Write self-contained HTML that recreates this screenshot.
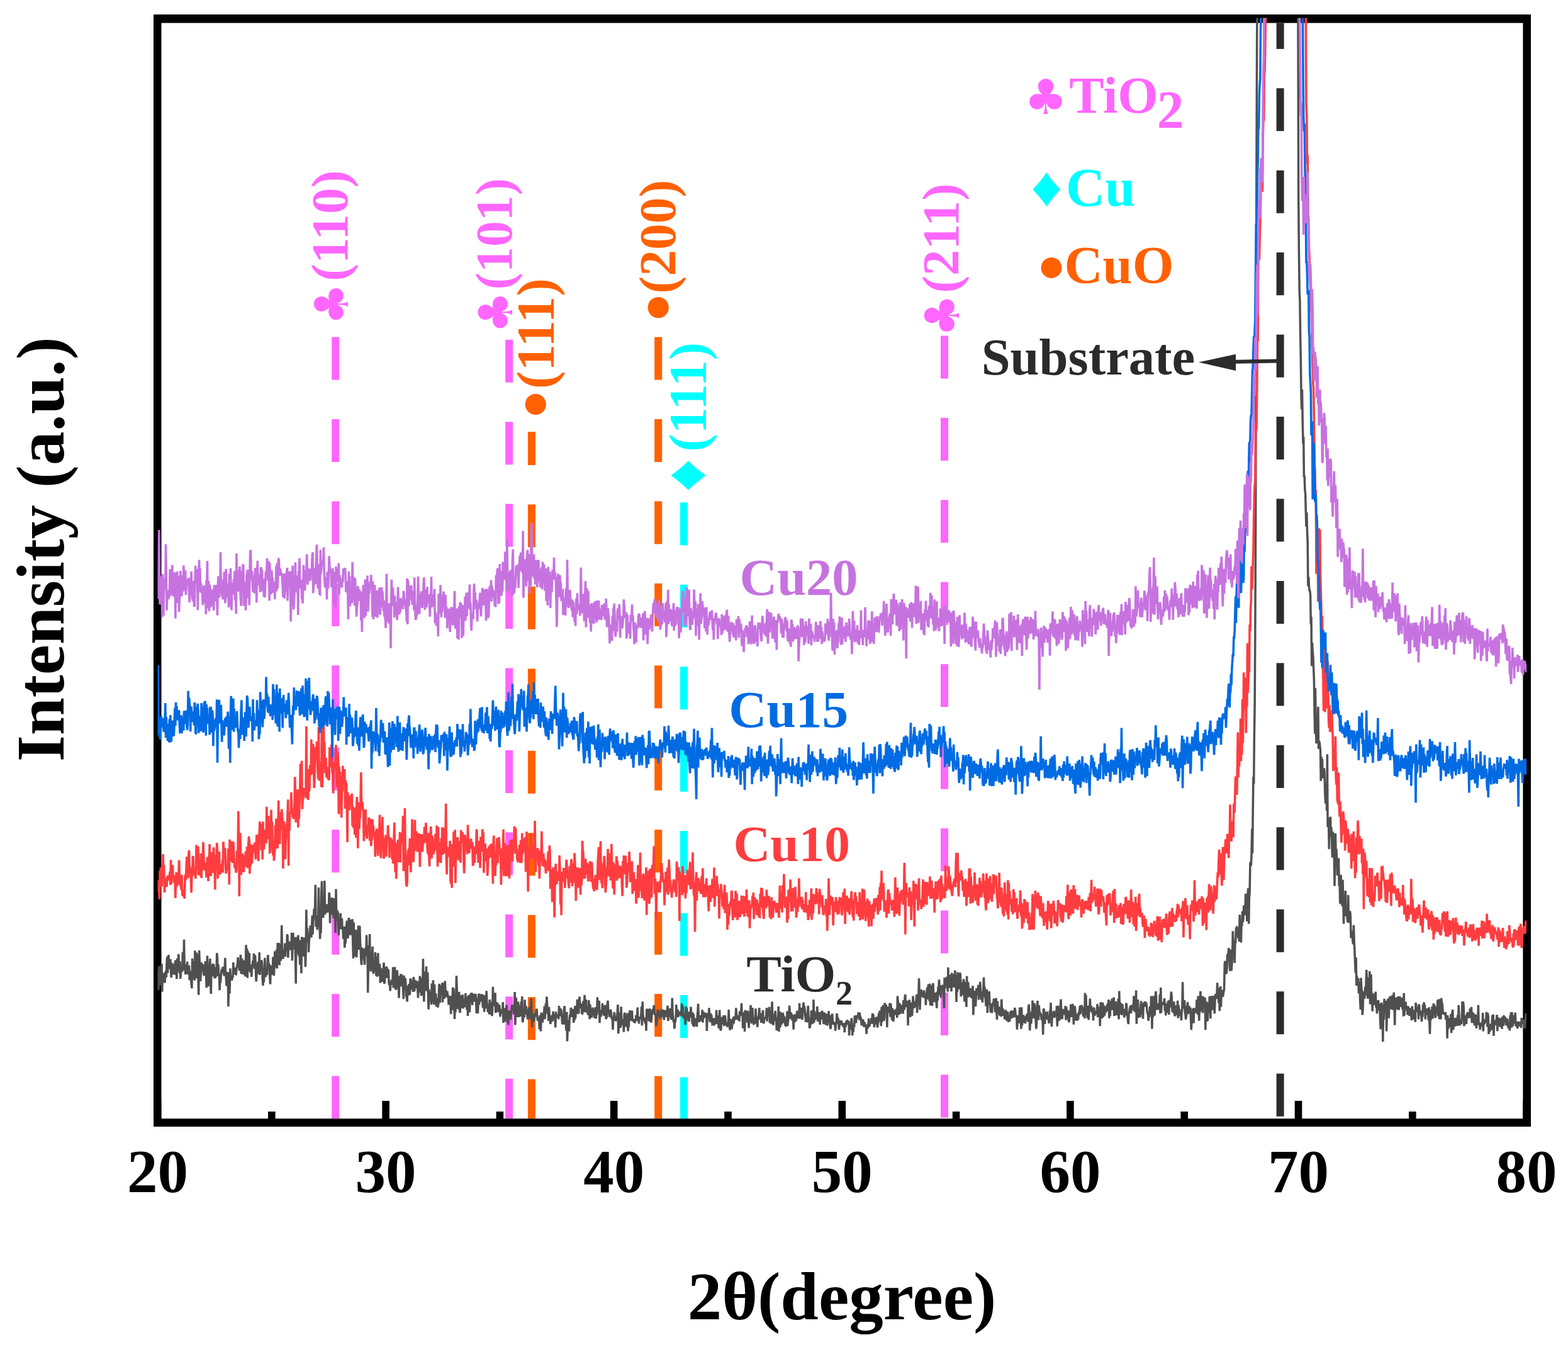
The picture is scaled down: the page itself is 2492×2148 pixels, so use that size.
<!DOCTYPE html>
<html><head><meta charset="utf-8"><title>XRD</title>
<style>html,body{margin:0;padding:0;background:#fff;overflow:hidden;}svg{display:block;}
text{font-family:"Liberation Serif","DejaVu Serif",serif;font-weight:bold;}</style></head>
<body><svg width="2492" height="2148" viewBox="0 0 2492 2148">
<rect width="2492" height="2148" fill="#fff"/>
<defs><clipPath id="pc"><rect x="250.5" y="28.5" width="2175.7" height="1755"/></clipPath></defs>

<g id="refs">
<rect x="527.2" y="535.5" width="12" height="68.0" fill="#FF66FF"/>
<rect x="527.2" y="666.0" width="12" height="68.0" fill="#FF66FF"/>
<rect x="527.2" y="796.4" width="12" height="68.0" fill="#FF66FF"/>
<rect x="527.2" y="926.9" width="12" height="68.0" fill="#FF66FF"/>
<rect x="527.2" y="1057.3" width="12" height="68.0" fill="#FF66FF"/>
<rect x="527.2" y="1187.8" width="12" height="68.0" fill="#FF66FF"/>
<rect x="527.2" y="1318.2" width="12" height="68.0" fill="#FF66FF"/>
<rect x="527.2" y="1448.7" width="12" height="68.0" fill="#FF66FF"/>
<rect x="527.2" y="1579.1" width="12" height="68.0" fill="#FF66FF"/>
<rect x="527.2" y="1709.6" width="12" height="67.4" fill="#FF66FF"/>
<rect x="803.2" y="539.7" width="12" height="68.0" fill="#FF66FF"/>
<rect x="803.2" y="670.2" width="12" height="68.0" fill="#FF66FF"/>
<rect x="803.2" y="800.6" width="12" height="68.0" fill="#FF66FF"/>
<rect x="803.2" y="931.1" width="12" height="68.0" fill="#FF66FF"/>
<rect x="803.2" y="1061.5" width="12" height="68.0" fill="#FF66FF"/>
<rect x="803.2" y="1192.0" width="12" height="68.0" fill="#FF66FF"/>
<rect x="803.2" y="1322.4" width="12" height="68.0" fill="#FF66FF"/>
<rect x="803.2" y="1452.9" width="12" height="68.0" fill="#FF66FF"/>
<rect x="803.2" y="1583.3" width="12" height="68.0" fill="#FF66FF"/>
<rect x="803.2" y="1713.8" width="12" height="63.2" fill="#FF66FF"/>
<rect x="838.9" y="686.0" width="12" height="53.0" fill="#FF6100"/>
<rect x="838.9" y="801.5" width="12" height="68.0" fill="#FF6100"/>
<rect x="838.9" y="931.9" width="12" height="68.0" fill="#FF6100"/>
<rect x="838.9" y="1062.4" width="12" height="68.0" fill="#FF6100"/>
<rect x="838.9" y="1192.8" width="12" height="68.0" fill="#FF6100"/>
<rect x="838.9" y="1323.3" width="12" height="68.0" fill="#FF6100"/>
<rect x="838.9" y="1453.7" width="12" height="68.0" fill="#FF6100"/>
<rect x="838.9" y="1584.2" width="12" height="68.0" fill="#FF6100"/>
<rect x="838.9" y="1714.6" width="12" height="62.4" fill="#FF6100"/>
<rect x="1040.2" y="535.5" width="12" height="68.0" fill="#FF6100"/>
<rect x="1040.2" y="666.0" width="12" height="68.0" fill="#FF6100"/>
<rect x="1040.2" y="796.4" width="12" height="68.0" fill="#FF6100"/>
<rect x="1040.2" y="926.9" width="12" height="68.0" fill="#FF6100"/>
<rect x="1040.2" y="1057.3" width="12" height="68.0" fill="#FF6100"/>
<rect x="1040.2" y="1187.8" width="12" height="68.0" fill="#FF6100"/>
<rect x="1040.2" y="1318.2" width="12" height="68.0" fill="#FF6100"/>
<rect x="1040.2" y="1448.7" width="12" height="68.0" fill="#FF6100"/>
<rect x="1040.2" y="1579.1" width="12" height="68.0" fill="#FF6100"/>
<rect x="1040.2" y="1709.6" width="12" height="67.4" fill="#FF6100"/>
<rect x="1081.0" y="798.3" width="12" height="68.0" fill="#00FFFF"/>
<rect x="1081.0" y="928.8" width="12" height="68.0" fill="#00FFFF"/>
<rect x="1081.0" y="1059.2" width="12" height="68.0" fill="#00FFFF"/>
<rect x="1081.0" y="1189.7" width="12" height="68.0" fill="#00FFFF"/>
<rect x="1081.0" y="1320.1" width="12" height="68.0" fill="#00FFFF"/>
<rect x="1081.0" y="1450.6" width="12" height="68.0" fill="#00FFFF"/>
<rect x="1081.0" y="1581.0" width="12" height="68.0" fill="#00FFFF"/>
<rect x="1081.0" y="1711.5" width="12" height="65.5" fill="#00FFFF"/>
<rect x="1495.0" y="533.4" width="12" height="68.0" fill="#FF66FF"/>
<rect x="1495.0" y="663.8" width="12" height="68.0" fill="#FF66FF"/>
<rect x="1495.0" y="794.3" width="12" height="68.0" fill="#FF66FF"/>
<rect x="1495.0" y="924.8" width="12" height="68.0" fill="#FF66FF"/>
<rect x="1495.0" y="1055.2" width="12" height="68.0" fill="#FF66FF"/>
<rect x="1495.0" y="1185.7" width="12" height="68.0" fill="#FF66FF"/>
<rect x="1495.0" y="1316.1" width="12" height="68.0" fill="#FF66FF"/>
<rect x="1495.0" y="1446.6" width="12" height="68.0" fill="#FF66FF"/>
<rect x="1495.0" y="1577.0" width="12" height="68.0" fill="#FF66FF"/>
<rect x="1495.0" y="1707.5" width="12" height="68.0" fill="#FF66FF"/>
<rect x="2028.6" y="36.5" width="12" height="41.3" fill="#2B2B2B"/>
<rect x="2028.6" y="140.2" width="12" height="68.0" fill="#2B2B2B"/>
<rect x="2028.6" y="270.7" width="12" height="68.0" fill="#2B2B2B"/>
<rect x="2028.6" y="401.1" width="12" height="68.0" fill="#2B2B2B"/>
<rect x="2028.6" y="531.6" width="12" height="68.0" fill="#2B2B2B"/>
<rect x="2028.6" y="662.0" width="12" height="68.0" fill="#2B2B2B"/>
<rect x="2028.6" y="792.5" width="12" height="68.0" fill="#2B2B2B"/>
<rect x="2028.6" y="923.0" width="12" height="68.0" fill="#2B2B2B"/>
<rect x="2028.6" y="1053.4" width="12" height="68.0" fill="#2B2B2B"/>
<rect x="2028.6" y="1183.9" width="12" height="68.0" fill="#2B2B2B"/>
<rect x="2028.6" y="1314.3" width="12" height="68.0" fill="#2B2B2B"/>
<rect x="2028.6" y="1444.8" width="12" height="68.0" fill="#2B2B2B"/>
<rect x="2028.6" y="1575.2" width="12" height="68.0" fill="#2B2B2B"/>
<rect x="2028.6" y="1705.7" width="12" height="68.0" fill="#2B2B2B"/>
</g>
<g fill="#000">
<rect x="244" y="23" width="2189" height="13.5"/>
<rect x="244" y="1777.2" width="2189" height="12.8"/>
<rect x="244" y="23" width="12.5" height="1767"/>
<rect x="2420.4" y="23" width="12.6" height="1767"/>
<rect x="244.7" y="1749" width="11.6" height="30"/>
<rect x="426.0" y="1766" width="11.6" height="13"/>
<rect x="607.3" y="1749" width="11.6" height="30"/>
<rect x="788.6" y="1766" width="11.6" height="13"/>
<rect x="969.9" y="1749" width="11.6" height="30"/>
<rect x="1151.2" y="1766" width="11.6" height="13"/>
<rect x="1332.5" y="1749" width="11.6" height="30"/>
<rect x="1513.8" y="1766" width="11.6" height="13"/>
<rect x="1695.1" y="1749" width="11.6" height="30"/>
<rect x="1876.4" y="1766" width="11.6" height="13"/>
<rect x="2057.7" y="1749" width="11.6" height="30"/>
<rect x="2239.0" y="1766" width="11.6" height="13"/>
<rect x="2420.3" y="1749" width="11.6" height="30"/>
</g>
<g clip-path="url(#pc)">
<polyline points="250.5,1543.5 251.2,1562.1 251.9,1572.9 252.7,1534.8 253.4,1544.0 254.1,1542.9 254.8,1565.2 255.6,1553.6 256.3,1565.7 257.0,1531.0 257.7,1575.6 258.5,1551.6 259.2,1560.6 259.9,1549.0 260.6,1545.9 261.4,1557.3 262.1,1561.5 262.8,1546.0 263.5,1542.7 264.3,1552.8 265.0,1529.7 265.7,1519.9 266.4,1545.8 267.2,1532.3 267.9,1517.0 268.6,1533.6 269.3,1539.2 270.1,1529.1 270.8,1523.8 271.5,1542.9 272.2,1553.2 273.0,1537.1 273.7,1529.8 274.4,1544.5 275.1,1547.6 275.9,1532.0 276.6,1542.2 277.3,1548.6 278.0,1532.3 278.8,1525.6 279.5,1543.2 280.2,1543.1 280.9,1555.4 281.7,1522.8 282.4,1531.1 283.1,1528.4 283.8,1515.7 284.6,1540.8 285.3,1545.7 286.0,1527.4 286.7,1555.2 287.5,1545.8 288.2,1541.5 288.9,1537.0 289.6,1543.9 290.4,1512.6 291.1,1540.0 291.8,1541.0 292.5,1492.8 293.3,1540.0 294.0,1532.9 294.7,1548.2 295.4,1532.4 296.2,1539.0 296.9,1544.4 297.6,1527.8 298.3,1548.0 299.1,1538.4 299.8,1547.0 300.5,1533.9 301.2,1557.2 302.0,1551.9 302.7,1542.4 303.4,1554.3 304.1,1563.2 304.9,1570.1 305.6,1522.9 306.3,1555.3 307.0,1548.3 307.8,1539.9 308.5,1527.0 309.2,1557.7 309.9,1510.2 310.7,1546.0 311.4,1554.5 312.1,1513.3 312.8,1530.2 313.6,1516.0 314.3,1537.1 315.0,1554.5 315.7,1580.8 316.5,1509.9 317.2,1527.1 317.9,1545.6 318.6,1558.8 319.4,1544.2 320.1,1529.1 320.8,1543.7 321.5,1539.8 322.3,1535.9 323.0,1531.8 323.7,1548.4 324.4,1548.6 325.2,1543.9 325.9,1542.2 326.6,1527.1 327.3,1536.6 328.1,1569.2 328.8,1536.9 329.5,1518.4 330.2,1567.5 331.0,1544.1 331.7,1566.3 332.4,1540.2 333.1,1534.8 333.9,1523.1 334.6,1561.5 335.3,1578.9 336.0,1533.5 336.8,1535.3 337.5,1551.1 338.2,1530.9 338.9,1537.3 339.7,1532.2 340.4,1542.3 341.1,1554.4 341.8,1540.6 342.6,1553.6 343.3,1536.7 344.0,1547.2 344.7,1514.1 345.5,1522.3 346.2,1551.1 346.9,1532.0 347.6,1547.8 348.4,1548.6 349.1,1573.3 349.8,1556.3 350.5,1561.1 351.3,1547.9 352.0,1541.6 352.7,1542.0 353.4,1545.3 354.2,1536.0 354.9,1542.2 355.6,1546.6 356.3,1550.1 357.1,1542.0 357.8,1521.7 358.5,1547.0 359.2,1553.3 360.0,1566.5 360.7,1561.1 361.4,1545.8 362.1,1544.8 362.9,1599.0 363.6,1563.0 364.3,1576.0 365.0,1578.6 365.8,1538.5 366.5,1553.6 367.2,1554.3 367.9,1555.9 368.7,1556.1 369.4,1551.9 370.1,1551.6 370.8,1529.0 371.6,1545.8 372.3,1537.2 373.0,1547.4 373.7,1537.5 374.5,1548.9 375.2,1548.1 375.9,1538.1 376.6,1535.9 377.4,1532.0 378.1,1521.0 378.8,1529.9 379.5,1526.3 380.3,1542.1 381.0,1533.9 381.7,1541.6 382.4,1516.8 383.2,1547.5 383.9,1527.2 384.6,1522.9 385.3,1539.1 386.1,1536.1 386.8,1548.4 387.5,1536.2 388.2,1527.2 389.0,1526.6 389.7,1551.5 390.4,1531.0 391.1,1501.4 391.9,1527.5 392.6,1507.0 393.3,1553.7 394.0,1510.8 394.8,1539.6 395.5,1541.3 396.2,1514.0 396.9,1539.6 397.7,1545.0 398.4,1537.1 399.1,1534.0 399.8,1552.0 400.6,1531.9 401.3,1533.4 402.0,1526.1 402.7,1535.8 403.5,1514.7 404.2,1539.3 404.9,1518.8 405.6,1517.9 406.4,1539.7 407.1,1559.4 407.8,1550.6 408.5,1531.1 409.3,1547.4 410.0,1527.9 410.7,1537.7 411.4,1542.6 412.2,1513.0 412.9,1549.0 413.6,1534.1 414.3,1538.8 415.1,1527.5 415.8,1525.5 416.5,1531.8 417.2,1554.7 418.0,1565.9 418.7,1544.1 419.4,1560.5 420.1,1543.6 420.9,1521.7 421.6,1550.3 422.3,1552.0 423.0,1539.1 423.8,1547.3 424.5,1548.9 425.2,1527.2 425.9,1517.0 426.7,1533.1 427.4,1531.5 428.1,1532.8 428.8,1552.7 429.6,1563.7 430.3,1533.8 431.0,1547.7 431.7,1548.5 432.5,1542.1 433.2,1543.5 433.9,1520.2 434.6,1533.6 435.4,1550.1 436.1,1532.0 436.8,1511.3 437.5,1534.3 438.3,1536.8 439.0,1523.0 439.7,1508.7 440.4,1538.6 441.2,1498.1 441.9,1523.2 442.6,1515.3 443.3,1498.0 444.1,1533.3 444.8,1521.3 445.5,1500.0 446.2,1526.4 447.0,1511.5 447.7,1470.1 448.4,1506.8 449.1,1519.7 449.9,1523.3 450.6,1514.1 451.3,1509.6 452.0,1513.2 452.8,1498.6 453.5,1519.8 454.2,1503.6 454.9,1508.5 455.7,1508.9 456.4,1484.3 457.1,1488.6 457.8,1521.7 458.6,1503.8 459.3,1495.6 460.0,1506.8 460.7,1496.4 461.5,1509.2 462.2,1495.5 462.9,1510.0 463.6,1481.9 464.4,1526.3 465.1,1498.3 465.8,1481.9 466.5,1502.6 467.3,1500.4 468.0,1508.4 468.7,1488.7 469.4,1512.6 470.2,1562.8 470.9,1488.8 471.6,1515.3 472.3,1507.0 473.1,1516.0 473.8,1485.7 474.5,1495.6 475.2,1519.4 476.0,1509.7 476.7,1533.0 477.4,1493.9 478.1,1505.1 478.9,1546.4 479.6,1489.8 480.3,1489.3 481.0,1504.6 481.8,1505.8 482.5,1519.7 483.2,1506.6 483.9,1489.3 484.7,1500.8 485.4,1536.1 486.1,1511.9 486.8,1445.4 487.6,1487.2 488.3,1474.4 489.0,1497.2 489.7,1481.7 490.5,1513.0 491.2,1493.4 491.9,1490.0 492.6,1478.2 493.4,1470.4 494.1,1475.1 494.8,1489.5 495.5,1475.3 496.3,1454.6 497.0,1484.6 497.7,1464.5 498.4,1457.9 499.2,1443.5 499.9,1445.4 500.6,1443.0 501.3,1405.8 502.1,1472.6 502.8,1466.6 503.5,1454.6 504.2,1477.3 505.0,1466.2 505.7,1463.2 506.4,1410.0 507.1,1445.8 507.9,1455.6 508.6,1491.6 509.3,1473.3 510.0,1482.4 510.8,1418.3 511.5,1399.8 512.2,1449.5 512.9,1440.2 513.7,1458.1 514.4,1440.1 515.1,1448.0 515.8,1399.2 516.6,1453.0 517.3,1436.2 518.0,1449.2 518.7,1449.9 519.5,1438.1 520.2,1444.4 520.9,1436.7 521.6,1449.4 522.4,1444.0 523.1,1418.0 523.8,1424.5 524.5,1466.7 525.3,1433.3 526.0,1453.3 526.7,1443.2 527.4,1427.6 528.2,1426.8 528.9,1445.3 529.6,1450.4 530.3,1458.8 531.1,1427.0 531.8,1440.6 532.5,1451.0 533.2,1482.1 534.0,1412.5 534.7,1462.2 535.4,1445.2 536.1,1463.0 536.9,1447.7 537.6,1468.4 538.3,1486.0 539.0,1465.6 539.8,1467.7 540.5,1468.2 541.2,1451.1 541.9,1476.4 542.7,1466.4 543.4,1458.9 544.1,1474.1 544.8,1473.3 545.6,1491.6 546.3,1478.9 547.0,1472.1 547.7,1505.6 548.5,1496.4 549.2,1498.7 549.9,1484.7 550.6,1470.5 551.4,1464.5 552.1,1464.8 552.8,1490.9 553.5,1480.8 554.3,1458.0 555.0,1483.6 555.7,1461.2 556.4,1485.6 557.2,1462.4 557.9,1461.5 558.6,1485.1 559.3,1483.9 560.1,1460.2 560.8,1499.7 561.5,1522.8 562.2,1465.5 563.0,1519.5 563.7,1482.0 564.4,1482.4 565.1,1495.3 565.9,1477.2 566.6,1521.1 567.3,1507.8 568.0,1486.7 568.8,1491.8 569.5,1470.5 570.2,1487.9 570.9,1508.9 571.7,1470.8 572.4,1494.3 573.1,1507.4 573.8,1525.1 574.6,1533.1 575.3,1508.4 576.0,1505.7 576.7,1523.5 577.5,1509.6 578.2,1507.7 578.9,1525.7 579.6,1532.8 580.4,1511.4 581.1,1505.7 581.8,1519.0 582.5,1485.5 583.3,1515.1 584.0,1502.0 584.7,1577.3 585.4,1530.1 586.2,1522.1 586.9,1515.3 587.6,1484.1 588.3,1529.9 589.1,1543.5 589.8,1511.7 590.5,1532.5 591.2,1534.1 592.0,1503.7 592.7,1539.6 593.4,1547.1 594.1,1533.2 594.9,1530.8 595.6,1543.8 596.3,1512.8 597.0,1535.9 597.8,1549.8 598.5,1519.6 599.2,1551.7 599.9,1534.6 600.7,1514.1 601.4,1542.6 602.1,1532.3 602.8,1550.6 603.6,1531.2 604.3,1561.6 605.0,1537.9 605.7,1552.4 606.5,1538.9 607.2,1541.2 607.9,1560.0 608.6,1546.5 609.4,1539.0 610.1,1529.3 610.8,1562.9 611.5,1558.9 612.3,1546.0 613.0,1554.0 613.7,1537.4 614.4,1537.2 615.2,1538.8 615.9,1553.3 616.6,1552.4 617.3,1540.0 618.1,1561.6 618.8,1565.5 619.5,1561.1 620.2,1574.4 621.0,1558.1 621.7,1559.4 622.4,1564.7 623.1,1555.8 623.9,1564.0 624.6,1536.5 625.3,1569.7 626.0,1542.0 626.8,1549.1 627.5,1536.3 628.2,1562.4 628.9,1572.2 629.7,1571.3 630.4,1569.9 631.1,1541.4 631.8,1552.1 632.6,1556.5 633.3,1550.6 634.0,1585.7 634.7,1563.9 635.5,1561.1 636.2,1567.2 636.9,1549.1 637.6,1549.2 638.4,1549.3 639.1,1566.5 639.8,1565.5 640.5,1569.9 641.3,1587.1 642.0,1549.9 642.7,1561.3 643.4,1571.3 644.2,1553.9 644.9,1564.2 645.6,1582.8 646.3,1583.3 647.1,1591.4 647.8,1569.3 648.5,1566.0 649.2,1581.3 650.0,1563.2 650.7,1570.6 651.4,1580.8 652.1,1555.9 652.9,1555.2 653.6,1562.3 654.3,1570.4 655.0,1570.7 655.8,1569.0 656.5,1575.9 657.2,1552.3 657.9,1555.2 658.7,1575.2 659.4,1562.7 660.1,1558.0 660.8,1559.4 661.6,1562.4 662.3,1570.0 663.0,1558.5 663.7,1571.0 664.5,1585.4 665.2,1560.6 665.9,1577.0 666.6,1565.7 667.4,1550.7 668.1,1562.4 668.8,1555.4 669.5,1582.3 670.3,1553.6 671.0,1580.7 671.7,1570.6 672.4,1523.2 673.2,1576.8 673.9,1591.5 674.6,1552.9 675.3,1573.9 676.1,1543.6 676.8,1568.2 677.5,1535.3 678.2,1574.8 679.0,1551.8 679.7,1545.0 680.4,1581.1 681.1,1603.8 681.9,1572.1 682.6,1588.4 683.3,1580.3 684.0,1575.3 684.8,1585.4 685.5,1596.1 686.2,1562.5 686.9,1581.6 687.7,1578.1 688.4,1557.4 689.1,1591.4 689.8,1595.6 690.6,1564.0 691.3,1596.2 692.0,1579.4 692.7,1578.9 693.5,1599.3 694.2,1585.8 694.9,1587.2 695.6,1600.5 696.4,1597.5 697.1,1592.4 697.8,1565.8 698.5,1563.2 699.3,1593.1 700.0,1569.0 700.7,1580.7 701.4,1566.2 702.2,1575.1 702.9,1561.4 703.6,1592.4 704.3,1561.5 705.1,1570.8 705.8,1570.3 706.5,1586.6 707.2,1558.6 708.0,1574.8 708.7,1573.5 709.4,1582.2 710.1,1582.8 710.9,1574.6 711.6,1585.0 712.3,1581.2 713.0,1596.3 713.8,1588.2 714.5,1582.6 715.2,1588.7 715.9,1591.8 716.7,1611.2 717.4,1582.1 718.1,1591.3 718.8,1604.6 719.6,1568.7 720.3,1573.0 721.0,1570.5 721.7,1591.1 722.5,1618.9 723.2,1598.5 723.9,1607.8 724.6,1592.8 725.4,1550.4 726.1,1569.0 726.8,1603.0 727.5,1594.7 728.3,1577.5 729.0,1603.2 729.7,1575.9 730.4,1605.0 731.2,1608.9 731.9,1585.6 732.6,1581.5 733.3,1601.6 734.1,1580.7 734.8,1601.6 735.5,1580.3 736.2,1602.3 737.0,1595.7 737.7,1591.1 738.4,1587.2 739.1,1600.2 739.9,1578.0 740.6,1595.2 741.3,1593.5 742.0,1604.3 742.8,1583.0 743.5,1613.9 744.2,1591.2 744.9,1581.0 745.7,1606.5 746.4,1608.2 747.1,1587.4 747.8,1578.8 748.6,1587.1 749.3,1577.4 750.0,1578.9 750.7,1596.8 751.5,1582.7 752.2,1579.4 752.9,1582.0 753.6,1578.8 754.4,1589.6 755.1,1591.2 755.8,1579.0 756.5,1584.8 757.3,1610.0 758.0,1590.5 758.7,1585.7 759.4,1610.2 760.2,1589.8 760.9,1578.5 761.6,1596.4 762.3,1579.6 763.1,1583.3 763.8,1591.6 764.5,1587.2 765.2,1581.2 766.0,1579.9 766.7,1583.6 767.4,1601.1 768.1,1581.6 768.9,1582.4 769.6,1607.7 770.3,1581.6 771.0,1601.9 771.8,1600.4 772.5,1586.3 773.2,1574.3 773.9,1593.3 774.7,1596.7 775.4,1607.9 776.1,1594.8 776.8,1607.7 777.6,1610.9 778.3,1588.1 779.0,1611.9 779.7,1600.8 780.5,1591.9 781.2,1593.6 781.9,1614.1 782.6,1605.6 783.4,1567.8 784.1,1598.0 784.8,1596.6 785.5,1597.2 786.3,1591.6 787.0,1577.3 787.7,1609.1 788.4,1592.0 789.2,1596.9 789.9,1594.3 790.6,1593.2 791.3,1607.9 792.1,1606.0 792.8,1597.7 793.5,1596.5 794.2,1601.7 795.0,1615.4 795.7,1607.6 796.4,1608.7 797.1,1603.8 797.9,1605.1 798.6,1610.4 799.3,1592.1 800.0,1625.0 800.8,1603.3 801.5,1601.9 802.2,1623.2 802.9,1612.6 803.7,1610.7 804.4,1604.9 805.1,1596.6 805.8,1613.9 806.6,1624.8 807.3,1607.0 808.0,1628.5 808.7,1605.6 809.5,1608.6 810.2,1619.1 810.9,1613.8 811.6,1619.8 812.4,1606.7 813.1,1604.1 813.8,1596.3 814.5,1601.8 815.3,1602.0 816.0,1597.6 816.7,1612.0 817.4,1601.9 818.2,1576.0 818.9,1628.4 819.6,1597.4 820.3,1584.9 821.1,1615.2 821.8,1614.5 822.5,1593.8 823.2,1591.5 824.0,1596.4 824.7,1616.0 825.4,1602.7 826.1,1597.6 826.9,1604.1 827.6,1614.9 828.3,1591.3 829.0,1600.6 829.8,1583.0 830.5,1624.3 831.2,1621.3 831.9,1613.7 832.7,1604.2 833.4,1616.2 834.1,1588.2 834.8,1611.3 835.6,1598.6 836.3,1600.4 837.0,1607.0 837.7,1610.3 838.5,1617.8 839.2,1617.6 839.9,1612.3 840.6,1600.3 841.4,1614.2 842.1,1607.1 842.8,1619.5 843.5,1601.7 844.3,1586.3 845.0,1607.7 845.7,1631.8 846.4,1617.0 847.2,1611.3 847.9,1621.2 848.6,1621.3 849.3,1618.0 850.1,1609.2 850.8,1614.2 851.5,1614.9 852.2,1607.0 853.0,1602.7 853.7,1614.1 854.4,1621.9 855.1,1619.4 855.9,1618.0 856.6,1617.6 857.3,1635.1 858.0,1613.1 858.8,1618.9 859.5,1638.4 860.2,1608.9 860.9,1610.6 861.7,1624.0 862.4,1623.3 863.1,1613.2 863.8,1611.9 864.6,1609.8 865.3,1598.6 866.0,1619.2 866.7,1607.0 867.5,1593.8 868.2,1607.7 868.9,1583.4 869.6,1594.9 870.4,1611.2 871.1,1603.8 871.8,1621.9 872.5,1599.9 873.3,1615.5 874.0,1618.5 874.7,1626.9 875.4,1622.5 876.2,1616.5 876.9,1614.7 877.6,1612.8 878.3,1622.7 879.1,1606.9 879.8,1617.5 880.5,1612.8 881.2,1616.3 882.0,1612.0 882.7,1632.4 883.4,1607.4 884.1,1614.5 884.9,1613.9 885.6,1616.2 886.3,1614.5 887.0,1614.2 887.8,1619.1 888.5,1598.1 889.2,1611.7 889.9,1601.5 890.7,1614.7 891.4,1603.1 892.1,1605.8 892.8,1614.3 893.6,1627.4 894.3,1620.8 895.0,1618.4 895.7,1627.7 896.5,1602.2 897.2,1598.4 897.9,1613.4 898.6,1615.7 899.4,1629.4 900.1,1637.6 900.8,1607.8 901.5,1654.4 902.3,1631.2 903.0,1624.7 903.7,1620.7 904.4,1638.6 905.2,1617.7 905.9,1611.7 906.6,1615.6 907.3,1600.8 908.1,1615.9 908.8,1610.2 909.5,1614.1 910.2,1614.9 911.0,1602.8 911.7,1624.9 912.4,1604.1 913.1,1621.4 913.9,1598.1 914.6,1617.9 915.3,1603.5 916.0,1611.1 916.8,1603.4 917.5,1587.9 918.2,1596.6 918.9,1606.4 919.7,1610.6 920.4,1590.1 921.1,1583.5 921.8,1595.3 922.6,1601.5 923.3,1596.9 924.0,1594.4 924.7,1609.7 925.5,1610.1 926.2,1607.3 926.9,1590.2 927.6,1599.2 928.4,1593.8 929.1,1580.9 929.8,1608.3 930.5,1593.5 931.3,1588.1 932.0,1608.0 932.7,1603.2 933.4,1605.8 934.2,1610.7 934.9,1612.2 935.6,1589.0 936.3,1595.8 937.1,1619.2 937.8,1595.9 938.5,1603.8 939.2,1607.1 940.0,1616.6 940.7,1614.9 941.4,1610.9 942.1,1600.7 942.9,1611.2 943.6,1608.1 944.3,1602.6 945.0,1617.6 945.8,1610.7 946.5,1600.0 947.2,1618.5 947.9,1604.8 948.7,1612.4 949.4,1584.3 950.1,1607.3 950.8,1599.0 951.6,1598.6 952.3,1589.9 953.0,1625.1 953.7,1604.8 954.5,1608.1 955.2,1615.5 955.9,1604.7 956.6,1610.1 957.4,1594.0 958.1,1608.0 958.8,1603.8 959.5,1613.1 960.3,1612.0 961.0,1600.0 961.7,1597.0 962.4,1604.4 963.2,1619.1 963.9,1615.9 964.6,1615.4 965.3,1595.0 966.1,1589.8 966.8,1607.7 967.5,1610.4 968.2,1608.0 969.0,1615.9 969.7,1611.6 970.4,1603.8 971.1,1607.6 971.9,1617.4 972.6,1617.7 973.3,1616.9 974.0,1636.0 974.8,1614.8 975.5,1617.6 976.2,1608.2 976.9,1613.2 977.7,1620.3 978.4,1620.7 979.1,1615.4 979.8,1621.0 980.6,1619.8 981.3,1605.9 982.0,1596.2 982.7,1642.2 983.5,1630.3 984.2,1622.7 984.9,1608.4 985.6,1611.7 986.4,1632.9 987.1,1599.4 987.8,1619.4 988.5,1628.9 989.3,1622.5 990.0,1627.0 990.7,1619.4 991.4,1639.7 992.2,1611.7 992.9,1608.9 993.6,1622.2 994.3,1631.6 995.1,1619.5 995.8,1628.4 996.5,1615.3 997.2,1609.6 998.0,1638.3 998.7,1631.1 999.4,1630.2 1000.1,1613.4 1000.9,1606.7 1001.6,1605.9 1002.3,1613.2 1003.0,1620.0 1003.8,1620.3 1004.5,1605.7 1005.2,1620.6 1005.9,1620.4 1006.7,1621.7 1007.4,1620.9 1008.1,1619.3 1008.8,1625.5 1009.6,1621.8 1010.3,1621.2 1011.0,1613.0 1011.7,1621.6 1012.5,1617.1 1013.2,1600.6 1013.9,1622.4 1014.6,1616.4 1015.4,1626.4 1016.1,1617.1 1016.8,1617.1 1017.5,1618.8 1018.3,1616.0 1019.0,1611.3 1019.7,1599.1 1020.4,1629.4 1021.2,1591.2 1021.9,1611.6 1022.6,1620.7 1023.3,1619.0 1024.1,1620.9 1024.8,1622.3 1025.5,1625.8 1026.2,1616.5 1027.0,1637.8 1027.7,1602.9 1028.4,1612.5 1029.1,1604.4 1029.9,1604.7 1030.6,1612.0 1031.3,1622.6 1032.0,1604.1 1032.8,1604.0 1033.5,1615.9 1034.2,1613.3 1034.9,1624.6 1035.7,1615.5 1036.4,1608.0 1037.1,1603.2 1037.8,1608.5 1038.6,1605.0 1039.3,1597.0 1040.0,1610.8 1040.7,1611.2 1041.5,1610.9 1042.2,1611.5 1042.9,1630.2 1043.6,1621.0 1044.4,1622.5 1045.1,1608.2 1045.8,1603.8 1046.5,1609.5 1047.3,1614.8 1048.0,1607.5 1048.7,1608.5 1049.4,1618.6 1050.2,1613.5 1050.9,1603.4 1051.6,1609.2 1052.3,1608.0 1053.1,1615.6 1053.8,1604.2 1054.5,1612.9 1055.2,1620.4 1056.0,1614.3 1056.7,1605.3 1057.4,1606.4 1058.1,1611.2 1058.9,1613.0 1059.6,1615.4 1060.3,1607.1 1061.0,1597.7 1061.8,1622.0 1062.5,1614.8 1063.2,1614.4 1063.9,1613.7 1064.7,1602.1 1065.4,1608.2 1066.1,1613.2 1066.8,1620.1 1067.6,1612.2 1068.3,1585.6 1069.0,1610.3 1069.7,1615.7 1070.5,1624.0 1071.2,1619.3 1071.9,1634.4 1072.6,1624.6 1073.4,1622.5 1074.1,1617.2 1074.8,1596.0 1075.5,1614.1 1076.3,1612.2 1077.0,1603.6 1077.7,1614.3 1078.4,1614.1 1079.2,1607.3 1079.9,1610.3 1080.6,1608.8 1081.3,1612.5 1082.1,1606.6 1082.8,1614.7 1083.5,1594.2 1084.2,1608.6 1085.0,1597.5 1085.7,1608.5 1086.4,1617.8 1087.1,1614.4 1087.9,1613.8 1088.6,1615.6 1089.3,1628.3 1090.0,1599.0 1090.8,1622.1 1091.5,1601.5 1092.2,1610.2 1092.9,1615.9 1093.7,1608.1 1094.4,1618.0 1095.1,1623.2 1095.8,1607.4 1096.6,1616.3 1097.3,1613.7 1098.0,1599.7 1098.7,1613.9 1099.5,1608.5 1100.2,1626.7 1100.9,1608.3 1101.6,1630.1 1102.4,1611.1 1103.1,1631.4 1103.8,1619.1 1104.5,1618.1 1105.3,1621.3 1106.0,1622.8 1106.7,1627.8 1107.4,1631.2 1108.2,1614.2 1108.9,1606.7 1109.6,1594.7 1110.3,1613.7 1111.1,1623.5 1111.8,1621.1 1112.5,1619.9 1113.2,1614.7 1114.0,1614.6 1114.7,1615.7 1115.4,1622.3 1116.1,1604.4 1116.9,1624.6 1117.6,1607.1 1118.3,1618.0 1119.0,1610.7 1119.8,1616.4 1120.5,1610.7 1121.2,1609.5 1121.9,1616.7 1122.7,1609.6 1123.4,1638.0 1124.1,1615.1 1124.8,1613.5 1125.6,1614.9 1126.3,1611.5 1127.0,1601.3 1127.7,1619.3 1128.5,1624.0 1129.2,1609.6 1129.9,1621.5 1130.6,1611.9 1131.4,1621.6 1132.1,1627.4 1132.8,1627.0 1133.5,1626.7 1134.3,1617.4 1135.0,1629.3 1135.7,1618.2 1136.4,1624.2 1137.2,1627.0 1137.9,1619.3 1138.6,1604.8 1139.3,1627.2 1140.1,1613.7 1140.8,1615.4 1141.5,1613.8 1142.2,1633.8 1143.0,1621.2 1143.7,1604.5 1144.4,1627.5 1145.1,1637.4 1145.9,1634.7 1146.6,1615.6 1147.3,1620.7 1148.0,1624.3 1148.8,1627.6 1149.5,1621.3 1150.2,1613.0 1150.9,1628.3 1151.7,1627.9 1152.4,1613.2 1153.1,1621.6 1153.8,1627.3 1154.6,1625.6 1155.3,1629.8 1156.0,1631.3 1156.7,1628.3 1157.5,1622.1 1158.2,1604.0 1158.9,1626.6 1159.6,1632.5 1160.4,1636.7 1161.1,1620.3 1161.8,1620.6 1162.5,1632.6 1163.3,1633.0 1164.0,1624.7 1164.7,1627.7 1165.4,1615.8 1166.2,1626.2 1166.9,1614.5 1167.6,1619.4 1168.3,1619.0 1169.1,1615.4 1169.8,1601.4 1170.5,1610.9 1171.2,1619.6 1172.0,1616.0 1172.7,1613.1 1173.4,1619.2 1174.1,1620.5 1174.9,1620.9 1175.6,1606.7 1176.3,1613.0 1177.0,1610.3 1177.8,1606.5 1178.5,1593.8 1179.2,1614.5 1179.9,1608.9 1180.7,1633.7 1181.4,1615.1 1182.1,1613.2 1182.8,1608.3 1183.6,1638.9 1184.3,1604.7 1185.0,1611.0 1185.7,1606.4 1186.5,1612.5 1187.2,1614.0 1187.9,1625.0 1188.6,1605.9 1189.4,1618.8 1190.1,1633.2 1190.8,1616.2 1191.5,1618.8 1192.3,1612.2 1193.0,1596.9 1193.7,1616.4 1194.4,1626.2 1195.2,1612.2 1195.9,1601.0 1196.6,1619.1 1197.3,1618.2 1198.1,1626.5 1198.8,1626.1 1199.5,1616.3 1200.2,1621.3 1201.0,1602.4 1201.7,1625.8 1202.4,1617.7 1203.1,1625.3 1203.9,1631.7 1204.6,1615.1 1205.3,1616.8 1206.0,1611.1 1206.8,1601.3 1207.5,1617.3 1208.2,1619.6 1208.9,1609.6 1209.7,1624.7 1210.4,1619.9 1211.1,1623.0 1211.8,1613.1 1212.6,1605.0 1213.3,1626.0 1214.0,1624.7 1214.7,1618.8 1215.5,1616.3 1216.2,1617.6 1216.9,1618.5 1217.6,1614.8 1218.4,1601.2 1219.1,1622.6 1219.8,1602.3 1220.5,1610.6 1221.3,1610.1 1222.0,1614.7 1222.7,1599.7 1223.4,1623.6 1224.2,1623.6 1224.9,1621.8 1225.6,1626.6 1226.3,1610.2 1227.1,1591.3 1227.8,1619.9 1228.5,1628.1 1229.2,1627.3 1230.0,1610.7 1230.7,1618.0 1231.4,1621.9 1232.1,1606.0 1232.9,1616.6 1233.6,1618.1 1234.3,1637.1 1235.0,1619.3 1235.8,1637.0 1236.5,1623.5 1237.2,1599.0 1237.9,1639.0 1238.7,1606.5 1239.4,1624.0 1240.1,1632.3 1240.8,1610.9 1241.6,1608.5 1242.3,1627.6 1243.0,1620.2 1243.7,1609.8 1244.5,1610.6 1245.2,1615.4 1245.9,1625.5 1246.6,1614.6 1247.4,1621.8 1248.1,1629.9 1248.8,1627.2 1249.5,1629.4 1250.3,1628.8 1251.0,1606.5 1251.7,1630.1 1252.4,1622.9 1253.2,1619.1 1253.9,1611.0 1254.6,1597.5 1255.3,1610.2 1256.1,1618.6 1256.8,1608.5 1257.5,1610.7 1258.2,1611.7 1259.0,1621.7 1259.7,1613.7 1260.4,1614.3 1261.1,1635.6 1261.9,1615.5 1262.6,1624.2 1263.3,1611.3 1264.0,1622.9 1264.8,1620.7 1265.5,1620.0 1266.2,1612.9 1266.9,1605.9 1267.7,1609.5 1268.4,1606.3 1269.1,1617.8 1269.8,1617.1 1270.6,1593.9 1271.3,1617.6 1272.0,1609.8 1272.7,1618.2 1273.5,1610.3 1274.2,1601.1 1274.9,1620.2 1275.6,1614.0 1276.4,1598.8 1277.1,1592.6 1277.8,1603.6 1278.5,1598.7 1279.3,1606.4 1280.0,1615.6 1280.7,1623.8 1281.4,1609.4 1282.2,1624.0 1282.9,1621.9 1283.6,1608.3 1284.3,1597.9 1285.1,1618.8 1285.8,1617.2 1286.5,1632.1 1287.2,1633.4 1288.0,1620.3 1288.7,1627.9 1289.4,1605.2 1290.1,1614.8 1290.9,1608.9 1291.6,1626.6 1292.3,1617.2 1293.0,1588.1 1293.8,1624.9 1294.5,1606.7 1295.2,1620.6 1295.9,1610.2 1296.7,1617.3 1297.4,1618.5 1298.1,1614.3 1298.8,1599.1 1299.6,1623.2 1300.3,1615.0 1301.0,1611.8 1301.7,1621.9 1302.5,1608.0 1303.2,1627.9 1303.9,1615.0 1304.6,1619.0 1305.4,1617.4 1306.1,1607.9 1306.8,1606.1 1307.5,1617.5 1308.3,1618.7 1309.0,1627.0 1309.7,1620.3 1310.4,1608.7 1311.2,1622.6 1311.9,1625.9 1312.6,1628.0 1313.3,1623.0 1314.1,1610.7 1314.8,1629.4 1315.5,1613.9 1316.2,1623.8 1317.0,1606.4 1317.7,1625.0 1318.4,1613.2 1319.1,1628.7 1319.9,1634.9 1320.6,1630.7 1321.3,1612.5 1322.0,1614.6 1322.8,1610.6 1323.5,1627.7 1324.2,1625.2 1324.9,1623.7 1325.7,1625.0 1326.4,1627.6 1327.1,1628.6 1327.8,1637.5 1328.6,1623.8 1329.3,1626.3 1330.0,1610.2 1330.7,1615.2 1331.5,1620.9 1332.2,1617.5 1332.9,1629.2 1333.6,1635.8 1334.4,1623.7 1335.1,1622.9 1335.8,1622.3 1336.5,1627.2 1337.3,1621.3 1338.0,1628.8 1338.7,1627.5 1339.4,1627.8 1340.2,1631.5 1340.9,1625.8 1341.6,1626.9 1342.3,1640.2 1343.1,1625.2 1343.8,1632.0 1344.5,1625.9 1345.2,1622.1 1346.0,1622.8 1346.7,1620.5 1347.4,1628.0 1348.1,1623.2 1348.9,1622.4 1349.6,1645.3 1350.3,1626.3 1351.0,1635.7 1351.8,1628.5 1352.5,1630.4 1353.2,1617.5 1353.9,1623.8 1354.7,1645.2 1355.4,1631.6 1356.1,1639.7 1356.8,1627.7 1357.6,1632.0 1358.3,1614.0 1359.0,1614.7 1359.7,1623.4 1360.5,1625.2 1361.2,1614.4 1361.9,1616.0 1362.6,1612.9 1363.4,1617.0 1364.1,1609.8 1364.8,1608.9 1365.5,1620.7 1366.3,1608.6 1367.0,1616.0 1367.7,1616.2 1368.4,1618.1 1369.2,1629.2 1369.9,1624.3 1370.6,1627.3 1371.3,1619.8 1372.1,1621.6 1372.8,1631.3 1373.5,1630.2 1374.2,1624.0 1375.0,1631.1 1375.7,1630.4 1376.4,1631.6 1377.1,1642.6 1377.9,1627.3 1378.6,1633.4 1379.3,1632.8 1380.0,1626.7 1380.8,1618.1 1381.5,1631.2 1382.2,1628.2 1382.9,1624.8 1383.7,1624.1 1384.4,1624.2 1385.1,1617.1 1385.8,1626.5 1386.6,1609.9 1387.3,1623.7 1388.0,1611.7 1388.7,1620.3 1389.5,1632.1 1390.2,1618.4 1390.9,1617.6 1391.6,1627.6 1392.4,1618.2 1393.1,1616.9 1393.8,1617.0 1394.5,1632.5 1395.3,1625.6 1396.0,1623.7 1396.7,1609.3 1397.4,1622.9 1398.2,1605.9 1398.9,1619.2 1399.6,1605.3 1400.3,1630.1 1401.1,1599.8 1401.8,1623.6 1402.5,1619.5 1403.2,1597.0 1404.0,1608.8 1404.7,1621.8 1405.4,1618.0 1406.1,1593.3 1406.9,1602.3 1407.6,1596.3 1408.3,1597.4 1409.0,1600.5 1409.8,1632.3 1410.5,1606.0 1411.2,1601.7 1411.9,1599.5 1412.7,1607.4 1413.4,1607.4 1414.1,1593.6 1414.8,1615.6 1415.6,1594.1 1416.3,1602.2 1417.0,1609.3 1417.7,1620.8 1418.5,1602.0 1419.2,1607.1 1419.9,1623.2 1420.6,1608.1 1421.4,1611.9 1422.1,1610.9 1422.8,1604.2 1423.5,1608.3 1424.3,1611.5 1425.0,1602.1 1425.7,1616.9 1426.4,1582.5 1427.2,1591.3 1427.9,1612.6 1428.6,1603.1 1429.3,1593.5 1430.1,1603.8 1430.8,1611.1 1431.5,1595.9 1432.2,1608.4 1433.0,1599.6 1433.7,1599.2 1434.4,1599.4 1435.1,1610.6 1435.9,1589.1 1436.6,1595.7 1437.3,1604.5 1438.0,1584.9 1438.8,1580.0 1439.5,1600.0 1440.2,1594.7 1440.9,1594.5 1441.7,1599.0 1442.4,1589.9 1443.1,1629.2 1443.8,1592.2 1444.6,1598.0 1445.3,1588.3 1446.0,1597.6 1446.7,1615.8 1447.5,1599.9 1448.2,1604.3 1448.9,1592.5 1449.6,1614.1 1450.4,1596.9 1451.1,1582.4 1451.8,1602.1 1452.5,1590.8 1453.3,1600.9 1454.0,1596.8 1454.7,1598.6 1455.4,1597.6 1456.2,1586.9 1456.9,1579.8 1457.6,1609.2 1458.3,1589.9 1459.1,1592.7 1459.8,1584.6 1460.5,1554.3 1461.2,1577.0 1462.0,1604.2 1462.7,1581.5 1463.4,1581.3 1464.1,1572.1 1464.9,1580.7 1465.6,1581.7 1466.3,1583.0 1467.0,1584.3 1467.8,1578.1 1468.5,1573.5 1469.2,1582.6 1469.9,1585.6 1470.7,1579.2 1471.4,1597.0 1472.1,1579.2 1472.8,1577.6 1473.6,1568.8 1474.3,1587.6 1475.0,1567.8 1475.7,1563.7 1476.5,1572.5 1477.2,1590.6 1477.9,1562.9 1478.6,1597.5 1479.4,1582.5 1480.1,1565.2 1480.8,1577.8 1481.5,1598.0 1482.3,1567.9 1483.0,1562.0 1483.7,1581.8 1484.4,1591.6 1485.2,1590.1 1485.9,1577.0 1486.6,1583.3 1487.3,1584.3 1488.1,1592.4 1488.8,1601.7 1489.5,1575.6 1490.2,1589.9 1491.0,1567.9 1491.7,1580.9 1492.4,1556.3 1493.1,1566.2 1493.9,1579.7 1494.6,1565.5 1495.3,1585.1 1496.0,1568.1 1496.8,1573.6 1497.5,1569.7 1498.2,1564.7 1498.9,1568.4 1499.7,1578.5 1500.4,1601.9 1501.1,1553.3 1501.8,1570.5 1502.6,1564.4 1503.3,1554.5 1504.0,1566.9 1504.7,1551.8 1505.5,1560.4 1506.2,1575.5 1506.9,1537.0 1507.6,1563.4 1508.4,1565.4 1509.1,1548.5 1509.8,1569.6 1510.5,1564.1 1511.3,1552.8 1512.0,1575.1 1512.7,1545.5 1513.4,1568.5 1514.2,1557.8 1514.9,1547.5 1515.6,1555.7 1516.3,1555.5 1517.1,1569.0 1517.8,1541.7 1518.5,1557.2 1519.2,1550.6 1520.0,1591.9 1520.7,1549.7 1521.4,1576.1 1522.1,1544.6 1522.9,1569.8 1523.6,1565.1 1524.3,1571.5 1525.0,1559.4 1525.8,1545.3 1526.5,1550.2 1527.2,1583.3 1527.9,1571.9 1528.7,1560.7 1529.4,1581.0 1530.1,1562.3 1530.8,1561.5 1531.6,1555.5 1532.3,1582.0 1533.0,1591.3 1533.7,1559.7 1534.5,1575.4 1535.2,1585.1 1535.9,1599.8 1536.6,1550.8 1537.4,1579.6 1538.1,1584.8 1538.8,1560.2 1539.5,1580.3 1540.3,1577.5 1541.0,1583.5 1541.7,1569.6 1542.4,1581.5 1543.2,1571.2 1543.9,1585.9 1544.6,1582.1 1545.3,1577.1 1546.1,1566.2 1546.8,1612.4 1547.5,1594.3 1548.2,1591.6 1549.0,1574.1 1549.7,1577.2 1550.4,1599.2 1551.1,1588.5 1551.9,1570.1 1552.6,1579.1 1553.3,1578.9 1554.0,1573.9 1554.8,1564.8 1555.5,1588.4 1556.2,1581.5 1556.9,1573.8 1557.7,1559.9 1558.4,1571.6 1559.1,1578.6 1559.8,1588.7 1560.6,1576.0 1561.3,1592.6 1562.0,1582.8 1562.7,1573.9 1563.5,1552.8 1564.2,1570.9 1564.9,1568.2 1565.6,1582.7 1566.4,1587.8 1567.1,1598.7 1567.8,1583.7 1568.5,1571.7 1569.3,1609.2 1570.0,1588.7 1570.7,1584.1 1571.4,1585.4 1572.2,1575.1 1572.9,1596.5 1573.6,1594.7 1574.3,1608.4 1575.1,1605.0 1575.8,1604.2 1576.5,1609.4 1577.2,1594.7 1578.0,1593.6 1578.7,1598.0 1579.4,1586.7 1580.1,1598.3 1580.9,1597.5 1581.6,1608.3 1582.3,1602.7 1583.0,1585.5 1583.8,1605.3 1584.5,1619.9 1585.2,1590.7 1585.9,1602.4 1586.7,1610.7 1587.4,1599.4 1588.1,1603.5 1588.8,1613.5 1589.6,1600.5 1590.3,1614.4 1591.0,1613.7 1591.7,1587.5 1592.5,1606.0 1593.2,1614.2 1593.9,1602.2 1594.6,1608.3 1595.4,1611.8 1596.1,1606.0 1596.8,1619.3 1597.5,1615.6 1598.3,1604.3 1599.0,1618.2 1599.7,1621.1 1600.4,1620.3 1601.2,1607.0 1601.9,1616.4 1602.6,1624.0 1603.3,1613.2 1604.1,1620.8 1604.8,1621.0 1605.5,1607.9 1606.2,1614.0 1607.0,1605.6 1607.7,1618.0 1608.4,1608.7 1609.1,1605.7 1609.9,1611.1 1610.6,1611.2 1611.3,1615.2 1612.0,1615.7 1612.8,1601.0 1613.5,1605.1 1614.2,1613.9 1614.9,1615.5 1615.7,1612.9 1616.4,1635.7 1617.1,1623.1 1617.8,1613.0 1618.6,1620.0 1619.3,1625.6 1620.0,1620.1 1620.7,1600.5 1621.5,1616.8 1622.2,1616.7 1622.9,1634.7 1623.6,1600.4 1624.4,1629.4 1625.1,1614.4 1625.8,1623.4 1626.5,1612.6 1627.3,1616.6 1628.0,1625.2 1628.7,1616.8 1629.4,1626.2 1630.2,1617.1 1630.9,1614.3 1631.6,1615.1 1632.3,1610.9 1633.1,1612.1 1633.8,1623.3 1634.5,1600.1 1635.2,1595.7 1636.0,1610.8 1636.7,1637.2 1637.4,1622.0 1638.1,1625.1 1638.9,1624.9 1639.6,1607.4 1640.3,1614.6 1641.0,1589.5 1641.8,1607.2 1642.5,1617.8 1643.2,1598.5 1643.9,1593.9 1644.7,1600.5 1645.4,1613.8 1646.1,1622.0 1646.8,1634.6 1647.6,1624.1 1648.3,1597.5 1649.0,1590.0 1649.7,1612.2 1650.5,1620.6 1651.2,1597.0 1651.9,1607.2 1652.6,1608.0 1653.4,1612.1 1654.1,1609.8 1654.8,1615.7 1655.5,1620.7 1656.3,1613.3 1657.0,1619.3 1657.7,1643.7 1658.4,1603.9 1659.2,1602.9 1659.9,1615.8 1660.6,1626.8 1661.3,1611.2 1662.1,1619.4 1662.8,1607.5 1663.5,1619.5 1664.2,1607.2 1665.0,1620.0 1665.7,1618.3 1666.4,1618.1 1667.1,1625.8 1667.9,1621.5 1668.6,1605.2 1669.3,1616.8 1670.0,1593.1 1670.8,1616.0 1671.5,1631.1 1672.2,1611.4 1672.9,1611.3 1673.7,1607.9 1674.4,1615.6 1675.1,1605.8 1675.8,1617.1 1676.6,1610.2 1677.3,1607.9 1678.0,1615.0 1678.7,1613.3 1679.5,1598.2 1680.2,1630.7 1680.9,1613.5 1681.6,1597.7 1682.4,1622.4 1683.1,1613.5 1683.8,1618.1 1684.5,1620.5 1685.3,1601.5 1686.0,1587.5 1686.7,1611.3 1687.4,1613.3 1688.2,1619.1 1688.9,1603.1 1689.6,1606.9 1690.3,1612.4 1691.1,1605.6 1691.8,1605.6 1692.5,1611.7 1693.2,1598.1 1694.0,1620.8 1694.7,1599.7 1695.4,1609.4 1696.1,1607.7 1696.9,1605.6 1697.6,1617.1 1698.3,1621.1 1699.0,1624.2 1699.8,1615.3 1700.5,1605.1 1701.2,1615.9 1701.9,1595.5 1702.7,1609.1 1703.4,1614.1 1704.1,1615.5 1704.8,1595.0 1705.6,1599.1 1706.3,1627.6 1707.0,1608.7 1707.7,1598.4 1708.5,1601.4 1709.2,1611.6 1709.9,1621.4 1710.6,1610.8 1711.4,1621.8 1712.1,1613.6 1712.8,1616.1 1713.5,1620.5 1714.3,1607.8 1715.0,1612.6 1715.7,1605.0 1716.4,1597.8 1717.2,1611.2 1717.9,1596.9 1718.6,1604.5 1719.3,1596.9 1720.1,1603.7 1720.8,1600.3 1721.5,1614.8 1722.2,1605.2 1723.0,1604.4 1723.7,1617.9 1724.4,1577.5 1725.1,1594.2 1725.9,1581.0 1726.6,1606.6 1727.3,1611.2 1728.0,1617.3 1728.8,1608.9 1729.5,1597.7 1730.2,1620.3 1730.9,1606.8 1731.7,1599.9 1732.4,1586.5 1733.1,1606.8 1733.8,1598.7 1734.6,1599.6 1735.3,1606.8 1736.0,1608.8 1736.7,1601.4 1737.5,1621.5 1738.2,1601.9 1738.9,1601.0 1739.6,1613.5 1740.4,1611.5 1741.1,1610.7 1741.8,1606.3 1742.5,1610.4 1743.3,1604.9 1744.0,1595.0 1744.7,1616.1 1745.4,1599.5 1746.2,1605.5 1746.9,1613.2 1747.6,1606.2 1748.3,1630.2 1749.1,1592.5 1749.8,1593.9 1750.5,1606.4 1751.2,1618.1 1752.0,1603.5 1752.7,1592.8 1753.4,1616.3 1754.1,1597.5 1754.9,1604.0 1755.6,1613.7 1756.3,1599.1 1757.0,1600.5 1757.8,1608.6 1758.5,1601.8 1759.2,1606.3 1759.9,1595.0 1760.7,1602.7 1761.4,1593.3 1762.1,1588.2 1762.8,1617.7 1763.6,1604.6 1764.3,1614.1 1765.0,1590.2 1765.7,1598.8 1766.5,1597.5 1767.2,1586.5 1767.9,1604.9 1768.6,1588.3 1769.4,1597.4 1770.1,1584.6 1770.8,1614.2 1771.5,1605.4 1772.3,1602.4 1773.0,1591.1 1773.7,1595.7 1774.4,1613.2 1775.2,1600.2 1775.9,1606.0 1776.6,1605.3 1777.3,1586.8 1778.1,1619.4 1778.8,1574.5 1779.5,1608.9 1780.2,1606.7 1781.0,1592.7 1781.7,1610.4 1782.4,1610.9 1783.1,1604.9 1783.9,1595.1 1784.6,1608.8 1785.3,1611.4 1786.0,1602.8 1786.8,1616.6 1787.5,1608.3 1788.2,1607.2 1788.9,1613.2 1789.7,1594.9 1790.4,1594.4 1791.1,1609.5 1791.8,1611.6 1792.6,1622.4 1793.3,1627.1 1794.0,1611.2 1794.7,1609.1 1795.5,1602.7 1796.2,1600.1 1796.9,1597.9 1797.6,1609.8 1798.4,1596.8 1799.1,1598.2 1799.8,1604.7 1800.5,1597.6 1801.3,1600.5 1802.0,1582.4 1802.7,1606.8 1803.4,1600.7 1804.2,1607.0 1804.9,1607.2 1805.6,1573.6 1806.3,1626.6 1807.1,1605.4 1807.8,1607.8 1808.5,1588.0 1809.2,1616.9 1810.0,1610.7 1810.7,1602.9 1811.4,1607.7 1812.1,1616.1 1812.9,1598.0 1813.6,1590.4 1814.3,1611.1 1815.0,1599.6 1815.8,1594.6 1816.5,1618.8 1817.2,1596.9 1817.9,1593.2 1818.7,1597.5 1819.4,1590.9 1820.1,1597.8 1820.8,1598.6 1821.6,1592.2 1822.3,1598.3 1823.0,1606.3 1823.7,1609.1 1824.5,1612.6 1825.2,1621.9 1825.9,1609.6 1826.6,1615.8 1827.4,1600.6 1828.1,1600.6 1828.8,1612.9 1829.5,1582.6 1830.3,1606.5 1831.0,1634.6 1831.7,1583.9 1832.4,1616.4 1833.2,1582.3 1833.9,1605.2 1834.6,1613.3 1835.3,1611.2 1836.1,1587.2 1836.8,1575.0 1837.5,1582.7 1838.2,1604.7 1839.0,1594.3 1839.7,1598.7 1840.4,1601.3 1841.1,1602.4 1841.9,1602.8 1842.6,1599.0 1843.3,1579.9 1844.0,1610.1 1844.8,1569.0 1845.5,1609.2 1846.2,1592.0 1846.9,1596.5 1847.7,1593.2 1848.4,1594.1 1849.1,1596.7 1849.8,1593.7 1850.6,1586.0 1851.3,1606.1 1852.0,1593.5 1852.7,1613.5 1853.5,1599.0 1854.2,1594.6 1854.9,1605.3 1855.6,1608.8 1856.4,1590.2 1857.1,1595.7 1857.8,1612.0 1858.5,1588.7 1859.3,1590.4 1860.0,1600.3 1860.7,1587.2 1861.4,1575.5 1862.2,1583.7 1862.9,1603.9 1863.6,1607.3 1864.3,1607.5 1865.1,1606.1 1865.8,1591.2 1866.5,1609.8 1867.2,1614.6 1868.0,1597.4 1868.7,1613.0 1869.4,1600.7 1870.1,1605.7 1870.9,1607.1 1871.6,1589.7 1872.3,1617.7 1873.0,1597.0 1873.8,1605.4 1874.5,1603.1 1875.2,1613.0 1875.9,1613.1 1876.7,1609.0 1877.4,1621.1 1878.1,1609.6 1878.8,1602.1 1879.6,1560.2 1880.3,1601.5 1881.0,1600.7 1881.7,1594.8 1882.5,1589.0 1883.2,1607.2 1883.9,1611.3 1884.6,1619.6 1885.4,1613.6 1886.1,1597.5 1886.8,1607.1 1887.5,1592.0 1888.3,1610.9 1889.0,1606.9 1889.7,1597.9 1890.4,1603.4 1891.2,1603.2 1891.9,1600.6 1892.6,1619.4 1893.3,1636.2 1894.1,1614.5 1894.8,1616.3 1895.5,1607.4 1896.2,1602.2 1897.0,1625.8 1897.7,1601.3 1898.4,1608.3 1899.1,1603.2 1899.9,1609.5 1900.6,1602.5 1901.3,1607.4 1902.0,1588.3 1902.8,1598.5 1903.5,1612.1 1904.2,1582.2 1904.9,1592.4 1905.7,1621.6 1906.4,1602.2 1907.1,1607.9 1907.8,1574.9 1908.6,1597.7 1909.3,1583.6 1910.0,1582.8 1910.7,1604.1 1911.5,1609.2 1912.2,1583.3 1912.9,1587.6 1913.6,1593.0 1914.4,1597.4 1915.1,1584.9 1915.8,1636.3 1916.5,1602.8 1917.3,1593.1 1918.0,1591.7 1918.7,1621.1 1919.4,1620.8 1920.2,1593.1 1920.9,1601.0 1921.6,1609.2 1922.3,1582.9 1923.1,1588.3 1923.8,1618.3 1924.5,1587.3 1925.2,1590.9 1926.0,1582.2 1926.7,1589.1 1927.4,1604.8 1928.1,1588.4 1928.9,1582.1 1929.6,1587.3 1930.3,1610.5 1931.0,1590.2 1931.8,1579.2 1932.5,1584.6 1933.2,1586.4 1933.9,1582.4 1934.7,1561.4 1935.4,1585.4 1936.1,1580.7 1936.8,1593.5 1937.6,1569.9 1938.3,1606.1 1939.0,1580.8 1939.7,1567.0 1940.5,1599.9 1941.2,1575.6 1941.9,1582.7 1942.6,1572.6 1943.4,1583.7 1944.1,1579.6 1944.8,1575.3 1945.5,1572.2 1946.3,1531.8 1947.0,1526.8 1947.7,1548.0 1948.4,1530.3 1949.2,1546.9 1949.9,1540.3 1950.6,1516.1 1951.3,1518.1 1952.1,1513.7 1952.8,1506.1 1953.5,1520.7 1954.2,1534.3 1955.0,1542.8 1955.7,1508.5 1956.4,1512.9 1957.1,1542.4 1957.9,1531.4 1958.6,1520.1 1959.3,1479.2 1960.0,1496.1 1960.8,1509.6 1961.5,1493.9 1962.2,1530.0 1962.9,1497.7 1963.7,1498.5 1964.4,1475.1 1965.1,1474.6 1965.8,1471.6 1966.6,1478.2 1967.3,1482.8 1968.0,1490.7 1968.7,1486.0 1969.5,1495.8 1970.2,1453.3 1970.9,1477.2 1971.6,1475.8 1972.4,1497.4 1973.1,1464.8 1973.8,1471.5 1974.5,1447.8 1975.3,1464.9 1976.0,1460.2 1976.7,1438.8 1977.4,1439.9 1978.2,1444.9 1978.9,1454.1 1979.6,1419.7 1980.3,1452.6 1981.1,1426.1 1981.8,1463.7 1982.5,1453.3 1983.2,1416.8 1984.0,1411.1 1984.7,1467.7 1985.4,1425.3 1986.1,1419.1 1986.9,1371.6 1987.6,1369.5 1988.3,1375.4 1989.0,1358.5 1989.8,1316.9 1990.5,1355.7 1991.2,1289.4 1991.9,1234.3 1992.7,1245.5 1993.4,1167.3 1994.1,1125.4 1994.8,1011.0 1995.6,840.2 1996.3,507.1 1997.0,244.9 1997.7,51.5 1998.5,-17.7 1999.2,-153.8 1999.9,-182.2 2000.6,-247.3 2001.4,-293.7 2002.1,-281.5 2002.8,-346.2 2003.5,-273.8 2004.3,-270.0 2005.0,-325.0 2005.7,-312.5 2006.4,-313.2 2007.2,-291.6 2007.9,-286.7 2008.6,-342.5 2009.3,-278.3 2010.1,-296.2 2010.8,-312.4 2011.5,-271.5 2012.2,-299.6 2013.0,-269.8 2013.7,-283.8 2014.4,-303.1 2015.1,-272.9 2015.9,-281.9 2016.6,-310.8 2017.3,-335.4 2018.0,-314.3 2018.8,-290.8 2019.5,-309.5 2020.2,-268.1 2020.9,-300.2 2021.7,-302.0 2022.4,-297.9 2023.1,-325.2 2023.8,-309.6 2024.6,-331.0 2025.3,-391.1 2026.0,-343.5 2026.7,-288.7 2027.5,-310.4 2028.2,-299.9 2028.9,-324.9 2029.6,-304.0 2030.4,-274.6 2031.1,-290.1 2031.8,-305.1 2032.5,-264.6 2033.3,-300.3 2034.0,-308.3 2034.7,-278.3 2035.4,-339.3 2036.2,-291.3 2036.9,-326.0 2037.6,-330.5 2038.3,-316.3 2039.1,-298.8 2039.8,-298.7 2040.5,-294.2 2041.2,-296.8 2042.0,-273.6 2042.7,-270.3 2043.4,-283.3 2044.1,-294.3 2044.9,-318.4 2045.6,-332.9 2046.3,-296.4 2047.0,-307.1 2047.8,-289.4 2048.5,-345.4 2049.2,-211.3 2049.9,-333.2 2050.7,-305.9 2051.4,-286.4 2052.1,-337.5 2052.8,-321.7 2053.6,-354.0 2054.3,-342.4 2055.0,-380.9 2055.7,-307.4 2056.5,-300.1 2057.2,-309.1 2057.9,-272.5 2058.6,-247.2 2059.4,-295.7 2060.1,-289.3 2060.8,-211.7 2061.5,-137.0 2062.3,-21.5 2063.0,34.7 2063.7,316.8 2064.4,398.1 2065.2,463.8 2065.9,477.4 2066.6,533.9 2067.3,568.6 2068.1,632.5 2068.8,650.5 2069.5,618.7 2070.2,666.6 2071.0,705.3 2071.7,693.7 2072.4,757.9 2073.1,755.4 2073.9,778.7 2074.6,783.3 2075.3,811.9 2076.0,836.6 2076.8,814.4 2077.5,845.1 2078.2,860.4 2078.9,931.5 2079.7,916.3 2080.4,930.7 2081.1,939.2 2081.8,937.7 2082.6,945.6 2083.3,992.0 2084.0,979.9 2084.7,1058.3 2085.5,1021.0 2086.2,1034.1 2086.9,1042.9 2087.6,1060.9 2088.4,1080.9 2089.1,1130.5 2089.8,1165.8 2090.5,1093.3 2091.3,1156.1 2092.0,1181.3 2092.7,1148.2 2093.4,1145.9 2094.2,1160.9 2094.9,1122.9 2095.6,1189.8 2096.3,1177.8 2097.1,1179.2 2097.8,1185.5 2098.5,1192.6 2099.2,1240.6 2100.0,1202.1 2100.7,1224.9 2101.4,1205.5 2102.1,1236.7 2102.9,1223.5 2103.6,1231.7 2104.3,1220.5 2105.0,1227.7 2105.8,1260.9 2106.5,1274.6 2107.2,1276.3 2107.9,1250.5 2108.7,1288.0 2109.4,1198.2 2110.1,1314.1 2110.8,1299.2 2111.6,1310.3 2112.3,1348.9 2113.0,1299.5 2113.7,1330.0 2114.5,1297.5 2115.2,1328.7 2115.9,1314.2 2116.6,1334.3 2117.4,1362.4 2118.1,1321.5 2118.8,1324.7 2119.5,1333.3 2120.3,1355.3 2121.0,1407.8 2121.7,1346.1 2122.4,1324.1 2123.2,1361.2 2123.9,1348.7 2124.6,1367.7 2125.3,1391.0 2126.1,1374.4 2126.8,1383.3 2127.5,1363.2 2128.2,1407.8 2129.0,1393.4 2129.7,1433.0 2130.4,1436.0 2131.1,1389.9 2131.9,1412.8 2132.6,1423.6 2133.3,1440.0 2134.0,1397.7 2134.8,1430.3 2135.5,1467.7 2136.2,1431.7 2136.9,1438.6 2137.7,1435.3 2138.4,1415.1 2139.1,1455.7 2139.8,1446.0 2140.6,1447.6 2141.3,1461.0 2142.0,1465.3 2142.7,1422.1 2143.5,1465.9 2144.2,1450.8 2144.9,1466.4 2145.6,1447.4 2146.4,1456.3 2147.1,1490.4 2147.8,1479.7 2148.5,1480.5 2149.3,1485.8 2150.0,1496.8 2150.7,1500.2 2151.4,1469.7 2152.2,1496.6 2152.9,1510.5 2153.6,1530.1 2154.3,1545.5 2155.1,1521.4 2155.8,1566.0 2156.5,1550.3 2157.2,1565.3 2158.0,1555.5 2158.7,1554.4 2159.4,1578.2 2160.1,1559.5 2160.9,1562.4 2161.6,1589.8 2162.3,1603.8 2163.0,1553.6 2163.8,1570.9 2164.5,1574.3 2165.2,1612.5 2165.9,1605.1 2166.7,1575.2 2167.4,1579.7 2168.1,1584.5 2168.8,1586.8 2169.6,1568.1 2170.3,1581.5 2171.0,1563.3 2171.7,1540.8 2172.5,1557.5 2173.2,1578.1 2173.9,1586.7 2174.6,1553.0 2175.4,1559.5 2176.1,1580.8 2176.8,1543.1 2177.5,1593.8 2178.3,1593.9 2179.0,1548.0 2179.7,1589.1 2180.4,1577.3 2181.2,1606.7 2181.9,1582.7 2182.6,1578.8 2183.3,1585.2 2184.1,1596.7 2184.8,1590.8 2185.5,1590.8 2186.2,1575.6 2187.0,1600.9 2187.7,1591.3 2188.4,1610.4 2189.1,1591.5 2189.9,1592.5 2190.6,1589.1 2191.3,1605.6 2192.0,1598.1 2192.8,1594.4 2193.5,1619.1 2194.2,1635.2 2194.9,1598.4 2195.7,1592.9 2196.4,1615.8 2197.1,1595.9 2197.8,1655.1 2198.6,1602.2 2199.3,1619.9 2200.0,1586.8 2200.7,1598.3 2201.5,1608.8 2202.2,1601.1 2202.9,1590.1 2203.6,1638.5 2204.4,1601.4 2205.1,1591.1 2205.8,1587.1 2206.5,1590.6 2207.3,1617.7 2208.0,1584.8 2208.7,1592.2 2209.4,1582.6 2210.2,1602.6 2210.9,1587.2 2211.6,1603.9 2212.3,1592.9 2213.1,1580.8 2213.8,1599.8 2214.5,1604.4 2215.2,1576.9 2216.0,1597.4 2216.7,1628.6 2217.4,1592.2 2218.1,1603.4 2218.9,1584.5 2219.6,1602.6 2220.3,1591.4 2221.0,1604.1 2221.8,1594.9 2222.5,1582.8 2223.2,1604.7 2223.9,1591.2 2224.7,1583.2 2225.4,1594.5 2226.1,1585.1 2226.8,1599.6 2227.6,1595.8 2228.3,1593.3 2229.0,1603.9 2229.7,1584.8 2230.5,1614.8 2231.2,1577.8 2231.9,1613.5 2232.6,1599.8 2233.4,1595.8 2234.1,1591.7 2234.8,1605.0 2235.5,1598.9 2236.3,1599.7 2237.0,1612.4 2237.7,1598.8 2238.4,1601.1 2239.2,1607.6 2239.9,1613.7 2240.6,1601.6 2241.3,1604.9 2242.1,1606.0 2242.8,1612.6 2243.5,1621.2 2244.2,1598.6 2245.0,1606.3 2245.7,1606.5 2246.4,1611.6 2247.1,1619.5 2247.9,1604.5 2248.6,1606.5 2249.3,1623.8 2250.0,1593.0 2250.8,1597.9 2251.5,1601.3 2252.2,1605.6 2252.9,1607.4 2253.7,1599.3 2254.4,1619.5 2255.1,1595.4 2255.8,1600.0 2256.6,1612.7 2257.3,1611.2 2258.0,1605.8 2258.7,1611.3 2259.5,1623.2 2260.2,1609.8 2260.9,1615.8 2261.6,1595.7 2262.4,1608.9 2263.1,1592.4 2263.8,1598.9 2264.5,1596.8 2265.3,1619.4 2266.0,1604.8 2266.7,1612.7 2267.4,1602.2 2268.2,1609.2 2268.9,1608.8 2269.6,1604.4 2270.3,1621.2 2271.1,1600.3 2271.8,1622.9 2272.5,1642.8 2273.2,1612.3 2274.0,1620.7 2274.7,1604.4 2275.4,1616.4 2276.1,1599.1 2276.9,1618.5 2277.6,1607.1 2278.3,1594.3 2279.0,1599.0 2279.8,1596.3 2280.5,1607.7 2281.2,1617.4 2281.9,1606.1 2282.7,1599.2 2283.4,1602.4 2284.1,1611.0 2284.8,1588.6 2285.6,1614.8 2286.3,1612.7 2287.0,1587.4 2287.7,1619.1 2288.5,1594.6 2289.2,1607.1 2289.9,1619.4 2290.6,1585.7 2291.4,1593.9 2292.1,1594.5 2292.8,1602.2 2293.5,1611.3 2294.3,1608.7 2295.0,1609.3 2295.7,1609.7 2296.4,1612.7 2297.2,1608.0 2297.9,1619.8 2298.6,1619.1 2299.3,1612.7 2300.1,1649.6 2300.8,1613.2 2301.5,1635.1 2302.2,1617.6 2303.0,1626.3 2303.7,1626.8 2304.4,1628.5 2305.1,1631.9 2305.9,1611.1 2306.6,1641.3 2307.3,1619.6 2308.0,1608.9 2308.8,1604.4 2309.5,1636.2 2310.2,1630.8 2310.9,1617.3 2311.7,1624.8 2312.4,1630.5 2313.1,1621.1 2313.8,1617.4 2314.6,1621.5 2315.3,1629.7 2316.0,1623.2 2316.7,1612.6 2317.5,1629.0 2318.2,1597.0 2318.9,1613.9 2319.6,1629.6 2320.4,1620.3 2321.1,1621.8 2321.8,1619.0 2322.5,1627.3 2323.3,1618.4 2324.0,1591.0 2324.7,1620.4 2325.4,1591.5 2326.2,1599.5 2326.9,1630.1 2327.6,1625.6 2328.3,1613.1 2329.1,1617.0 2329.8,1618.8 2330.5,1627.0 2331.2,1611.9 2332.0,1610.3 2332.7,1611.2 2333.4,1615.9 2334.1,1617.2 2334.9,1608.2 2335.6,1617.3 2336.3,1602.3 2337.0,1611.0 2337.8,1606.8 2338.5,1599.8 2339.2,1625.1 2339.9,1613.0 2340.7,1608.1 2341.4,1617.8 2342.1,1610.3 2342.8,1624.7 2343.6,1627.6 2344.3,1629.3 2345.0,1611.7 2345.7,1618.5 2346.5,1633.8 2347.2,1615.6 2347.9,1626.7 2348.6,1628.2 2349.4,1596.8 2350.1,1626.5 2350.8,1624.3 2351.5,1627.2 2352.3,1635.8 2353.0,1627.5 2353.7,1625.8 2354.4,1631.0 2355.2,1623.6 2355.9,1630.2 2356.6,1609.1 2357.3,1638.5 2358.1,1619.2 2358.8,1627.2 2359.5,1625.0 2360.2,1623.1 2361.0,1622.8 2361.7,1622.0 2362.4,1607.9 2363.1,1616.7 2363.9,1631.3 2364.6,1609.4 2365.3,1616.1 2366.0,1642.9 2366.8,1636.5 2367.5,1639.7 2368.2,1626.9 2368.9,1628.7 2369.7,1636.8 2370.4,1633.5 2371.1,1624.3 2371.8,1612.8 2372.6,1618.2 2373.3,1611.8 2374.0,1645.6 2374.7,1621.0 2375.5,1623.1 2376.2,1627.0 2376.9,1624.8 2377.6,1628.7 2378.4,1619.4 2379.1,1612.2 2379.8,1638.1 2380.5,1618.6 2381.3,1618.2 2382.0,1618.2 2382.7,1620.5 2383.4,1625.8 2384.2,1631.5 2384.9,1617.5 2385.6,1628.0 2386.3,1620.2 2387.1,1634.7 2387.8,1615.4 2388.5,1625.5 2389.2,1629.8 2390.0,1613.0 2390.7,1624.6 2391.4,1623.4 2392.1,1615.5 2392.9,1619.9 2393.6,1629.4 2394.3,1623.7 2395.0,1618.9 2395.8,1620.0 2396.5,1626.8 2397.2,1633.9 2397.9,1630.8 2398.7,1630.6 2399.4,1637.4 2400.1,1613.4 2400.8,1614.5 2401.6,1608.3 2402.3,1632.7 2403.0,1608.1 2403.7,1625.1 2404.5,1630.5 2405.2,1612.8 2405.9,1617.5 2406.6,1619.6 2407.4,1626.6 2408.1,1608.9 2408.8,1623.4 2409.5,1630.9 2410.3,1623.7 2411.0,1624.7 2411.7,1634.0 2412.4,1626.7 2413.2,1625.3 2413.9,1623.1 2414.6,1630.7 2415.3,1623.1 2416.1,1630.1 2416.8,1625.4 2417.5,1632.9 2418.2,1617.2 2419.0,1622.7 2419.7,1623.3 2420.4,1622.3 2421.1,1626.8 2421.9,1620.7 2422.6,1630.0 2423.3,1634.0 2424.0,1626.3 2424.8,1612.3 2425.5,1610.0" fill="none" stroke="#505050" stroke-width="3.5" stroke-linejoin="miter" stroke-miterlimit="2"/>
<polyline points="250.5,1398.4 251.2,1417.4 251.9,1413.9 252.7,1414.3 253.4,1428.7 254.1,1383.4 254.8,1391.2 255.6,1377.9 256.3,1394.3 257.0,1408.8 257.7,1390.1 258.5,1396.4 259.2,1357.1 259.9,1389.7 260.6,1373.7 261.4,1417.8 262.1,1405.6 262.8,1408.8 263.5,1394.8 264.3,1407.1 265.0,1408.9 265.7,1393.6 266.4,1391.9 267.2,1399.0 267.9,1391.8 268.6,1391.7 269.3,1394.9 270.1,1384.9 270.8,1405.9 271.5,1366.1 272.2,1404.6 273.0,1382.4 273.7,1385.4 274.4,1374.3 275.1,1395.3 275.9,1394.7 276.6,1402.4 277.3,1390.7 278.0,1400.1 278.8,1426.8 279.5,1402.8 280.2,1385.8 280.9,1409.4 281.7,1391.5 282.4,1403.4 283.1,1404.8 283.8,1390.2 284.6,1366.6 285.3,1392.8 286.0,1407.3 286.7,1391.8 287.5,1405.0 288.2,1414.1 288.9,1389.8 289.6,1418.5 290.4,1424.1 291.1,1413.8 291.8,1413.2 292.5,1422.7 293.3,1427.7 294.0,1393.3 294.7,1389.7 295.4,1398.8 296.2,1373.0 296.9,1361.1 297.6,1370.4 298.3,1389.3 299.1,1395.1 299.8,1356.3 300.5,1350.9 301.2,1377.4 302.0,1378.4 302.7,1383.6 303.4,1395.6 304.1,1418.4 304.9,1389.7 305.6,1391.9 306.3,1362.6 307.0,1360.1 307.8,1382.3 308.5,1388.4 309.2,1388.4 309.9,1384.9 310.7,1395.8 311.4,1385.9 312.1,1342.5 312.8,1349.7 313.6,1382.2 314.3,1379.0 315.0,1344.8 315.7,1390.5 316.5,1366.0 317.2,1369.1 317.9,1382.3 318.6,1391.6 319.4,1355.8 320.1,1394.9 320.8,1377.8 321.5,1361.6 322.3,1368.8 323.0,1337.8 323.7,1358.1 324.4,1382.6 325.2,1370.6 325.9,1378.4 326.6,1380.9 327.3,1381.7 328.1,1394.2 328.8,1372.6 329.5,1361.9 330.2,1375.6 331.0,1400.0 331.7,1359.8 332.4,1380.9 333.1,1341.1 333.9,1390.7 334.6,1379.9 335.3,1391.8 336.0,1369.4 336.8,1353.8 337.5,1386.7 338.2,1384.7 338.9,1357.2 339.7,1346.4 340.4,1377.9 341.1,1367.1 341.8,1413.4 342.6,1358.9 343.3,1359.6 344.0,1365.7 344.7,1339.1 345.5,1352.2 346.2,1395.8 346.9,1367.6 347.6,1361.8 348.4,1353.0 349.1,1386.4 349.8,1389.4 350.5,1383.6 351.3,1373.0 352.0,1384.6 352.7,1385.2 353.4,1366.1 354.2,1386.4 354.9,1337.4 355.6,1348.6 356.3,1363.0 357.1,1365.2 357.8,1347.4 358.5,1374.2 359.2,1387.9 360.0,1378.0 360.7,1373.6 361.4,1383.0 362.1,1375.0 362.9,1348.0 363.6,1364.1 364.3,1405.4 365.0,1333.8 365.8,1368.0 366.5,1355.1 367.2,1350.7 367.9,1336.2 368.7,1367.5 369.4,1370.5 370.1,1369.2 370.8,1337.2 371.6,1356.5 372.3,1367.6 373.0,1379.1 373.7,1375.9 374.5,1380.5 375.2,1386.5 375.9,1381.9 376.6,1351.8 377.4,1365.1 378.1,1349.3 378.8,1288.8 379.5,1330.4 380.3,1424.1 381.0,1342.4 381.7,1323.3 382.4,1353.0 383.2,1389.9 383.9,1361.0 384.6,1368.3 385.3,1356.1 386.1,1359.8 386.8,1384.2 387.5,1385.5 388.2,1358.7 389.0,1374.9 389.7,1376.8 390.4,1352.5 391.1,1361.1 391.9,1361.3 392.6,1345.4 393.3,1379.3 394.0,1356.0 394.8,1340.1 395.5,1328.9 396.2,1336.6 396.9,1388.2 397.7,1340.6 398.4,1375.7 399.1,1355.7 399.8,1370.8 400.6,1370.3 401.3,1342.2 402.0,1348.3 402.7,1354.1 403.5,1350.7 404.2,1345.8 404.9,1338.3 405.6,1353.9 406.4,1365.4 407.1,1350.4 407.8,1326.4 408.5,1352.3 409.3,1339.9 410.0,1345.2 410.7,1367.9 411.4,1325.3 412.2,1324.8 412.9,1305.1 413.6,1314.5 414.3,1308.9 415.1,1351.0 415.8,1328.8 416.5,1315.2 417.2,1365.4 418.0,1305.4 418.7,1347.4 419.4,1349.3 420.1,1338.8 420.9,1320.8 421.6,1321.9 422.3,1317.5 423.0,1339.9 423.8,1281.8 424.5,1318.8 425.2,1333.3 425.9,1320.1 426.7,1296.0 427.4,1325.5 428.1,1314.3 428.8,1354.1 429.6,1353.7 430.3,1326.7 431.0,1286.5 431.7,1319.8 432.5,1305.7 433.2,1338.0 433.9,1359.1 434.6,1333.0 435.4,1367.7 436.1,1357.8 436.8,1351.5 437.5,1311.1 438.3,1332.3 439.0,1300.5 439.7,1348.3 440.4,1326.7 441.2,1347.7 441.9,1321.1 442.6,1271.7 443.3,1320.9 444.1,1325.3 444.8,1341.1 445.5,1290.0 446.2,1294.6 447.0,1318.5 447.7,1285.8 448.4,1294.9 449.1,1302.6 449.9,1380.1 450.6,1313.8 451.3,1305.1 452.0,1314.9 452.8,1321.4 453.5,1365.3 454.2,1334.3 454.9,1328.0 455.7,1309.7 456.4,1309.7 457.1,1290.7 457.8,1270.3 458.6,1375.5 459.3,1289.7 460.0,1319.9 460.7,1290.2 461.5,1293.0 462.2,1288.5 462.9,1258.8 463.6,1283.3 464.4,1290.3 465.1,1298.0 465.8,1289.8 466.5,1301.1 467.3,1285.6 468.0,1278.7 468.7,1234.3 469.4,1263.2 470.2,1306.5 470.9,1273.0 471.6,1286.9 472.3,1264.4 473.1,1254.2 473.8,1314.6 474.5,1276.7 475.2,1301.5 476.0,1278.9 476.7,1259.1 477.4,1213.6 478.1,1264.4 478.9,1225.2 479.6,1208.7 480.3,1285.6 481.0,1272.4 481.8,1269.1 482.5,1254.3 483.2,1252.1 483.9,1261.5 484.7,1255.3 485.4,1253.2 486.1,1267.9 486.8,1153.7 487.6,1267.9 488.3,1230.8 489.0,1264.3 489.7,1270.8 490.5,1221.8 491.2,1257.3 491.9,1253.9 492.6,1215.6 493.4,1217.6 494.1,1231.6 494.8,1174.9 495.5,1216.3 496.3,1229.8 497.0,1212.2 497.7,1181.7 498.4,1208.3 499.2,1251.9 499.9,1244.4 500.6,1206.2 501.3,1186.9 502.1,1204.9 502.8,1205.7 503.5,1178.1 504.2,1200.3 505.0,1226.3 505.7,1237.4 506.4,1155.0 507.1,1240.1 507.9,1217.5 508.6,1240.7 509.3,1209.8 510.0,1228.2 510.8,1250.4 511.5,1136.8 512.2,1250.9 512.9,1216.7 513.7,1166.4 514.4,1143.7 515.1,1214.6 515.8,1179.0 516.6,1228.1 517.3,1209.6 518.0,1203.7 518.7,1234.8 519.5,1218.0 520.2,1233.6 520.9,1237.3 521.6,1225.7 522.4,1238.1 523.1,1239.1 523.8,1187.3 524.5,1214.9 525.3,1219.0 526.0,1212.8 526.7,1183.1 527.4,1207.6 528.2,1229.5 528.9,1226.7 529.6,1260.5 530.3,1211.1 531.1,1217.0 531.8,1214.6 532.5,1221.0 533.2,1214.1 534.0,1183.4 534.7,1235.4 535.4,1249.3 536.1,1250.3 536.9,1195.6 537.6,1215.2 538.3,1293.6 539.0,1218.1 539.8,1238.0 540.5,1225.7 541.2,1258.9 541.9,1279.4 542.7,1298.9 543.4,1258.0 544.1,1256.3 544.8,1216.7 545.6,1234.4 546.3,1228.5 547.0,1239.8 547.7,1222.1 548.5,1284.8 549.2,1239.4 549.9,1274.0 550.6,1243.5 551.4,1281.7 552.1,1337.9 552.8,1258.7 553.5,1285.8 554.3,1276.9 555.0,1284.4 555.7,1286.9 556.4,1263.6 557.2,1273.7 557.9,1266.5 558.6,1264.6 559.3,1260.7 560.1,1312.3 560.8,1280.6 561.5,1313.8 562.2,1314.0 563.0,1282.7 563.7,1325.9 564.4,1285.4 565.1,1315.3 565.9,1330.9 566.6,1284.4 567.3,1266.1 568.0,1279.8 568.8,1347.7 569.5,1293.1 570.2,1274.8 570.9,1317.2 571.7,1296.7 572.4,1300.4 573.1,1267.8 573.8,1227.0 574.6,1280.3 575.3,1285.3 576.0,1274.2 576.7,1285.5 577.5,1288.9 578.2,1336.3 578.9,1323.6 579.6,1320.3 580.4,1299.8 581.1,1285.8 581.8,1317.6 582.5,1327.6 583.3,1332.4 584.0,1312.2 584.7,1310.9 585.4,1321.2 586.2,1298.8 586.9,1304.0 587.6,1335.7 588.3,1300.7 589.1,1326.1 589.8,1344.1 590.5,1333.0 591.2,1334.9 592.0,1301.5 592.7,1317.6 593.4,1312.3 594.1,1328.8 594.9,1326.5 595.6,1321.6 596.3,1361.2 597.0,1344.5 597.8,1322.2 598.5,1316.5 599.2,1327.9 599.9,1317.3 600.7,1359.8 601.4,1338.6 602.1,1321.6 602.8,1315.6 603.6,1294.6 604.3,1326.4 605.0,1359.2 605.7,1363.2 606.5,1334.6 607.2,1337.7 607.9,1298.0 608.6,1348.6 609.4,1331.0 610.1,1364.3 610.8,1336.9 611.5,1332.4 612.3,1345.4 613.0,1326.6 613.7,1360.9 614.4,1336.1 615.2,1333.6 615.9,1330.1 616.6,1311.4 617.3,1332.2 618.1,1328.7 618.8,1362.6 619.5,1334.3 620.2,1344.1 621.0,1331.0 621.7,1334.0 622.4,1335.3 623.1,1365.1 623.9,1341.2 624.6,1371.9 625.3,1335.1 626.0,1334.6 626.8,1306.8 627.5,1360.8 628.2,1385.5 628.9,1343.3 629.7,1396.1 630.4,1366.1 631.1,1338.3 631.8,1366.1 632.6,1334.1 633.3,1343.5 634.0,1369.7 634.7,1347.8 635.5,1321.9 636.2,1370.2 636.9,1323.4 637.6,1341.1 638.4,1337.5 639.1,1341.0 639.8,1328.9 640.5,1296.1 641.3,1384.0 642.0,1335.6 642.7,1340.4 643.4,1283.8 644.2,1365.0 644.9,1384.8 645.6,1405.0 646.3,1408.4 647.1,1402.7 647.8,1359.0 648.5,1349.8 649.2,1374.8 650.0,1347.6 650.7,1352.5 651.4,1331.9 652.1,1351.7 652.9,1385.9 653.6,1347.2 654.3,1354.4 655.0,1301.5 655.8,1369.3 656.5,1356.9 657.2,1369.6 657.9,1348.3 658.7,1328.5 659.4,1302.5 660.1,1351.6 660.8,1339.7 661.6,1320.5 662.3,1336.4 663.0,1326.8 663.7,1353.7 664.5,1331.2 665.2,1323.7 665.9,1346.8 666.6,1339.4 667.4,1377.1 668.1,1335.5 668.8,1325.1 669.5,1347.8 670.3,1343.9 671.0,1353.0 671.7,1350.8 672.4,1325.6 673.2,1340.5 673.9,1334.6 674.6,1313.6 675.3,1324.0 676.1,1338.5 676.8,1307.2 677.5,1319.2 678.2,1326.7 679.0,1343.0 679.7,1356.2 680.4,1323.5 681.1,1355.1 681.9,1360.9 682.6,1376.4 683.3,1337.9 684.0,1326.3 684.8,1313.1 685.5,1350.4 686.2,1363.7 686.9,1327.5 687.7,1348.1 688.4,1355.5 689.1,1357.2 689.8,1332.8 690.6,1352.6 691.3,1340.7 692.0,1324.8 692.7,1349.8 693.5,1348.2 694.2,1311.6 694.9,1348.9 695.6,1376.7 696.4,1313.7 697.1,1353.8 697.8,1369.9 698.5,1343.5 699.3,1349.6 700.0,1337.4 700.7,1370.9 701.4,1331.2 702.2,1346.7 702.9,1314.3 703.6,1358.0 704.3,1353.2 705.1,1315.3 705.8,1330.1 706.5,1356.0 707.2,1341.1 708.0,1330.4 708.7,1276.8 709.4,1364.6 710.1,1389.2 710.9,1345.4 711.6,1360.6 712.3,1359.4 713.0,1349.4 713.8,1352.2 714.5,1352.6 715.2,1335.8 715.9,1398.3 716.7,1404.0 717.4,1361.6 718.1,1410.7 718.8,1341.3 719.6,1351.9 720.3,1377.0 721.0,1321.2 721.7,1334.2 722.5,1366.8 723.2,1318.3 723.9,1403.0 724.6,1360.8 725.4,1350.0 726.1,1357.9 726.8,1330.6 727.5,1331.6 728.3,1364.6 729.0,1366.3 729.7,1350.9 730.4,1346.1 731.2,1336.1 731.9,1370.6 732.6,1318.7 733.3,1331.1 734.1,1338.5 734.8,1322.3 735.5,1327.5 736.2,1334.2 737.0,1372.2 737.7,1387.5 738.4,1361.8 739.1,1326.4 739.9,1336.7 740.6,1351.7 741.3,1347.5 742.0,1343.4 742.8,1357.2 743.5,1310.5 744.2,1333.7 744.9,1347.0 745.7,1355.4 746.4,1347.3 747.1,1342.7 747.8,1340.6 748.6,1332.4 749.3,1348.1 750.0,1345.0 750.7,1337.8 751.5,1373.8 752.2,1373.6 752.9,1344.4 753.6,1369.5 754.4,1370.6 755.1,1352.9 755.8,1350.0 756.5,1356.7 757.3,1317.5 758.0,1321.4 758.7,1356.7 759.4,1351.5 760.2,1370.7 760.9,1335.9 761.6,1364.1 762.3,1362.6 763.1,1379.1 763.8,1329.5 764.5,1339.1 765.2,1351.9 766.0,1352.4 766.7,1317.2 767.4,1336.0 768.1,1321.8 768.9,1386.8 769.6,1345.2 770.3,1348.3 771.0,1340.1 771.8,1353.7 772.5,1368.4 773.2,1348.4 773.9,1353.1 774.7,1391.4 775.4,1380.8 776.1,1356.6 776.8,1345.7 777.6,1353.9 778.3,1342.8 779.0,1362.6 779.7,1348.2 780.5,1340.5 781.2,1355.3 781.9,1343.4 782.6,1367.4 783.4,1404.0 784.1,1339.7 784.8,1327.6 785.5,1373.1 786.3,1354.3 787.0,1391.7 787.7,1364.4 788.4,1375.2 789.2,1345.6 789.9,1331.5 790.6,1356.5 791.3,1371.3 792.1,1343.7 792.8,1330.0 793.5,1339.2 794.2,1349.7 795.0,1352.8 795.7,1360.0 796.4,1405.6 797.1,1365.6 797.9,1350.7 798.6,1347.6 799.3,1381.2 800.0,1317.8 800.8,1391.8 801.5,1365.6 802.2,1339.3 802.9,1370.7 803.7,1367.0 804.4,1392.3 805.1,1343.7 805.8,1373.1 806.6,1367.0 807.3,1391.8 808.0,1341.7 808.7,1346.6 809.5,1395.7 810.2,1370.8 810.9,1335.1 811.6,1368.3 812.4,1347.6 813.1,1347.0 813.8,1333.5 814.5,1368.8 815.3,1336.8 816.0,1346.9 816.7,1342.7 817.4,1312.9 818.2,1327.4 818.9,1356.2 819.6,1315.6 820.3,1351.6 821.1,1348.4 821.8,1364.5 822.5,1366.8 823.2,1369.9 824.0,1356.0 824.7,1359.5 825.4,1342.3 826.1,1345.4 826.9,1371.2 827.6,1334.9 828.3,1371.0 829.0,1368.7 829.8,1323.7 830.5,1357.7 831.2,1332.2 831.9,1352.7 832.7,1333.0 833.4,1353.5 834.1,1351.1 834.8,1330.0 835.6,1385.3 836.3,1366.3 837.0,1321.4 837.7,1357.3 838.5,1345.6 839.2,1416.5 839.9,1356.2 840.6,1364.7 841.4,1353.6 842.1,1366.0 842.8,1343.4 843.5,1323.9 844.3,1342.0 845.0,1343.5 845.7,1362.8 846.4,1355.1 847.2,1348.2 847.9,1351.6 848.6,1345.4 849.3,1365.6 850.1,1304.0 850.8,1357.8 851.5,1385.3 852.2,1353.0 853.0,1352.4 853.7,1364.4 854.4,1347.4 855.1,1350.3 855.9,1375.1 856.6,1351.5 857.3,1396.0 858.0,1371.1 858.8,1359.9 859.5,1350.8 860.2,1356.6 860.9,1320.9 861.7,1364.3 862.4,1375.9 863.1,1371.6 863.8,1355.7 864.6,1375.4 865.3,1377.0 866.0,1364.7 866.7,1374.2 867.5,1387.7 868.2,1379.6 868.9,1367.5 869.6,1376.7 870.4,1381.6 871.1,1352.9 871.8,1383.6 872.5,1379.1 873.3,1343.4 874.0,1351.2 874.7,1412.3 875.4,1384.8 876.2,1408.2 876.9,1380.9 877.6,1432.9 878.3,1405.6 879.1,1378.1 879.8,1394.4 880.5,1416.1 881.2,1457.5 882.0,1403.0 882.7,1380.1 883.4,1372.3 884.1,1398.0 884.9,1404.8 885.6,1389.0 886.3,1384.7 887.0,1399.5 887.8,1393.3 888.5,1391.1 889.2,1359.1 889.9,1378.9 890.7,1437.2 891.4,1384.8 892.1,1454.1 892.8,1394.3 893.6,1385.1 894.3,1395.7 895.0,1401.2 895.7,1378.8 896.5,1395.9 897.2,1380.9 897.9,1410.7 898.6,1379.8 899.4,1390.3 900.1,1365.8 900.8,1370.9 901.5,1395.1 902.3,1385.2 903.0,1398.0 903.7,1407.4 904.4,1411.2 905.2,1376.1 905.9,1391.9 906.6,1402.0 907.3,1377.4 908.1,1364.9 908.8,1372.7 909.5,1407.9 910.2,1379.8 911.0,1403.0 911.7,1372.2 912.4,1396.6 913.1,1355.3 913.9,1373.2 914.6,1383.0 915.3,1430.9 916.0,1391.5 916.8,1402.7 917.5,1378.6 918.2,1379.4 918.9,1407.2 919.7,1410.3 920.4,1407.4 921.1,1406.9 921.8,1379.0 922.6,1421.5 923.3,1389.5 924.0,1406.5 924.7,1397.1 925.5,1335.8 926.2,1350.2 926.9,1353.7 927.6,1377.4 928.4,1396.1 929.1,1375.7 929.8,1395.3 930.5,1364.4 931.3,1376.1 932.0,1373.1 932.7,1388.9 933.4,1370.9 934.2,1388.6 934.9,1400.4 935.6,1383.8 936.3,1376.2 937.1,1377.0 937.8,1368.5 938.5,1370.9 939.2,1401.0 940.0,1395.5 940.7,1369.6 941.4,1390.9 942.1,1405.0 942.9,1412.3 943.6,1410.6 944.3,1415.9 945.0,1398.2 945.8,1396.4 946.5,1390.0 947.2,1408.5 947.9,1411.3 948.7,1413.7 949.4,1401.0 950.1,1369.1 950.8,1358.8 951.6,1345.9 952.3,1371.5 953.0,1398.1 953.7,1368.0 954.5,1336.5 955.2,1388.8 955.9,1403.1 956.6,1399.8 957.4,1411.1 958.1,1381.2 958.8,1371.5 959.5,1375.6 960.3,1359.8 961.0,1371.7 961.7,1404.2 962.4,1417.9 963.2,1404.6 963.9,1388.1 964.6,1378.0 965.3,1384.3 966.1,1348.7 966.8,1388.2 967.5,1392.1 968.2,1378.4 969.0,1382.3 969.7,1355.9 970.4,1397.2 971.1,1398.0 971.9,1340.8 972.6,1376.1 973.3,1394.5 974.0,1411.8 974.8,1369.7 975.5,1381.8 976.2,1421.3 976.9,1387.8 977.7,1376.3 978.4,1373.4 979.1,1382.3 979.8,1360.3 980.6,1399.2 981.3,1367.4 982.0,1388.6 982.7,1392.4 983.5,1395.3 984.2,1377.1 984.9,1375.7 985.6,1381.5 986.4,1378.2 987.1,1395.1 987.8,1376.0 988.5,1409.3 989.3,1423.6 990.0,1368.0 990.7,1384.8 991.4,1359.0 992.2,1389.1 992.9,1383.1 993.6,1372.7 994.3,1359.7 995.1,1377.6 995.8,1410.4 996.5,1404.4 997.2,1385.5 998.0,1371.0 998.7,1383.0 999.4,1373.7 1000.1,1353.0 1000.9,1375.9 1001.6,1401.5 1002.3,1396.3 1003.0,1393.7 1003.8,1373.1 1004.5,1368.6 1005.2,1420.3 1005.9,1387.8 1006.7,1414.4 1007.4,1385.5 1008.1,1415.7 1008.8,1406.3 1009.6,1397.4 1010.3,1398.3 1011.0,1435.7 1011.7,1418.5 1012.5,1397.6 1013.2,1403.0 1013.9,1374.3 1014.6,1426.3 1015.4,1421.0 1016.1,1392.1 1016.8,1406.0 1017.5,1354.6 1018.3,1415.3 1019.0,1408.6 1019.7,1406.9 1020.4,1427.1 1021.2,1410.3 1021.9,1390.8 1022.6,1388.2 1023.3,1404.0 1024.1,1430.8 1024.8,1405.0 1025.5,1391.1 1026.2,1405.1 1027.0,1377.9 1027.7,1453.7 1028.4,1402.7 1029.1,1383.6 1029.9,1403.6 1030.6,1419.6 1031.3,1411.8 1032.0,1435.9 1032.8,1380.2 1033.5,1427.4 1034.2,1400.2 1034.9,1413.4 1035.7,1425.5 1036.4,1378.0 1037.1,1374.1 1037.8,1390.7 1038.6,1371.3 1039.3,1344.4 1040.0,1401.8 1040.7,1420.7 1041.5,1395.9 1042.2,1412.4 1042.9,1463.3 1043.6,1414.7 1044.4,1401.5 1045.1,1404.6 1045.8,1414.5 1046.5,1400.4 1047.3,1418.2 1048.0,1409.4 1048.7,1418.0 1049.4,1403.0 1050.2,1396.1 1050.9,1380.0 1051.6,1371.2 1052.3,1388.0 1053.1,1388.3 1053.8,1401.6 1054.5,1399.4 1055.2,1397.1 1056.0,1438.3 1056.7,1408.2 1057.4,1420.2 1058.1,1384.7 1058.9,1414.1 1059.6,1416.5 1060.3,1406.3 1061.0,1378.3 1061.8,1421.4 1062.5,1393.4 1063.2,1365.6 1063.9,1381.3 1064.7,1406.8 1065.4,1398.4 1066.1,1418.0 1066.8,1415.9 1067.6,1426.2 1068.3,1414.3 1069.0,1407.8 1069.7,1407.6 1070.5,1397.5 1071.2,1398.9 1071.9,1402.2 1072.6,1417.6 1073.4,1400.8 1074.1,1410.4 1074.8,1425.0 1075.5,1368.7 1076.3,1379.3 1077.0,1384.9 1077.7,1399.3 1078.4,1377.6 1079.2,1391.8 1079.9,1463.3 1080.6,1384.8 1081.3,1404.5 1082.1,1411.1 1082.8,1403.7 1083.5,1389.5 1084.2,1422.3 1085.0,1376.3 1085.7,1389.3 1086.4,1399.1 1087.1,1391.6 1087.9,1418.1 1088.6,1390.3 1089.3,1427.5 1090.0,1396.9 1090.8,1419.4 1091.5,1400.3 1092.2,1388.0 1092.9,1382.1 1093.7,1406.3 1094.4,1383.9 1095.1,1394.6 1095.8,1386.0 1096.6,1369.3 1097.3,1410.5 1098.0,1412.6 1098.7,1384.6 1099.5,1410.7 1100.2,1400.2 1100.9,1354.2 1101.6,1391.6 1102.4,1417.4 1103.1,1424.1 1103.8,1414.8 1104.5,1480.6 1105.3,1414.0 1106.0,1396.8 1106.7,1385.5 1107.4,1431.0 1108.2,1401.2 1108.9,1403.2 1109.6,1396.6 1110.3,1396.7 1111.1,1403.2 1111.8,1414.8 1112.5,1415.1 1113.2,1411.3 1114.0,1420.1 1114.7,1398.7 1115.4,1391.6 1116.1,1407.7 1116.9,1379.2 1117.6,1425.0 1118.3,1422.3 1119.0,1425.4 1119.8,1404.4 1120.5,1416.0 1121.2,1425.2 1121.9,1409.7 1122.7,1395.4 1123.4,1417.6 1124.1,1420.8 1124.8,1407.4 1125.6,1431.3 1126.3,1447.8 1127.0,1422.5 1127.7,1409.9 1128.5,1406.3 1129.2,1432.9 1129.9,1412.4 1130.6,1415.3 1131.4,1408.5 1132.1,1396.4 1132.8,1426.8 1133.5,1402.7 1134.3,1409.9 1135.0,1378.2 1135.7,1440.6 1136.4,1420.7 1137.2,1409.2 1137.9,1400.5 1138.6,1405.0 1139.3,1391.6 1140.1,1423.8 1140.8,1404.9 1141.5,1422.5 1142.2,1421.5 1143.0,1459.4 1143.7,1415.1 1144.4,1415.4 1145.1,1418.6 1145.9,1404.5 1146.6,1412.9 1147.3,1424.9 1148.0,1440.5 1148.8,1437.3 1149.5,1423.9 1150.2,1444.5 1150.9,1421.5 1151.7,1405.7 1152.4,1450.6 1153.1,1431.1 1153.8,1426.6 1154.6,1417.8 1155.3,1429.6 1156.0,1477.1 1156.7,1436.2 1157.5,1469.0 1158.2,1439.2 1158.9,1455.5 1159.6,1440.8 1160.4,1434.7 1161.1,1432.7 1161.8,1439.8 1162.5,1416.8 1163.3,1416.9 1164.0,1450.6 1164.7,1461.9 1165.4,1447.5 1166.2,1443.5 1166.9,1428.0 1167.6,1456.7 1168.3,1456.0 1169.1,1415.2 1169.8,1443.1 1170.5,1437.0 1171.2,1419.7 1172.0,1461.8 1172.7,1454.9 1173.4,1442.5 1174.1,1457.8 1174.9,1431.4 1175.6,1442.4 1176.3,1457.0 1177.0,1433.5 1177.8,1441.0 1178.5,1422.7 1179.2,1445.0 1179.9,1452.3 1180.7,1423.3 1181.4,1426.4 1182.1,1436.4 1182.8,1456.5 1183.6,1429.5 1184.3,1424.2 1185.0,1433.3 1185.7,1449.8 1186.5,1413.3 1187.2,1433.3 1187.9,1455.8 1188.6,1440.3 1189.4,1439.7 1190.1,1457.4 1190.8,1430.3 1191.5,1474.7 1192.3,1451.9 1193.0,1438.3 1193.7,1442.8 1194.4,1439.4 1195.2,1435.8 1195.9,1423.3 1196.6,1435.2 1197.3,1418.0 1198.1,1460.2 1198.8,1425.6 1199.5,1429.4 1200.2,1426.6 1201.0,1445.4 1201.7,1431.9 1202.4,1454.0 1203.1,1429.5 1203.9,1439.2 1204.6,1437.8 1205.3,1435.2 1206.0,1455.2 1206.8,1456.6 1207.5,1456.9 1208.2,1419.8 1208.9,1441.6 1209.7,1410.5 1210.4,1419.9 1211.1,1411.0 1211.8,1422.6 1212.6,1443.5 1213.3,1454.6 1214.0,1459.9 1214.7,1425.9 1215.5,1424.9 1216.2,1442.7 1216.9,1441.6 1217.6,1441.5 1218.4,1413.6 1219.1,1431.6 1219.8,1439.5 1220.5,1434.4 1221.3,1429.8 1222.0,1423.4 1222.7,1433.7 1223.4,1457.5 1224.2,1444.4 1224.9,1452.1 1225.6,1460.3 1226.3,1425.3 1227.1,1448.8 1227.8,1446.6 1228.5,1457.7 1229.2,1434.8 1230.0,1434.8 1230.7,1431.1 1231.4,1442.8 1232.1,1435.9 1232.9,1442.1 1233.6,1450.0 1234.3,1438.0 1235.0,1434.5 1235.8,1440.5 1236.5,1437.5 1237.2,1448.8 1237.9,1458.1 1238.7,1436.2 1239.4,1407.1 1240.1,1443.8 1240.8,1432.0 1241.6,1417.1 1242.3,1423.4 1243.0,1449.6 1243.7,1406.4 1244.5,1411.9 1245.2,1427.6 1245.9,1388.6 1246.6,1423.4 1247.4,1441.9 1248.1,1440.7 1248.8,1433.9 1249.5,1424.8 1250.3,1427.5 1251.0,1465.9 1251.7,1435.2 1252.4,1460.1 1253.2,1413.6 1253.9,1432.2 1254.6,1432.3 1255.3,1428.2 1256.1,1397.3 1256.8,1421.2 1257.5,1448.2 1258.2,1439.4 1259.0,1424.5 1259.7,1447.6 1260.4,1410.9 1261.1,1441.6 1261.9,1439.3 1262.6,1422.3 1263.3,1416.5 1264.0,1409.0 1264.8,1429.9 1265.5,1457.8 1266.2,1448.1 1266.9,1442.7 1267.7,1448.7 1268.4,1427.4 1269.1,1440.9 1269.8,1395.2 1270.6,1427.3 1271.3,1428.0 1272.0,1433.8 1272.7,1432.3 1273.5,1441.5 1274.2,1424.8 1274.9,1444.4 1275.6,1429.2 1276.4,1444.8 1277.1,1436.9 1277.8,1449.1 1278.5,1447.1 1279.3,1436.1 1280.0,1448.5 1280.7,1417.4 1281.4,1447.2 1282.2,1450.1 1282.9,1439.8 1283.6,1439.6 1284.3,1461.7 1285.1,1455.3 1285.8,1457.2 1286.5,1430.1 1287.2,1430.7 1288.0,1452.2 1288.7,1446.5 1289.4,1411.4 1290.1,1461.3 1290.9,1451.1 1291.6,1420.1 1292.3,1450.9 1293.0,1429.7 1293.8,1432.7 1294.5,1421.1 1295.2,1423.4 1295.9,1429.8 1296.7,1436.8 1297.4,1411.1 1298.1,1434.6 1298.8,1418.0 1299.6,1425.6 1300.3,1419.9 1301.0,1423.0 1301.7,1452.5 1302.5,1412.3 1303.2,1417.7 1303.9,1434.9 1304.6,1429.9 1305.4,1422.9 1306.1,1441.9 1306.8,1422.2 1307.5,1438.5 1308.3,1452.3 1309.0,1453.4 1309.7,1438.7 1310.4,1442.8 1311.2,1444.4 1311.9,1449.0 1312.6,1428.0 1313.3,1455.9 1314.1,1448.8 1314.8,1478.9 1315.5,1448.3 1316.2,1448.8 1317.0,1395.6 1317.7,1425.7 1318.4,1453.7 1319.1,1433.9 1319.9,1422.9 1320.6,1438.3 1321.3,1431.8 1322.0,1437.5 1322.8,1425.1 1323.5,1442.9 1324.2,1470.3 1324.9,1443.8 1325.7,1446.0 1326.4,1432.5 1327.1,1448.6 1327.8,1437.6 1328.6,1425.4 1329.3,1437.1 1330.0,1438.9 1330.7,1448.5 1331.5,1453.0 1332.2,1437.7 1332.9,1431.0 1333.6,1451.4 1334.4,1425.1 1335.1,1431.1 1335.8,1431.6 1336.5,1432.1 1337.3,1426.3 1338.0,1454.3 1338.7,1446.0 1339.4,1432.3 1340.2,1417.3 1340.9,1430.0 1341.6,1444.2 1342.3,1411.9 1343.1,1467.9 1343.8,1435.9 1344.5,1437.4 1345.2,1447.6 1346.0,1422.7 1346.7,1442.1 1347.4,1440.4 1348.1,1449.3 1348.9,1426.7 1349.6,1446.7 1350.3,1453.3 1351.0,1441.8 1351.8,1431.3 1352.5,1427.5 1353.2,1415.9 1353.9,1431.2 1354.7,1444.7 1355.4,1457.2 1356.1,1451.0 1356.8,1462.7 1357.6,1431.1 1358.3,1431.3 1359.0,1417.5 1359.7,1428.8 1360.5,1423.7 1361.2,1435.1 1361.9,1452.1 1362.6,1436.3 1363.4,1433.1 1364.1,1445.5 1364.8,1455.9 1365.5,1451.0 1366.3,1417.4 1367.0,1462.2 1367.7,1436.8 1368.4,1426.0 1369.2,1437.3 1369.9,1458.2 1370.6,1411.7 1371.3,1460.6 1372.1,1447.5 1372.8,1449.7 1373.5,1413.3 1374.2,1437.3 1375.0,1432.0 1375.7,1463.5 1376.4,1440.7 1377.1,1456.0 1377.9,1442.2 1378.6,1427.6 1379.3,1456.9 1380.0,1457.7 1380.8,1472.1 1381.5,1431.4 1382.2,1438.5 1382.9,1447.2 1383.7,1443.7 1384.4,1443.5 1385.1,1471.6 1385.8,1437.5 1386.6,1454.2 1387.3,1435.8 1388.0,1459.7 1388.7,1437.4 1389.5,1427.3 1390.2,1448.5 1390.9,1438.5 1391.6,1431.9 1392.4,1432.7 1393.1,1426.6 1393.8,1440.1 1394.5,1436.7 1395.3,1453.0 1396.0,1421.8 1396.7,1448.1 1397.4,1435.8 1398.2,1409.2 1398.9,1446.2 1399.6,1402.6 1400.3,1432.0 1401.1,1383.3 1401.8,1429.0 1402.5,1421.0 1403.2,1420.4 1404.0,1402.8 1404.7,1420.0 1405.4,1448.4 1406.1,1443.4 1406.9,1436.1 1407.6,1436.6 1408.3,1430.2 1409.0,1458.3 1409.8,1437.6 1410.5,1451.8 1411.2,1415.7 1411.9,1413.4 1412.7,1451.3 1413.4,1419.1 1414.1,1426.2 1414.8,1433.2 1415.6,1437.3 1416.3,1432.2 1417.0,1431.0 1417.7,1446.6 1418.5,1429.7 1419.2,1440.7 1419.9,1430.4 1420.6,1432.9 1421.4,1456.7 1422.1,1426.5 1422.8,1394.1 1423.5,1430.3 1424.3,1432.1 1425.0,1451.9 1425.7,1421.0 1426.4,1410.0 1427.2,1429.1 1427.9,1450.9 1428.6,1419.8 1429.3,1454.9 1430.1,1432.0 1430.8,1435.1 1431.5,1415.4 1432.2,1429.2 1433.0,1415.0 1433.7,1424.7 1434.4,1413.1 1435.1,1437.4 1435.9,1414.4 1436.6,1419.6 1437.3,1370.7 1438.0,1401.6 1438.8,1484.4 1439.5,1420.3 1440.2,1402.7 1440.9,1425.0 1441.7,1422.1 1442.4,1418.8 1443.1,1422.4 1443.8,1420.2 1444.6,1440.0 1445.3,1409.7 1446.0,1431.8 1446.7,1440.0 1447.5,1416.4 1448.2,1461.9 1448.9,1430.3 1449.6,1426.9 1450.4,1418.5 1451.1,1435.5 1451.8,1399.3 1452.5,1433.8 1453.3,1471.9 1454.0,1422.7 1454.7,1429.3 1455.4,1404.1 1456.2,1428.3 1456.9,1406.0 1457.6,1410.8 1458.3,1417.8 1459.1,1446.6 1459.8,1412.7 1460.5,1395.4 1461.2,1426.9 1462.0,1437.3 1462.7,1435.9 1463.4,1429.1 1464.1,1444.4 1464.9,1435.7 1465.6,1433.2 1466.3,1413.3 1467.0,1397.2 1467.8,1440.8 1468.5,1404.5 1469.2,1435.4 1469.9,1434.2 1470.7,1401.1 1471.4,1410.3 1472.1,1427.7 1472.8,1437.5 1473.6,1401.3 1474.3,1420.0 1475.0,1408.5 1475.7,1404.9 1476.5,1423.5 1477.2,1410.8 1477.9,1392.5 1478.6,1427.8 1479.4,1415.5 1480.1,1414.1 1480.8,1398.9 1481.5,1427.3 1482.3,1419.5 1483.0,1421.3 1483.7,1411.0 1484.4,1415.9 1485.2,1450.0 1485.9,1412.4 1486.6,1413.8 1487.3,1400.3 1488.1,1428.9 1488.8,1408.5 1489.5,1400.9 1490.2,1428.2 1491.0,1408.9 1491.7,1398.7 1492.4,1401.5 1493.1,1404.4 1493.9,1396.0 1494.6,1433.5 1495.3,1420.4 1496.0,1391.1 1496.8,1429.8 1497.5,1404.1 1498.2,1418.3 1498.9,1409.3 1499.7,1426.3 1500.4,1420.5 1501.1,1425.6 1501.8,1426.1 1502.6,1374.7 1503.3,1406.7 1504.0,1415.0 1504.7,1413.0 1505.5,1393.8 1506.2,1408.6 1506.9,1408.3 1507.6,1376.3 1508.4,1391.0 1509.1,1413.5 1509.8,1391.3 1510.5,1401.6 1511.3,1406.5 1512.0,1415.6 1512.7,1419.4 1513.4,1423.5 1514.2,1407.9 1514.9,1407.5 1515.6,1400.4 1516.3,1403.2 1517.1,1395.6 1517.8,1405.7 1518.5,1409.3 1519.2,1369.0 1520.0,1354.9 1520.7,1400.8 1521.4,1384.4 1522.1,1355.3 1522.9,1413.0 1523.6,1424.3 1524.3,1386.5 1525.0,1390.1 1525.8,1393.7 1526.5,1390.6 1527.2,1399.2 1527.9,1382.8 1528.7,1398.6 1529.4,1392.7 1530.1,1415.0 1530.8,1398.8 1531.6,1414.9 1532.3,1424.9 1533.0,1410.8 1533.7,1413.1 1534.5,1396.4 1535.2,1404.4 1535.9,1439.2 1536.6,1426.3 1537.4,1406.9 1538.1,1400.9 1538.8,1405.2 1539.5,1424.9 1540.3,1379.6 1541.0,1415.9 1541.7,1379.7 1542.4,1435.6 1543.2,1392.6 1543.9,1426.1 1544.6,1406.6 1545.3,1410.2 1546.1,1434.5 1546.8,1411.1 1547.5,1422.9 1548.2,1420.1 1549.0,1386.0 1549.7,1415.7 1550.4,1430.9 1551.1,1421.6 1551.9,1418.9 1552.6,1404.8 1553.3,1436.9 1554.0,1405.3 1554.8,1439.3 1555.5,1416.4 1556.2,1424.8 1556.9,1394.6 1557.7,1416.5 1558.4,1399.6 1559.1,1412.3 1559.8,1425.9 1560.6,1411.3 1561.3,1408.3 1562.0,1418.3 1562.7,1387.6 1563.5,1407.7 1564.2,1399.4 1564.9,1426.5 1565.6,1403.0 1566.4,1438.6 1567.1,1446.2 1567.8,1387.6 1568.5,1416.0 1569.3,1395.3 1570.0,1435.2 1570.7,1395.7 1571.4,1431.3 1572.2,1419.6 1572.9,1401.0 1573.6,1391.7 1574.3,1428.5 1575.1,1403.6 1575.8,1416.0 1576.5,1432.6 1577.2,1412.4 1578.0,1406.0 1578.7,1389.1 1579.4,1420.6 1580.1,1402.7 1580.9,1390.7 1581.6,1406.1 1582.3,1399.2 1583.0,1391.3 1583.8,1411.0 1584.5,1426.3 1585.2,1428.7 1585.9,1443.1 1586.7,1430.3 1587.4,1418.0 1588.1,1386.5 1588.8,1419.2 1589.6,1434.5 1590.3,1415.3 1591.0,1440.6 1591.7,1410.0 1592.5,1428.7 1593.2,1438.8 1593.9,1452.4 1594.6,1428.8 1595.4,1455.9 1596.1,1422.8 1596.8,1401.9 1597.5,1424.3 1598.3,1444.5 1599.0,1420.9 1599.7,1448.5 1600.4,1423.7 1601.2,1453.4 1601.9,1398.3 1602.6,1460.8 1603.3,1402.6 1604.1,1430.4 1604.8,1415.8 1605.5,1437.0 1606.2,1430.6 1607.0,1427.7 1607.7,1443.8 1608.4,1448.8 1609.1,1431.7 1609.9,1452.8 1610.6,1412.8 1611.3,1421.7 1612.0,1417.6 1612.8,1442.6 1613.5,1449.4 1614.2,1433.3 1614.9,1432.5 1615.7,1427.1 1616.4,1453.2 1617.1,1459.8 1617.8,1437.3 1618.6,1441.8 1619.3,1438.5 1620.0,1442.9 1620.7,1449.2 1621.5,1414.5 1622.2,1432.0 1622.9,1455.5 1623.6,1434.2 1624.4,1475.4 1625.1,1466.8 1625.8,1436.8 1626.5,1439.0 1627.3,1466.5 1628.0,1428.4 1628.7,1436.8 1629.4,1430.5 1630.2,1453.2 1630.9,1457.5 1631.6,1458.9 1632.3,1455.5 1633.1,1433.4 1633.8,1467.4 1634.5,1452.5 1635.2,1449.4 1636.0,1477.4 1636.7,1456.2 1637.4,1461.1 1638.1,1462.7 1638.9,1476.9 1639.6,1450.2 1640.3,1459.4 1641.0,1420.4 1641.8,1437.9 1642.5,1476.7 1643.2,1474.5 1643.9,1445.2 1644.7,1434.3 1645.4,1415.0 1646.1,1429.4 1646.8,1437.4 1647.6,1422.2 1648.3,1442.8 1649.0,1442.1 1649.7,1417.8 1650.5,1429.7 1651.2,1422.2 1651.9,1442.9 1652.6,1446.6 1653.4,1455.8 1654.1,1423.9 1654.8,1439.8 1655.5,1442.8 1656.3,1448.0 1657.0,1459.1 1657.7,1434.9 1658.4,1456.5 1659.2,1471.0 1659.9,1448.6 1660.6,1465.0 1661.3,1459.9 1662.1,1455.2 1662.8,1447.8 1663.5,1454.1 1664.2,1476.6 1665.0,1449.8 1665.7,1431.2 1666.4,1437.3 1667.1,1458.9 1667.9,1436.3 1668.6,1463.5 1669.3,1462.2 1670.0,1456.3 1670.8,1474.8 1671.5,1435.6 1672.2,1444.2 1672.9,1447.8 1673.7,1454.2 1674.4,1431.1 1675.1,1441.6 1675.8,1467.3 1676.6,1447.4 1677.3,1467.3 1678.0,1454.6 1678.7,1448.8 1679.5,1464.3 1680.2,1471.6 1680.9,1450.0 1681.6,1430.0 1682.4,1434.9 1683.1,1438.8 1683.8,1442.1 1684.5,1434.9 1685.3,1457.8 1686.0,1436.4 1686.7,1464.1 1687.4,1437.8 1688.2,1438.7 1688.9,1465.7 1689.6,1459.3 1690.3,1444.0 1691.1,1438.4 1691.8,1440.4 1692.5,1440.8 1693.2,1440.7 1694.0,1449.3 1694.7,1423.9 1695.4,1435.0 1696.1,1436.3 1696.9,1405.5 1697.6,1452.6 1698.3,1460.4 1699.0,1439.4 1699.8,1417.5 1700.5,1423.2 1701.2,1454.6 1701.9,1415.1 1702.7,1414.8 1703.4,1433.3 1704.1,1445.3 1704.8,1449.4 1705.6,1451.3 1706.3,1406.4 1707.0,1429.2 1707.7,1423.3 1708.5,1412.6 1709.2,1443.8 1709.9,1437.7 1710.6,1421.3 1711.4,1433.0 1712.1,1432.2 1712.8,1445.8 1713.5,1422.4 1714.3,1438.6 1715.0,1422.5 1715.7,1439.2 1716.4,1434.5 1717.2,1439.6 1717.9,1437.2 1718.6,1457.6 1719.3,1430.6 1720.1,1429.0 1720.8,1434.6 1721.5,1448.1 1722.2,1451.4 1723.0,1441.3 1723.7,1433.0 1724.4,1435.8 1725.1,1431.2 1725.9,1444.7 1726.6,1435.7 1727.3,1436.5 1728.0,1432.8 1728.8,1432.3 1729.5,1446.2 1730.2,1425.1 1730.9,1436.4 1731.7,1440.5 1732.4,1419.1 1733.1,1448.0 1733.8,1427.6 1734.6,1397.9 1735.3,1434.3 1736.0,1429.1 1736.7,1432.0 1737.5,1421.5 1738.2,1420.9 1738.9,1428.5 1739.6,1408.9 1740.4,1429.3 1741.1,1428.6 1741.8,1440.4 1742.5,1426.7 1743.3,1438.5 1744.0,1411.9 1744.7,1414.3 1745.4,1442.9 1746.2,1452.9 1746.9,1445.4 1747.6,1411.9 1748.3,1415.7 1749.1,1418.1 1749.8,1440.2 1750.5,1413.5 1751.2,1425.0 1752.0,1429.1 1752.7,1430.4 1753.4,1424.1 1754.1,1432.6 1754.9,1450.0 1755.6,1435.8 1756.3,1435.7 1757.0,1448.6 1757.8,1458.7 1758.5,1470.3 1759.2,1422.0 1759.9,1438.7 1760.7,1435.3 1761.4,1419.8 1762.1,1431.5 1762.8,1428.7 1763.6,1419.0 1764.3,1435.6 1765.0,1454.5 1765.7,1435.8 1766.5,1443.8 1767.2,1449.4 1767.9,1438.3 1768.6,1423.7 1769.4,1415.2 1770.1,1439.4 1770.8,1466.2 1771.5,1412.2 1772.3,1459.2 1773.0,1437.2 1773.7,1437.1 1774.4,1458.6 1775.2,1455.9 1775.9,1456.7 1776.6,1448.0 1777.3,1457.7 1778.1,1438.0 1778.8,1448.7 1779.5,1455.7 1780.2,1443.5 1781.0,1434.7 1781.7,1468.0 1782.4,1447.4 1783.1,1440.4 1783.9,1461.3 1784.6,1469.1 1785.3,1464.1 1786.0,1436.0 1786.8,1449.4 1787.5,1450.3 1788.2,1452.3 1788.9,1425.5 1789.7,1426.3 1790.4,1443.9 1791.1,1442.4 1791.8,1449.2 1792.6,1459.7 1793.3,1430.5 1794.0,1434.2 1794.7,1441.0 1795.5,1466.0 1796.2,1443.7 1796.9,1456.3 1797.6,1413.4 1798.4,1443.3 1799.1,1450.9 1799.8,1457.2 1800.5,1432.8 1801.3,1468.6 1802.0,1436.8 1802.7,1467.1 1803.4,1472.1 1804.2,1451.5 1804.9,1424.8 1805.6,1478.9 1806.3,1455.3 1807.1,1434.6 1807.8,1454.4 1808.5,1434.8 1809.2,1449.6 1810.0,1424.8 1810.7,1420.0 1811.4,1456.9 1812.1,1441.6 1812.9,1450.8 1813.6,1457.3 1814.3,1455.3 1815.0,1450.4 1815.8,1464.6 1816.5,1472.6 1817.2,1462.3 1817.9,1454.8 1818.7,1459.3 1819.4,1490.2 1820.1,1475.3 1820.8,1460.0 1821.6,1472.1 1822.3,1479.1 1823.0,1476.0 1823.7,1472.2 1824.5,1479.9 1825.2,1472.8 1825.9,1486.2 1826.6,1485.1 1827.4,1486.7 1828.1,1486.4 1828.8,1485.4 1829.5,1466.4 1830.3,1468.3 1831.0,1483.0 1831.7,1477.2 1832.4,1488.9 1833.2,1468.7 1833.9,1473.7 1834.6,1462.8 1835.3,1474.9 1836.1,1470.4 1836.8,1486.2 1837.5,1473.5 1838.2,1487.9 1839.0,1464.4 1839.7,1455.7 1840.4,1494.6 1841.1,1479.9 1841.9,1492.1 1842.6,1467.7 1843.3,1456.2 1844.0,1492.8 1844.8,1478.3 1845.5,1467.9 1846.2,1496.9 1846.9,1472.1 1847.7,1461.0 1848.4,1473.4 1849.1,1463.0 1849.8,1459.8 1850.6,1473.9 1851.3,1469.9 1852.0,1466.9 1852.7,1466.8 1853.5,1451.6 1854.2,1473.2 1854.9,1485.3 1855.6,1469.7 1856.4,1476.5 1857.1,1483.7 1857.8,1458.3 1858.5,1452.3 1859.3,1448.1 1860.0,1452.3 1860.7,1472.6 1861.4,1453.4 1862.2,1467.4 1862.9,1442.5 1863.6,1472.2 1864.3,1450.6 1865.1,1454.1 1865.8,1456.8 1866.5,1454.3 1867.2,1456.3 1868.0,1464.9 1868.7,1457.2 1869.4,1463.2 1870.1,1447.9 1870.9,1445.6 1871.6,1435.8 1872.3,1457.4 1873.0,1437.9 1873.8,1451.5 1874.5,1447.5 1875.2,1448.0 1875.9,1444.0 1876.7,1452.8 1877.4,1451.3 1878.1,1463.9 1878.8,1442.4 1879.6,1440.8 1880.3,1431.5 1881.0,1489.2 1881.7,1438.2 1882.5,1456.3 1883.2,1456.9 1883.9,1426.9 1884.6,1443.4 1885.4,1460.2 1886.1,1452.4 1886.8,1438.0 1887.5,1454.0 1888.3,1469.2 1889.0,1454.7 1889.7,1456.0 1890.4,1463.6 1891.2,1492.1 1891.9,1449.0 1892.6,1437.4 1893.3,1447.2 1894.1,1441.5 1894.8,1430.4 1895.5,1444.4 1896.2,1436.3 1897.0,1464.1 1897.7,1449.2 1898.4,1398.4 1899.1,1430.3 1899.9,1454.5 1900.6,1441.4 1901.3,1436.7 1902.0,1437.8 1902.8,1432.5 1903.5,1449.2 1904.2,1435.6 1904.9,1430.3 1905.7,1452.9 1906.4,1428.0 1907.1,1445.1 1907.8,1428.7 1908.6,1434.6 1909.3,1432.6 1910.0,1424.1 1910.7,1431.2 1911.5,1470.9 1912.2,1426.9 1912.9,1467.3 1913.6,1459.8 1914.4,1461.7 1915.1,1433.8 1915.8,1451.5 1916.5,1438.0 1917.3,1477.6 1918.0,1426.9 1918.7,1448.0 1919.4,1424.4 1920.2,1449.9 1920.9,1426.1 1921.6,1404.6 1922.3,1410.4 1923.1,1419.4 1923.8,1446.4 1924.5,1407.9 1925.2,1415.6 1926.0,1425.7 1926.7,1429.1 1927.4,1432.9 1928.1,1451.8 1928.9,1425.7 1929.6,1406.4 1930.3,1433.2 1931.0,1411.7 1931.8,1409.8 1932.5,1411.0 1933.2,1429.0 1933.9,1419.6 1934.7,1396.7 1935.4,1385.6 1936.1,1394.0 1936.8,1370.3 1937.6,1349.8 1938.3,1364.7 1939.0,1389.4 1939.7,1357.5 1940.5,1357.7 1941.2,1390.4 1941.9,1407.1 1942.6,1388.3 1943.4,1345.8 1944.1,1367.3 1944.8,1398.3 1945.5,1373.4 1946.3,1345.4 1947.0,1346.0 1947.7,1333.5 1948.4,1335.4 1949.2,1355.7 1949.9,1350.2 1950.6,1325.1 1951.3,1353.3 1952.1,1343.5 1952.8,1363.1 1953.5,1324.1 1954.2,1333.9 1955.0,1278.3 1955.7,1331.6 1956.4,1322.2 1957.1,1336.8 1957.9,1306.6 1958.6,1306.6 1959.3,1304.7 1960.0,1330.5 1960.8,1276.7 1961.5,1286.3 1962.2,1290.9 1962.9,1258.1 1963.7,1233.6 1964.4,1236.4 1965.1,1240.5 1965.8,1262.7 1966.6,1207.5 1967.3,1163.5 1968.0,1235.4 1968.7,1207.1 1969.5,1217.8 1970.2,1196.2 1970.9,1193.5 1971.6,1141.4 1972.4,1209.2 1973.1,1150.4 1973.8,1199.1 1974.5,1110.9 1975.3,1180.4 1976.0,1134.0 1976.7,1068.2 1977.4,1126.9 1978.2,1118.6 1978.9,1113.8 1979.6,1076.6 1980.3,1164.4 1981.1,1085.5 1981.8,1123.3 1982.5,1021.9 1983.2,1100.9 1984.0,1081.1 1984.7,1049.1 1985.4,1068.4 1986.1,992.3 1986.9,1002.7 1987.6,964.9 1988.3,956.0 1989.0,899.7 1989.8,936.4 1990.5,919.7 1991.2,894.6 1991.9,876.1 1992.7,821.9 1993.4,788.0 1994.1,772.2 1994.8,762.2 1995.6,675.3 1996.3,670.7 1997.0,683.3 1997.7,618.6 1998.5,521.2 1999.2,542.3 1999.9,403.5 2000.6,402.7 2001.4,412.6 2002.1,381.6 2002.8,353.0 2003.5,289.9 2004.3,251.6 2005.0,301.3 2005.7,276.4 2006.4,304.8 2007.2,218.7 2007.9,188.4 2008.6,192.3 2009.3,122.0 2010.1,110.6 2010.8,80.3 2011.5,27.3 2012.2,29.6 2013.0,-47.1 2013.7,-195.7 2014.4,-295.7 2015.1,-288.5 2015.9,-296.4 2016.6,-371.0 2017.3,-357.3 2018.0,-378.4 2018.8,-376.2 2019.5,-365.8 2020.2,-371.8 2020.9,-306.1 2021.7,-312.3 2022.4,-378.8 2023.1,-341.9 2023.8,-337.2 2024.6,-272.3 2025.3,-336.6 2026.0,-290.3 2026.7,-269.2 2027.5,-350.0 2028.2,-294.5 2028.9,-317.8 2029.6,-289.7 2030.4,-357.5 2031.1,-322.8 2031.8,-361.7 2032.5,-285.4 2033.3,-370.7 2034.0,-306.6 2034.7,-359.4 2035.4,-334.7 2036.2,-339.6 2036.9,-314.7 2037.6,-303.4 2038.3,-262.0 2039.1,-281.7 2039.8,-322.8 2040.5,-355.1 2041.2,-276.1 2042.0,-350.5 2042.7,-309.1 2043.4,-332.5 2044.1,-347.1 2044.9,-312.2 2045.6,-357.8 2046.3,-327.7 2047.0,-324.0 2047.8,-284.2 2048.5,-278.5 2049.2,-287.4 2049.9,-307.3 2050.7,-254.0 2051.4,-274.6 2052.1,-340.7 2052.8,-284.1 2053.6,-261.4 2054.3,-308.4 2055.0,-271.3 2055.7,-289.8 2056.5,-330.3 2057.2,-283.1 2057.9,-312.3 2058.6,-363.9 2059.4,-302.4 2060.1,-368.0 2060.8,-276.2 2061.5,-324.4 2062.3,-306.5 2063.0,-278.2 2063.7,-275.8 2064.4,-313.0 2065.2,-284.4 2065.9,-272.8 2066.6,-260.1 2067.3,-331.9 2068.1,-298.5 2068.8,-368.0 2069.5,-339.8 2070.2,-315.5 2071.0,-320.8 2071.7,-348.6 2072.4,-293.8 2073.1,-185.6 2073.9,-142.2 2074.6,-7.3 2075.3,22.7 2076.0,165.8 2076.8,184.3 2077.5,260.0 2078.2,246.5 2078.9,335.1 2079.7,350.5 2080.4,392.8 2081.1,407.2 2081.8,447.1 2082.6,448.0 2083.3,494.6 2084.0,489.8 2084.7,514.9 2085.5,556.5 2086.2,583.3 2086.9,609.3 2087.6,617.8 2088.4,666.4 2089.1,738.0 2089.8,745.9 2090.5,785.7 2091.3,778.5 2092.0,911.7 2092.7,857.4 2093.4,895.7 2094.2,883.2 2094.9,955.9 2095.6,847.7 2096.3,839.3 2097.1,902.1 2097.8,841.4 2098.5,913.1 2099.2,935.9 2100.0,971.7 2100.7,1034.8 2101.4,978.5 2102.1,1052.1 2102.9,1079.4 2103.6,1129.6 2104.3,1023.4 2105.0,1055.2 2105.8,1131.5 2106.5,1055.9 2107.2,1126.1 2107.9,1111.8 2108.7,1123.1 2109.4,1065.8 2110.1,1050.3 2110.8,1098.3 2111.6,1145.3 2112.3,1156.6 2113.0,1120.1 2113.7,1162.5 2114.5,1161.4 2115.2,1140.7 2115.9,1144.3 2116.6,1128.5 2117.4,1154.6 2118.1,1168.7 2118.8,1224.7 2119.5,1221.1 2120.3,1202.5 2121.0,1221.9 2121.7,1200.0 2122.4,1169.9 2123.2,1235.7 2123.9,1246.7 2124.6,1219.1 2125.3,1270.3 2126.1,1274.6 2126.8,1277.8 2127.5,1227.6 2128.2,1277.8 2129.0,1297.4 2129.7,1272.8 2130.4,1283.2 2131.1,1312.4 2131.9,1338.7 2132.6,1316.3 2133.3,1308.0 2134.0,1296.7 2134.8,1289.3 2135.5,1298.0 2136.2,1326.0 2136.9,1312.9 2137.7,1351.5 2138.4,1303.4 2139.1,1310.0 2139.8,1333.8 2140.6,1340.1 2141.3,1338.7 2142.0,1316.6 2142.7,1323.0 2143.5,1354.6 2144.2,1326.1 2144.9,1331.4 2145.6,1355.1 2146.4,1353.7 2147.1,1348.4 2147.8,1379.9 2148.5,1324.5 2149.3,1356.4 2150.0,1339.4 2150.7,1368.5 2151.4,1320.9 2152.2,1362.4 2152.9,1342.5 2153.6,1395.2 2154.3,1355.1 2155.1,1386.7 2155.8,1332.0 2156.5,1330.6 2157.2,1345.1 2158.0,1303.6 2158.7,1314.5 2159.4,1357.3 2160.1,1349.5 2160.9,1328.0 2161.6,1356.2 2162.3,1348.4 2163.0,1353.3 2163.8,1332.4 2164.5,1371.3 2165.2,1348.4 2165.9,1388.7 2166.7,1348.6 2167.4,1444.4 2168.1,1363.0 2168.8,1354.7 2169.6,1361.8 2170.3,1389.7 2171.0,1393.4 2171.7,1367.6 2172.5,1401.8 2173.2,1423.6 2173.9,1396.6 2174.6,1410.3 2175.4,1425.5 2176.1,1417.5 2176.8,1378.9 2177.5,1433.8 2178.3,1412.7 2179.0,1419.0 2179.7,1438.5 2180.4,1379.2 2181.2,1432.0 2181.9,1422.0 2182.6,1440.9 2183.3,1418.6 2184.1,1432.1 2184.8,1426.9 2185.5,1391.2 2186.2,1408.4 2187.0,1398.0 2187.7,1408.2 2188.4,1395.9 2189.1,1386.4 2189.9,1407.4 2190.6,1403.7 2191.3,1414.8 2192.0,1431.8 2192.8,1400.0 2193.5,1401.4 2194.2,1422.3 2194.9,1428.1 2195.7,1376.5 2196.4,1398.9 2197.1,1375.6 2197.8,1385.8 2198.6,1392.2 2199.3,1398.9 2200.0,1398.1 2200.7,1407.9 2201.5,1412.0 2202.2,1432.9 2202.9,1423.5 2203.6,1397.9 2204.4,1434.6 2205.1,1419.6 2205.8,1397.6 2206.5,1399.5 2207.3,1413.6 2208.0,1413.5 2208.7,1416.4 2209.4,1389.4 2210.2,1405.8 2210.9,1439.2 2211.6,1386.4 2212.3,1392.7 2213.1,1413.1 2213.8,1418.4 2214.5,1408.2 2215.2,1419.2 2216.0,1416.4 2216.7,1406.9 2217.4,1417.8 2218.1,1414.6 2218.9,1424.4 2219.6,1430.5 2220.3,1411.9 2221.0,1423.1 2221.8,1411.3 2222.5,1420.5 2223.2,1427.1 2223.9,1441.3 2224.7,1418.3 2225.4,1438.7 2226.1,1431.5 2226.8,1430.8 2227.6,1431.6 2228.3,1426.7 2229.0,1438.3 2229.7,1405.7 2230.5,1439.1 2231.2,1426.8 2231.9,1453.0 2232.6,1429.2 2233.4,1441.1 2234.1,1447.9 2234.8,1456.6 2235.5,1461.7 2236.3,1463.6 2237.0,1441.5 2237.7,1437.4 2238.4,1460.6 2239.2,1447.5 2239.9,1440.4 2240.6,1441.7 2241.3,1452.1 2242.1,1451.3 2242.8,1396.3 2243.5,1431.1 2244.2,1433.8 2245.0,1427.7 2245.7,1464.8 2246.4,1457.3 2247.1,1442.2 2247.9,1463.7 2248.6,1444.3 2249.3,1466.6 2250.0,1459.8 2250.8,1452.5 2251.5,1455.0 2252.2,1441.0 2252.9,1459.6 2253.7,1440.8 2254.4,1452.5 2255.1,1437.2 2255.8,1439.6 2256.6,1452.7 2257.3,1455.3 2258.0,1470.7 2258.7,1454.9 2259.5,1462.0 2260.2,1467.5 2260.9,1481.7 2261.6,1460.0 2262.4,1445.0 2263.1,1430.6 2263.8,1453.6 2264.5,1458.7 2265.3,1444.2 2266.0,1443.6 2266.7,1445.3 2267.4,1454.9 2268.2,1461.3 2268.9,1446.2 2269.6,1445.2 2270.3,1469.5 2271.1,1476.8 2271.8,1465.8 2272.5,1455.7 2273.2,1452.6 2274.0,1472.7 2274.7,1447.6 2275.4,1450.2 2276.1,1478.4 2276.9,1454.1 2277.6,1462.1 2278.3,1492.6 2279.0,1465.7 2279.8,1484.5 2280.5,1466.5 2281.2,1457.4 2281.9,1473.4 2282.7,1468.8 2283.4,1480.1 2284.1,1457.3 2284.8,1478.6 2285.6,1475.6 2286.3,1481.1 2287.0,1475.0 2287.7,1461.5 2288.5,1484.9 2289.2,1480.0 2289.9,1486.2 2290.6,1476.1 2291.4,1475.3 2292.1,1462.9 2292.8,1450.3 2293.5,1452.8 2294.3,1468.3 2295.0,1447.7 2295.7,1464.8 2296.4,1479.8 2297.2,1460.2 2297.9,1488.0 2298.6,1450.0 2299.3,1474.1 2300.1,1447.8 2300.8,1472.9 2301.5,1488.3 2302.2,1469.9 2303.0,1462.0 2303.7,1464.4 2304.4,1483.3 2305.1,1485.1 2305.9,1479.6 2306.6,1469.4 2307.3,1462.7 2308.0,1465.1 2308.8,1463.4 2309.5,1458.6 2310.2,1487.1 2310.9,1498.8 2311.7,1491.6 2312.4,1495.8 2313.1,1470.9 2313.8,1457.8 2314.6,1478.2 2315.3,1473.4 2316.0,1465.5 2316.7,1484.3 2317.5,1473.8 2318.2,1485.2 2318.9,1482.5 2319.6,1470.0 2320.4,1478.7 2321.1,1473.8 2321.8,1482.9 2322.5,1479.3 2323.3,1470.7 2324.0,1486.9 2324.7,1478.7 2325.4,1477.0 2326.2,1481.6 2326.9,1502.2 2327.6,1483.7 2328.3,1477.9 2329.1,1473.9 2329.8,1464.4 2330.5,1480.3 2331.2,1482.1 2332.0,1476.1 2332.7,1487.9 2333.4,1483.1 2334.1,1484.1 2334.9,1473.5 2335.6,1490.1 2336.3,1480.4 2337.0,1468.5 2337.8,1475.3 2338.5,1487.9 2339.2,1474.0 2339.9,1495.6 2340.7,1480.7 2341.4,1468.0 2342.1,1493.8 2342.8,1476.9 2343.6,1485.9 2344.3,1483.1 2345.0,1494.4 2345.7,1483.1 2346.5,1491.4 2347.2,1473.8 2347.9,1482.7 2348.6,1475.6 2349.4,1481.1 2350.1,1502.7 2350.8,1473.7 2351.5,1486.0 2352.3,1479.3 2353.0,1487.2 2353.7,1474.1 2354.4,1475.8 2355.2,1462.7 2355.9,1490.9 2356.6,1478.3 2357.3,1479.7 2358.1,1463.5 2358.8,1490.5 2359.5,1485.6 2360.2,1466.5 2361.0,1475.8 2361.7,1470.3 2362.4,1482.5 2363.1,1451.7 2363.9,1475.3 2364.6,1475.7 2365.3,1481.3 2366.0,1462.4 2366.8,1465.1 2367.5,1462.4 2368.2,1483.3 2368.9,1479.7 2369.7,1487.8 2370.4,1491.9 2371.1,1490.6 2371.8,1469.7 2372.6,1480.0 2373.3,1495.8 2374.0,1486.5 2374.7,1473.6 2375.5,1474.6 2376.2,1478.2 2376.9,1479.7 2377.6,1483.0 2378.4,1481.9 2379.1,1486.5 2379.8,1492.8 2380.5,1489.3 2381.3,1473.4 2382.0,1504.1 2382.7,1480.3 2383.4,1477.3 2384.2,1494.5 2384.9,1496.9 2385.6,1487.5 2386.3,1495.4 2387.1,1481.1 2387.8,1482.2 2388.5,1474.1 2389.2,1496.7 2390.0,1490.1 2390.7,1505.9 2391.4,1487.7 2392.1,1502.7 2392.9,1493.0 2393.6,1508.3 2394.3,1491.2 2395.0,1504.0 2395.8,1479.4 2396.5,1484.9 2397.2,1484.0 2397.9,1500.1 2398.7,1470.0 2399.4,1479.7 2400.1,1493.7 2400.8,1491.4 2401.6,1491.9 2402.3,1497.0 2403.0,1490.0 2403.7,1499.8 2404.5,1505.6 2405.2,1483.0 2405.9,1503.5 2406.6,1477.8 2407.4,1477.1 2408.1,1489.3 2408.8,1489.2 2409.5,1492.9 2410.3,1478.2 2411.0,1487.0 2411.7,1480.3 2412.4,1502.1 2413.2,1483.3 2413.9,1476.0 2414.6,1471.8 2415.3,1482.5 2416.1,1502.7 2416.8,1467.8 2417.5,1478.8 2418.2,1506.0 2419.0,1495.4 2419.7,1482.6 2420.4,1482.2 2421.1,1474.4 2421.9,1471.7 2422.6,1476.2 2423.3,1483.2 2424.0,1481.0 2424.8,1462.6 2425.5,1475.3" fill="none" stroke="#FF3D40" stroke-width="3.6" stroke-linejoin="miter" stroke-miterlimit="2"/>
<polyline points="250.5,1170.6 251.2,1056.9 251.9,1159.1 252.7,1145.3 253.4,1166.0 254.1,1151.0 254.8,1174.9 255.6,1146.0 256.3,1137.4 257.0,1155.5 257.7,1153.4 258.5,1141.1 259.2,1143.9 259.9,1160.8 260.6,1161.2 261.4,1141.4 262.1,1142.3 262.8,1117.1 263.5,1171.9 264.3,1139.3 265.0,1164.0 265.7,1149.9 266.4,1176.9 267.2,1173.6 267.9,1157.3 268.6,1179.3 269.3,1142.2 270.1,1179.6 270.8,1136.1 271.5,1166.4 272.2,1178.3 273.0,1164.3 273.7,1153.6 274.4,1144.6 275.1,1149.7 275.9,1169.7 276.6,1164.5 277.3,1143.3 278.0,1124.7 278.8,1153.1 279.5,1115.9 280.2,1127.9 280.9,1122.0 281.7,1144.3 282.4,1135.9 283.1,1141.0 283.8,1140.8 284.6,1128.4 285.3,1150.2 286.0,1165.1 286.7,1141.1 287.5,1150.4 288.2,1136.4 288.9,1165.1 289.6,1146.1 290.4,1148.4 291.1,1139.5 291.8,1160.7 292.5,1129.7 293.3,1131.9 294.0,1129.5 294.7,1150.1 295.4,1130.7 296.2,1130.4 296.9,1152.6 297.6,1159.8 298.3,1150.5 299.1,1097.7 299.8,1124.4 300.5,1108.4 301.2,1116.1 302.0,1127.2 302.7,1162.1 303.4,1128.1 304.1,1122.3 304.9,1146.8 305.6,1138.4 306.3,1141.1 307.0,1130.2 307.8,1143.4 308.5,1152.4 309.2,1116.1 309.9,1121.0 310.7,1163.2 311.4,1166.7 312.1,1133.2 312.8,1122.8 313.6,1134.6 314.3,1117.8 315.0,1131.7 315.7,1164.6 316.5,1141.5 317.2,1159.0 317.9,1137.1 318.6,1146.2 319.4,1161.6 320.1,1117.0 320.8,1128.3 321.5,1135.2 322.3,1145.9 323.0,1163.8 323.7,1158.1 324.4,1115.4 325.2,1134.4 325.9,1113.6 326.6,1122.3 327.3,1168.6 328.1,1119.0 328.8,1139.7 329.5,1124.6 330.2,1149.9 331.0,1141.9 331.7,1138.3 332.4,1135.1 333.1,1167.4 333.9,1122.7 334.6,1127.5 335.3,1123.3 336.0,1164.2 336.8,1139.6 337.5,1128.5 338.2,1138.6 338.9,1185.2 339.7,1144.2 340.4,1160.6 341.1,1156.3 341.8,1150.7 342.6,1141.2 343.3,1146.9 344.0,1144.5 344.7,1111.3 345.5,1211.7 346.2,1152.1 346.9,1136.3 347.6,1129.8 348.4,1111.8 349.1,1149.4 349.8,1133.3 350.5,1146.5 351.3,1119.8 352.0,1154.9 352.7,1178.8 353.4,1144.1 354.2,1162.2 354.9,1150.5 355.6,1167.7 356.3,1167.0 357.1,1150.8 357.8,1140.6 358.5,1153.6 359.2,1149.8 360.0,1138.2 360.7,1154.4 361.4,1152.8 362.1,1130.6 362.9,1142.1 363.6,1189.8 364.3,1156.3 365.0,1145.2 365.8,1212.0 366.5,1132.4 367.2,1105.8 367.9,1114.9 368.7,1120.8 369.4,1148.7 370.1,1159.8 370.8,1109.9 371.6,1162.7 372.3,1126.0 373.0,1150.4 373.7,1154.4 374.5,1154.4 375.2,1148.0 375.9,1150.8 376.6,1129.8 377.4,1152.1 378.1,1162.9 378.8,1161.6 379.5,1188.1 380.3,1163.7 381.0,1158.4 381.7,1173.9 382.4,1151.9 383.2,1127.7 383.9,1112.3 384.6,1167.5 385.3,1155.1 386.1,1158.8 386.8,1139.9 387.5,1151.4 388.2,1177.1 389.0,1153.5 389.7,1131.0 390.4,1141.7 391.1,1170.1 391.9,1129.8 392.6,1105.2 393.3,1109.0 394.0,1123.2 394.8,1156.2 395.5,1143.9 396.2,1130.2 396.9,1122.7 397.7,1143.3 398.4,1144.7 399.1,1140.0 399.8,1146.0 400.6,1137.7 401.3,1178.2 402.0,1111.1 402.7,1150.8 403.5,1132.8 404.2,1160.3 404.9,1144.4 405.6,1152.3 406.4,1152.4 407.1,1144.0 407.8,1153.4 408.5,1112.3 409.3,1147.8 410.0,1127.9 410.7,1137.3 411.4,1174.5 412.2,1164.0 412.9,1166.6 413.6,1099.2 414.3,1119.6 415.1,1148.9 415.8,1113.0 416.5,1126.3 417.2,1155.5 418.0,1141.3 418.7,1111.1 419.4,1133.1 420.1,1141.9 420.9,1123.0 421.6,1117.9 422.3,1120.0 423.0,1075.6 423.8,1119.0 424.5,1101.9 425.2,1125.0 425.9,1131.6 426.7,1106.8 427.4,1133.0 428.1,1130.4 428.8,1125.0 429.6,1137.8 430.3,1120.8 431.0,1121.0 431.7,1126.6 432.5,1124.2 433.2,1143.8 433.9,1086.9 434.6,1121.2 435.4,1094.8 436.1,1120.9 436.8,1135.3 437.5,1132.9 438.3,1149.5 439.0,1138.7 439.7,1087.6 440.4,1112.3 441.2,1154.0 441.9,1152.5 442.6,1127.7 443.3,1100.7 444.1,1162.5 444.8,1093.7 445.5,1133.9 446.2,1128.4 447.0,1133.1 447.7,1109.4 448.4,1121.5 449.1,1156.5 449.9,1118.7 450.6,1104.0 451.3,1127.2 452.0,1130.3 452.8,1128.1 453.5,1118.5 454.2,1141.0 454.9,1130.0 455.7,1112.3 456.4,1134.7 457.1,1129.7 457.8,1131.8 458.6,1100.7 459.3,1116.2 460.0,1137.3 460.7,1156.2 461.5,1138.1 462.2,1136.0 462.9,1146.0 463.6,1160.9 464.4,1182.5 465.1,1140.1 465.8,1121.0 466.5,1135.7 467.3,1092.2 468.0,1122.8 468.7,1112.6 469.4,1119.0 470.2,1128.0 470.9,1121.5 471.6,1097.1 472.3,1115.1 473.1,1106.5 473.8,1117.5 474.5,1121.8 475.2,1098.4 476.0,1126.6 476.7,1136.9 477.4,1112.0 478.1,1129.8 478.9,1093.6 479.6,1109.7 480.3,1134.8 481.0,1089.2 481.8,1110.0 482.5,1103.3 483.2,1137.4 483.9,1137.5 484.7,1108.7 485.4,1122.4 486.1,1077.9 486.8,1136.8 487.6,1132.8 488.3,1144.7 489.0,1081.7 489.7,1126.8 490.5,1114.6 491.2,1076.9 491.9,1109.7 492.6,1120.7 493.4,1136.0 494.1,1128.3 494.8,1113.9 495.5,1129.6 496.3,1119.7 497.0,1110.0 497.7,1103.3 498.4,1122.5 499.2,1121.9 499.9,1149.4 500.6,1110.0 501.3,1144.1 502.1,1123.4 502.8,1138.6 503.5,1105.5 504.2,1108.5 505.0,1120.5 505.7,1143.2 506.4,1133.4 507.1,1154.1 507.9,1139.6 508.6,1164.5 509.3,1138.1 510.0,1124.6 510.8,1140.2 511.5,1131.0 512.2,1157.2 512.9,1123.6 513.7,1127.3 514.4,1120.1 515.1,1145.4 515.8,1152.5 516.6,1140.2 517.3,1109.9 518.0,1106.3 518.7,1136.2 519.5,1142.8 520.2,1154.2 520.9,1098.0 521.6,1125.2 522.4,1100.4 523.1,1114.5 523.8,1129.1 524.5,1150.9 525.3,1127.1 526.0,1124.2 526.7,1130.5 527.4,1156.5 528.2,1204.2 528.9,1111.1 529.6,1133.7 530.3,1132.7 531.1,1160.4 531.8,1148.9 532.5,1167.6 533.2,1125.6 534.0,1142.5 534.7,1134.6 535.4,1123.9 536.1,1139.2 536.9,1122.2 537.6,1177.0 538.3,1147.6 539.0,1123.1 539.8,1128.7 540.5,1165.7 541.2,1129.0 541.9,1147.9 542.7,1152.8 543.4,1154.7 544.1,1147.5 544.8,1133.8 545.6,1127.3 546.3,1107.6 547.0,1135.0 547.7,1138.0 548.5,1131.1 549.2,1137.1 549.9,1123.9 550.6,1183.2 551.4,1144.6 552.1,1139.4 552.8,1148.4 553.5,1156.0 554.3,1170.3 555.0,1118.2 555.7,1163.1 556.4,1135.5 557.2,1147.0 557.9,1165.0 558.6,1161.5 559.3,1140.2 560.1,1152.0 560.8,1185.4 561.5,1178.5 562.2,1170.8 563.0,1156.4 563.7,1170.3 564.4,1160.5 565.1,1139.6 565.9,1129.0 566.6,1166.6 567.3,1167.0 568.0,1181.8 568.8,1155.8 569.5,1184.9 570.2,1155.5 570.9,1192.7 571.7,1165.5 572.4,1146.0 573.1,1139.2 573.8,1152.0 574.6,1150.4 575.3,1170.5 576.0,1146.3 576.7,1135.1 577.5,1158.2 578.2,1188.0 578.9,1182.7 579.6,1146.8 580.4,1152.3 581.1,1162.9 581.8,1150.5 582.5,1161.0 583.3,1164.6 584.0,1155.8 584.7,1164.4 585.4,1167.1 586.2,1178.0 586.9,1155.1 587.6,1173.1 588.3,1153.4 589.1,1152.5 589.8,1144.3 590.5,1221.2 591.2,1178.4 592.0,1195.7 592.7,1175.4 593.4,1162.0 594.1,1169.6 594.9,1173.7 595.6,1176.9 596.3,1179.3 597.0,1193.5 597.8,1125.0 598.5,1162.0 599.2,1181.3 599.9,1166.0 600.7,1169.5 601.4,1195.1 602.1,1176.1 602.8,1201.3 603.6,1174.3 604.3,1178.9 605.0,1158.6 605.7,1143.5 606.5,1165.8 607.2,1172.2 607.9,1164.3 608.6,1148.8 609.4,1180.0 610.1,1172.5 610.8,1173.0 611.5,1161.9 612.3,1198.6 613.0,1195.6 613.7,1177.7 614.4,1171.6 615.2,1178.1 615.9,1201.1 616.6,1218.6 617.3,1176.4 618.1,1169.4 618.8,1147.7 619.5,1216.6 620.2,1156.9 621.0,1195.3 621.7,1179.7 622.4,1191.4 623.1,1157.5 623.9,1145.8 624.6,1173.0 625.3,1178.3 626.0,1191.2 626.8,1150.1 627.5,1169.5 628.2,1172.3 628.9,1155.3 629.7,1172.6 630.4,1186.8 631.1,1174.1 631.8,1137.5 632.6,1178.6 633.3,1194.3 634.0,1179.7 634.7,1183.5 635.5,1147.8 636.2,1181.2 636.9,1191.6 637.6,1172.1 638.4,1176.6 639.1,1165.2 639.8,1193.0 640.5,1167.2 641.3,1155.0 642.0,1170.1 642.7,1168.6 643.4,1177.9 644.2,1157.4 644.9,1162.1 645.6,1179.5 646.3,1207.2 647.1,1179.3 647.8,1149.5 648.5,1169.6 649.2,1145.4 650.0,1136.6 650.7,1154.1 651.4,1156.5 652.1,1172.5 652.9,1187.5 653.6,1186.7 654.3,1183.7 655.0,1166.5 655.8,1175.3 656.5,1171.0 657.2,1204.9 657.9,1157.3 658.7,1157.2 659.4,1187.1 660.1,1174.4 660.8,1161.3 661.6,1173.2 662.3,1175.9 663.0,1178.9 663.7,1197.6 664.5,1183.0 665.2,1174.4 665.9,1163.9 666.6,1151.0 667.4,1170.5 668.1,1194.2 668.8,1180.4 669.5,1166.2 670.3,1170.2 671.0,1159.1 671.7,1174.2 672.4,1198.3 673.2,1194.9 673.9,1186.3 674.6,1181.5 675.3,1168.8 676.1,1156.4 676.8,1177.1 677.5,1171.8 678.2,1191.3 679.0,1181.6 679.7,1170.7 680.4,1185.8 681.1,1222.1 681.9,1166.1 682.6,1196.1 683.3,1188.4 684.0,1177.7 684.8,1169.4 685.5,1181.1 686.2,1183.9 686.9,1191.4 687.7,1189.6 688.4,1187.0 689.1,1169.1 689.8,1184.4 690.6,1174.3 691.3,1166.6 692.0,1194.9 692.7,1164.8 693.5,1150.8 694.2,1181.9 694.9,1151.7 695.6,1179.6 696.4,1188.0 697.1,1176.0 697.8,1185.6 698.5,1212.9 699.3,1201.2 700.0,1192.6 700.7,1185.9 701.4,1168.1 702.2,1172.6 702.9,1167.6 703.6,1175.7 704.3,1178.1 705.1,1165.6 705.8,1201.2 706.5,1162.6 707.2,1182.7 708.0,1192.0 708.7,1176.1 709.4,1166.4 710.1,1176.4 710.9,1224.1 711.6,1185.6 712.3,1173.0 713.0,1186.9 713.8,1176.9 714.5,1154.2 715.2,1189.5 715.9,1200.1 716.7,1202.4 717.4,1184.2 718.1,1163.5 718.8,1200.4 719.6,1179.6 720.3,1192.4 721.0,1198.7 721.7,1188.2 722.5,1183.5 723.2,1175.8 723.9,1178.5 724.6,1184.5 725.4,1171.0 726.1,1186.2 726.8,1150.1 727.5,1162.0 728.3,1174.7 729.0,1164.0 729.7,1166.4 730.4,1158.6 731.2,1186.9 731.9,1202.8 732.6,1165.2 733.3,1197.8 734.1,1159.5 734.8,1182.6 735.5,1150.2 736.2,1185.9 737.0,1177.9 737.7,1180.0 738.4,1193.8 739.1,1183.9 739.9,1174.4 740.6,1162.8 741.3,1176.4 742.0,1166.5 742.8,1171.5 743.5,1200.1 744.2,1190.8 744.9,1180.5 745.7,1183.2 746.4,1149.9 747.1,1171.2 747.8,1126.2 748.6,1160.7 749.3,1178.4 750.0,1180.8 750.7,1186.8 751.5,1178.8 752.2,1176.4 752.9,1174.0 753.6,1192.9 754.4,1188.9 755.1,1145.1 755.8,1166.9 756.5,1182.9 757.3,1158.7 758.0,1165.3 758.7,1152.4 759.4,1142.7 760.2,1162.4 760.9,1148.4 761.6,1156.4 762.3,1135.5 763.1,1124.9 763.8,1152.1 764.5,1145.9 765.2,1160.3 766.0,1123.3 766.7,1163.4 767.4,1162.3 768.1,1156.0 768.9,1165.2 769.6,1154.0 770.3,1151.6 771.0,1152.8 771.8,1132.0 772.5,1149.3 773.2,1161.1 773.9,1123.3 774.7,1165.0 775.4,1139.6 776.1,1139.6 776.8,1153.5 777.6,1156.9 778.3,1174.5 779.0,1150.3 779.7,1178.3 780.5,1150.7 781.2,1156.3 781.9,1157.9 782.6,1135.3 783.4,1112.5 784.1,1144.0 784.8,1151.1 785.5,1151.1 786.3,1129.2 787.0,1160.9 787.7,1130.4 788.4,1122.6 789.2,1154.3 789.9,1158.7 790.6,1127.7 791.3,1159.0 792.1,1127.9 792.8,1150.0 793.5,1186.7 794.2,1185.8 795.0,1162.8 795.7,1162.2 796.4,1129.2 797.1,1156.5 797.9,1157.2 798.6,1132.0 799.3,1150.7 800.0,1155.7 800.8,1150.4 801.5,1154.3 802.2,1144.1 802.9,1129.7 803.7,1147.8 804.4,1114.9 805.1,1132.6 805.8,1159.7 806.6,1169.1 807.3,1145.6 808.0,1099.7 808.7,1161.3 809.5,1155.8 810.2,1136.9 810.9,1150.5 811.6,1150.9 812.4,1111.9 813.1,1106.5 813.8,1142.0 814.5,1086.3 815.3,1134.2 816.0,1135.4 816.7,1143.7 817.4,1157.1 818.2,1166.3 818.9,1152.9 819.6,1139.9 820.3,1134.7 821.1,1144.8 821.8,1128.2 822.5,1114.3 823.2,1128.3 824.0,1102.8 824.7,1119.5 825.4,1162.1 826.1,1135.9 826.9,1123.6 827.6,1115.4 828.3,1094.5 829.0,1113.8 829.8,1109.4 830.5,1123.2 831.2,1126.5 831.9,1126.2 832.7,1097.4 833.4,1154.6 834.1,1138.4 834.8,1130.9 835.6,1124.4 836.3,1141.3 837.0,1162.4 837.7,1135.7 838.5,1106.0 839.2,1104.9 839.9,1087.5 840.6,1129.9 841.4,1140.6 842.1,1149.2 842.8,1130.7 843.5,1140.9 844.3,1111.3 845.0,1134.6 845.7,1124.1 846.4,1115.3 847.2,1097.9 847.9,1142.8 848.6,1083.9 849.3,1128.8 850.1,1103.8 850.8,1134.4 851.5,1110.2 852.2,1134.8 853.0,1120.3 853.7,1113.5 854.4,1125.6 855.1,1110.0 855.9,1141.6 856.6,1153.8 857.3,1143.0 858.0,1137.4 858.8,1156.2 859.5,1116.2 860.2,1143.7 860.9,1134.9 861.7,1128.2 862.4,1146.7 863.1,1122.5 863.8,1141.8 864.6,1155.8 865.3,1130.2 866.0,1146.7 866.7,1160.3 867.5,1168.5 868.2,1139.8 868.9,1170.2 869.6,1151.9 870.4,1157.9 871.1,1147.0 871.8,1175.4 872.5,1141.9 873.3,1155.9 874.0,1155.6 874.7,1159.7 875.4,1130.0 876.2,1157.2 876.9,1144.5 877.6,1166.0 878.3,1137.4 879.1,1133.9 879.8,1142.4 880.5,1139.2 881.2,1142.1 882.0,1111.3 882.7,1089.6 883.4,1122.1 884.1,1136.2 884.9,1153.0 885.6,1142.2 886.3,1132.4 887.0,1144.8 887.8,1148.2 888.5,1190.4 889.2,1168.1 889.9,1152.0 890.7,1127.4 891.4,1147.9 892.1,1146.8 892.8,1161.0 893.6,1185.8 894.3,1152.2 895.0,1100.7 895.7,1148.8 896.5,1122.7 897.2,1159.8 897.9,1163.4 898.6,1152.5 899.4,1126.5 900.1,1146.8 900.8,1172.2 901.5,1140.2 902.3,1148.1 903.0,1162.0 903.7,1166.1 904.4,1159.6 905.2,1163.2 905.9,1160.8 906.6,1148.7 907.3,1155.8 908.1,1163.6 908.8,1144.8 909.5,1167.0 910.2,1168.1 911.0,1175.0 911.7,1173.1 912.4,1139.2 913.1,1144.7 913.9,1165.4 914.6,1158.6 915.3,1163.0 916.0,1154.6 916.8,1145.6 917.5,1169.9 918.2,1164.1 918.9,1175.0 919.7,1193.3 920.4,1181.6 921.1,1179.9 921.8,1140.5 922.6,1133.3 923.3,1155.8 924.0,1147.9 924.7,1148.0 925.5,1179.6 926.2,1131.0 926.9,1186.7 927.6,1201.1 928.4,1212.8 929.1,1188.5 929.8,1204.4 930.5,1164.6 931.3,1165.1 932.0,1190.5 932.7,1156.9 933.4,1193.0 934.2,1171.6 934.9,1146.4 935.6,1202.8 936.3,1159.4 937.1,1213.1 937.8,1155.0 938.5,1164.6 939.2,1180.5 940.0,1177.6 940.7,1154.0 941.4,1179.2 942.1,1178.8 942.9,1182.6 943.6,1152.7 944.3,1168.2 945.0,1176.6 945.8,1191.2 946.5,1183.0 947.2,1176.5 947.9,1176.1 948.7,1203.8 949.4,1170.7 950.1,1186.7 950.8,1150.9 951.6,1207.7 952.3,1190.6 953.0,1159.4 953.7,1194.0 954.5,1218.9 955.2,1195.7 955.9,1184.0 956.6,1194.7 957.4,1164.5 958.1,1179.9 958.8,1179.4 959.5,1186.4 960.3,1171.0 961.0,1206.2 961.7,1184.6 962.4,1170.3 963.2,1181.2 963.9,1187.7 964.6,1181.4 965.3,1195.4 966.1,1174.5 966.8,1169.2 967.5,1187.9 968.2,1199.2 969.0,1167.1 969.7,1157.5 970.4,1169.7 971.1,1176.6 971.9,1162.3 972.6,1178.5 973.3,1163.9 974.0,1188.7 974.8,1160.2 975.5,1165.2 976.2,1181.2 976.9,1190.8 977.7,1195.7 978.4,1167.0 979.1,1183.1 979.8,1189.3 980.6,1200.7 981.3,1168.7 982.0,1165.1 982.7,1190.9 983.5,1183.1 984.2,1207.2 984.9,1190.7 985.6,1195.9 986.4,1181.1 987.1,1195.5 987.8,1207.7 988.5,1187.0 989.3,1173.9 990.0,1202.5 990.7,1186.8 991.4,1192.7 992.2,1183.1 992.9,1206.1 993.6,1183.1 994.3,1186.6 995.1,1193.3 995.8,1191.0 996.5,1163.8 997.2,1201.2 998.0,1178.9 998.7,1200.3 999.4,1189.0 1000.1,1192.8 1000.9,1184.7 1001.6,1180.2 1002.3,1196.1 1003.0,1196.0 1003.8,1205.7 1004.5,1198.0 1005.2,1180.2 1005.9,1205.4 1006.7,1219.7 1007.4,1199.8 1008.1,1185.7 1008.8,1177.2 1009.6,1191.1 1010.3,1169.4 1011.0,1199.3 1011.7,1183.1 1012.5,1181.1 1013.2,1193.9 1013.9,1175.3 1014.6,1171.0 1015.4,1187.1 1016.1,1216.3 1016.8,1179.9 1017.5,1210.7 1018.3,1170.8 1019.0,1192.4 1019.7,1203.1 1020.4,1215.7 1021.2,1167.6 1021.9,1191.6 1022.6,1173.3 1023.3,1200.2 1024.1,1189.1 1024.8,1198.8 1025.5,1187.5 1026.2,1190.9 1027.0,1204.7 1027.7,1220.1 1028.4,1201.9 1029.1,1200.1 1029.9,1183.8 1030.6,1214.1 1031.3,1162.9 1032.0,1161.0 1032.8,1178.0 1033.5,1195.9 1034.2,1204.4 1034.9,1200.5 1035.7,1204.2 1036.4,1198.0 1037.1,1188.3 1037.8,1180.0 1038.6,1200.7 1039.3,1180.8 1040.0,1203.4 1040.7,1204.0 1041.5,1185.3 1042.2,1188.3 1042.9,1187.7 1043.6,1205.5 1044.4,1198.2 1045.1,1185.9 1045.8,1197.5 1046.5,1212.9 1047.3,1193.8 1048.0,1190.3 1048.7,1182.4 1049.4,1174.9 1050.2,1188.1 1050.9,1188.9 1051.6,1183.3 1052.3,1203.4 1053.1,1182.3 1053.8,1179.8 1054.5,1184.9 1055.2,1187.9 1056.0,1153.7 1056.7,1181.8 1057.4,1195.5 1058.1,1162.3 1058.9,1184.2 1059.6,1172.3 1060.3,1166.1 1061.0,1184.4 1061.8,1179.8 1062.5,1152.8 1063.2,1175.5 1063.9,1196.9 1064.7,1178.1 1065.4,1176.0 1066.1,1180.9 1066.8,1179.4 1067.6,1196.3 1068.3,1174.1 1069.0,1170.3 1069.7,1193.9 1070.5,1203.2 1071.2,1200.8 1071.9,1205.0 1072.6,1178.9 1073.4,1174.7 1074.1,1184.8 1074.8,1192.4 1075.5,1165.8 1076.3,1183.4 1077.0,1194.3 1077.7,1167.7 1078.4,1212.2 1079.2,1193.8 1079.9,1164.9 1080.6,1165.8 1081.3,1164.1 1082.1,1190.7 1082.8,1186.3 1083.5,1171.1 1084.2,1181.8 1085.0,1191.9 1085.7,1189.6 1086.4,1160.9 1087.1,1169.6 1087.9,1172.9 1088.6,1162.1 1089.3,1199.5 1090.0,1179.4 1090.8,1180.6 1091.5,1179.5 1092.2,1196.6 1092.9,1200.8 1093.7,1202.3 1094.4,1210.0 1095.1,1179.5 1095.8,1215.8 1096.6,1228.4 1097.3,1186.7 1098.0,1188.8 1098.7,1201.0 1099.5,1220.3 1100.2,1186.4 1100.9,1179.2 1101.6,1220.9 1102.4,1182.0 1103.1,1157.9 1103.8,1205.0 1104.5,1212.2 1105.3,1222.2 1106.0,1239.7 1106.7,1269.8 1107.4,1188.2 1108.2,1181.5 1108.9,1160.7 1109.6,1219.4 1110.3,1191.2 1111.1,1175.7 1111.8,1171.9 1112.5,1202.9 1113.2,1195.8 1114.0,1206.3 1114.7,1190.2 1115.4,1191.8 1116.1,1207.8 1116.9,1195.6 1117.6,1206.9 1118.3,1195.8 1119.0,1192.3 1119.8,1200.1 1120.5,1190.0 1121.2,1196.5 1121.9,1200.3 1122.7,1187.7 1123.4,1193.8 1124.1,1197.6 1124.8,1205.8 1125.6,1200.0 1126.3,1200.0 1127.0,1202.9 1127.7,1192.9 1128.5,1202.7 1129.2,1189.2 1129.9,1175.6 1130.6,1206.5 1131.4,1156.5 1132.1,1199.0 1132.8,1235.1 1133.5,1208.8 1134.3,1184.1 1135.0,1213.0 1135.7,1198.9 1136.4,1184.8 1137.2,1195.8 1137.9,1186.5 1138.6,1195.8 1139.3,1208.0 1140.1,1180.1 1140.8,1211.5 1141.5,1226.9 1142.2,1198.6 1143.0,1188.4 1143.7,1196.4 1144.4,1218.6 1145.1,1196.7 1145.9,1210.2 1146.6,1234.3 1147.3,1194.7 1148.0,1205.7 1148.8,1195.2 1149.5,1197.3 1150.2,1203.7 1150.9,1192.8 1151.7,1209.2 1152.4,1206.2 1153.1,1219.6 1153.8,1214.0 1154.6,1211.0 1155.3,1227.1 1156.0,1207.2 1156.7,1226.4 1157.5,1201.0 1158.2,1236.0 1158.9,1209.7 1159.6,1232.4 1160.4,1210.3 1161.1,1221.1 1161.8,1202.7 1162.5,1204.3 1163.3,1199.9 1164.0,1216.3 1164.7,1216.7 1165.4,1219.6 1166.2,1215.6 1166.9,1207.2 1167.6,1220.2 1168.3,1231.8 1169.1,1207.2 1169.8,1202.5 1170.5,1219.2 1171.2,1238.4 1172.0,1212.4 1172.7,1210.9 1173.4,1204.1 1174.1,1209.5 1174.9,1207.9 1175.6,1207.9 1176.3,1233.1 1177.0,1246.8 1177.8,1218.3 1178.5,1216.8 1179.2,1224.5 1179.9,1213.2 1180.7,1213.4 1181.4,1219.2 1182.1,1211.3 1182.8,1228.9 1183.6,1255.0 1184.3,1215.4 1185.0,1220.2 1185.7,1200.5 1186.5,1211.2 1187.2,1218.6 1187.9,1218.9 1188.6,1209.4 1189.4,1186.3 1190.1,1215.7 1190.8,1204.9 1191.5,1217.8 1192.3,1210.8 1193.0,1212.7 1193.7,1214.3 1194.4,1189.6 1195.2,1245.6 1195.9,1200.8 1196.6,1224.7 1197.3,1233.9 1198.1,1214.0 1198.8,1204.1 1199.5,1228.4 1200.2,1208.6 1201.0,1219.0 1201.7,1224.7 1202.4,1211.3 1203.1,1193.5 1203.9,1204.2 1204.6,1222.1 1205.3,1198.0 1206.0,1218.0 1206.8,1186.9 1207.5,1186.6 1208.2,1184.5 1208.9,1195.2 1209.7,1241.4 1210.4,1216.5 1211.1,1207.2 1211.8,1204.0 1212.6,1227.4 1213.3,1212.0 1214.0,1201.2 1214.7,1232.6 1215.5,1195.8 1216.2,1213.7 1216.9,1218.7 1217.6,1222.6 1218.4,1236.1 1219.1,1223.6 1219.8,1206.5 1220.5,1231.3 1221.3,1224.3 1222.0,1201.6 1222.7,1192.9 1223.4,1203.5 1224.2,1184.9 1224.9,1215.8 1225.6,1216.2 1226.3,1214.7 1227.1,1198.4 1227.8,1208.8 1228.5,1225.7 1229.2,1217.0 1230.0,1211.7 1230.7,1205.0 1231.4,1214.1 1232.1,1230.9 1232.9,1215.7 1233.6,1265.1 1234.3,1247.3 1235.0,1226.6 1235.8,1197.8 1236.5,1214.8 1237.2,1233.3 1237.9,1209.3 1238.7,1206.2 1239.4,1213.6 1240.1,1245.9 1240.8,1206.8 1241.6,1172.9 1242.3,1219.5 1243.0,1222.6 1243.7,1227.9 1244.5,1219.5 1245.2,1225.2 1245.9,1211.0 1246.6,1228.1 1247.4,1216.0 1248.1,1223.6 1248.8,1209.2 1249.5,1236.7 1250.3,1222.8 1251.0,1214.0 1251.7,1218.9 1252.4,1203.8 1253.2,1209.8 1253.9,1228.4 1254.6,1226.9 1255.3,1231.0 1256.1,1229.9 1256.8,1217.5 1257.5,1221.9 1258.2,1244.3 1259.0,1220.4 1259.7,1204.6 1260.4,1225.7 1261.1,1223.0 1261.9,1228.4 1262.6,1230.3 1263.3,1216.7 1264.0,1233.4 1264.8,1224.6 1265.5,1233.0 1266.2,1216.5 1266.9,1212.8 1267.7,1219.7 1268.4,1245.6 1269.1,1202.5 1269.8,1238.5 1270.6,1223.2 1271.3,1238.6 1272.0,1219.1 1272.7,1228.6 1273.5,1228.2 1274.2,1249.9 1274.9,1221.5 1275.6,1225.0 1276.4,1211.5 1277.1,1223.9 1277.8,1210.8 1278.5,1219.3 1279.3,1226.9 1280.0,1230.9 1280.7,1214.1 1281.4,1214.8 1282.2,1239.4 1282.9,1216.3 1283.6,1222.5 1284.3,1214.4 1285.1,1182.9 1285.8,1215.5 1286.5,1216.8 1287.2,1242.5 1288.0,1198.9 1288.7,1216.9 1289.4,1230.8 1290.1,1215.2 1290.9,1193.5 1291.6,1226.4 1292.3,1219.4 1293.0,1205.5 1293.8,1202.6 1294.5,1205.5 1295.2,1216.0 1295.9,1209.5 1296.7,1205.9 1297.4,1218.6 1298.1,1227.2 1298.8,1206.5 1299.6,1233.1 1300.3,1214.5 1301.0,1222.5 1301.7,1224.5 1302.5,1227.3 1303.2,1220.8 1303.9,1189.7 1304.6,1204.8 1305.4,1226.0 1306.1,1201.6 1306.8,1216.3 1307.5,1197.3 1308.3,1211.2 1309.0,1239.8 1309.7,1225.2 1310.4,1212.5 1311.2,1210.1 1311.9,1204.8 1312.6,1233.0 1313.3,1225.7 1314.1,1238.1 1314.8,1238.1 1315.5,1222.9 1316.2,1212.2 1317.0,1206.4 1317.7,1213.8 1318.4,1217.0 1319.1,1232.6 1319.9,1203.9 1320.6,1222.1 1321.3,1205.5 1322.0,1212.9 1322.8,1230.6 1323.5,1227.6 1324.2,1214.1 1324.9,1211.5 1325.7,1231.9 1326.4,1215.3 1327.1,1213.1 1327.8,1203.2 1328.6,1245.7 1329.3,1235.9 1330.0,1217.6 1330.7,1236.0 1331.5,1215.5 1332.2,1199.9 1332.9,1209.1 1333.6,1218.9 1334.4,1187.8 1335.1,1217.4 1335.8,1218.3 1336.5,1224.1 1337.3,1213.8 1338.0,1223.6 1338.7,1190.9 1339.4,1213.0 1340.2,1227.7 1340.9,1222.8 1341.6,1219.9 1342.3,1201.8 1343.1,1215.3 1343.8,1196.6 1344.5,1215.3 1345.2,1222.9 1346.0,1213.4 1346.7,1226.5 1347.4,1221.4 1348.1,1232.5 1348.9,1217.1 1349.6,1187.2 1350.3,1204.6 1351.0,1210.2 1351.8,1219.6 1352.5,1221.4 1353.2,1212.2 1353.9,1223.9 1354.7,1215.8 1355.4,1232.6 1356.1,1208.8 1356.8,1239.3 1357.6,1228.2 1358.3,1219.7 1359.0,1211.3 1359.7,1231.7 1360.5,1218.0 1361.2,1233.5 1361.9,1247.8 1362.6,1226.3 1363.4,1225.2 1364.1,1226.3 1364.8,1210.4 1365.5,1238.9 1366.3,1211.8 1367.0,1224.0 1367.7,1221.7 1368.4,1212.7 1369.2,1238.3 1369.9,1226.6 1370.6,1213.3 1371.3,1212.0 1372.1,1179.3 1372.8,1204.1 1373.5,1226.9 1374.2,1226.8 1375.0,1204.9 1375.7,1224.9 1376.4,1230.6 1377.1,1229.7 1377.9,1237.0 1378.6,1198.4 1379.3,1224.2 1380.0,1208.7 1380.8,1227.8 1381.5,1209.1 1382.2,1218.9 1382.9,1227.9 1383.7,1196.9 1384.4,1208.2 1385.1,1207.6 1385.8,1216.2 1386.6,1197.5 1387.3,1227.6 1388.0,1260.6 1388.7,1215.5 1389.5,1226.0 1390.2,1186.3 1390.9,1204.3 1391.6,1227.3 1392.4,1222.1 1393.1,1225.9 1393.8,1233.2 1394.5,1217.7 1395.3,1210.3 1396.0,1206.0 1396.7,1212.1 1397.4,1183.3 1398.2,1228.5 1398.9,1182.1 1399.6,1189.9 1400.3,1211.7 1401.1,1224.0 1401.8,1220.3 1402.5,1233.3 1403.2,1209.1 1404.0,1206.5 1404.7,1221.7 1405.4,1199.7 1406.1,1215.9 1406.9,1218.3 1407.6,1213.6 1408.3,1181.5 1409.0,1203.0 1409.8,1178.5 1410.5,1215.4 1411.2,1198.4 1411.9,1216.5 1412.7,1219.6 1413.4,1183.7 1414.1,1212.0 1414.8,1205.5 1415.6,1221.6 1416.3,1188.9 1417.0,1192.5 1417.7,1202.3 1418.5,1191.1 1419.2,1218.4 1419.9,1201.6 1420.6,1221.9 1421.4,1221.3 1422.1,1226.4 1422.8,1195.8 1423.5,1220.5 1424.3,1218.2 1425.0,1184.5 1425.7,1197.9 1426.4,1186.4 1427.2,1221.8 1427.9,1223.0 1428.6,1192.7 1429.3,1201.0 1430.1,1205.7 1430.8,1207.3 1431.5,1194.8 1432.2,1216.2 1433.0,1180.0 1433.7,1203.6 1434.4,1193.2 1435.1,1196.3 1435.9,1183.2 1436.6,1170.5 1437.3,1187.7 1438.0,1201.3 1438.8,1182.4 1439.5,1168.5 1440.2,1186.6 1440.9,1185.9 1441.7,1170.4 1442.4,1181.6 1443.1,1188.9 1443.8,1188.5 1444.6,1197.6 1445.3,1202.6 1446.0,1187.1 1446.7,1177.7 1447.5,1148.2 1448.2,1203.8 1448.9,1193.7 1449.6,1201.1 1450.4,1173.3 1451.1,1184.1 1451.8,1168.5 1452.5,1165.0 1453.3,1155.0 1454.0,1170.4 1454.7,1178.8 1455.4,1182.4 1456.2,1175.2 1456.9,1168.8 1457.6,1202.4 1458.3,1196.6 1459.1,1189.4 1459.8,1177.2 1460.5,1193.9 1461.2,1166.3 1462.0,1160.7 1462.7,1189.6 1463.4,1184.7 1464.1,1198.1 1464.9,1172.0 1465.6,1186.0 1466.3,1165.2 1467.0,1173.1 1467.8,1183.2 1468.5,1174.3 1469.2,1163.6 1469.9,1157.4 1470.7,1173.7 1471.4,1167.3 1472.1,1161.0 1472.8,1183.8 1473.6,1169.6 1474.3,1200.3 1475.0,1211.1 1475.7,1197.0 1476.5,1219.6 1477.2,1150.1 1477.9,1154.4 1478.6,1175.5 1479.4,1152.7 1480.1,1181.3 1480.8,1192.1 1481.5,1192.6 1482.3,1196.9 1483.0,1181.3 1483.7,1183.6 1484.4,1188.1 1485.2,1184.0 1485.9,1197.8 1486.6,1175.0 1487.3,1184.1 1488.1,1175.3 1488.8,1198.9 1489.5,1188.3 1490.2,1189.3 1491.0,1181.0 1491.7,1162.5 1492.4,1179.6 1493.1,1154.6 1493.9,1183.0 1494.6,1167.2 1495.3,1202.9 1496.0,1171.5 1496.8,1187.0 1497.5,1176.6 1498.2,1172.7 1498.9,1166.9 1499.7,1153.5 1500.4,1179.9 1501.1,1162.9 1501.8,1218.7 1502.6,1177.9 1503.3,1189.1 1504.0,1197.9 1504.7,1196.1 1505.5,1213.1 1506.2,1195.8 1506.9,1189.8 1507.6,1195.1 1508.4,1217.9 1509.1,1208.4 1509.8,1172.5 1510.5,1196.4 1511.3,1187.2 1512.0,1200.0 1512.7,1208.6 1513.4,1201.2 1514.2,1210.1 1514.9,1225.7 1515.6,1182.7 1516.3,1206.8 1517.1,1209.6 1517.8,1215.7 1518.5,1211.7 1519.2,1222.8 1520.0,1211.6 1520.7,1218.5 1521.4,1194.7 1522.1,1219.2 1522.9,1203.2 1523.6,1227.8 1524.3,1244.0 1525.0,1221.1 1525.8,1227.2 1526.5,1230.6 1527.2,1238.0 1527.9,1229.7 1528.7,1234.8 1529.4,1211.6 1530.1,1217.2 1530.8,1199.3 1531.6,1246.3 1532.3,1202.5 1533.0,1229.0 1533.7,1218.5 1534.5,1217.0 1535.2,1199.5 1535.9,1213.0 1536.6,1213.7 1537.4,1217.0 1538.1,1206.8 1538.8,1214.0 1539.5,1198.4 1540.3,1225.9 1541.0,1201.7 1541.7,1255.9 1542.4,1205.7 1543.2,1202.4 1543.9,1215.0 1544.6,1213.7 1545.3,1232.1 1546.1,1235.7 1546.8,1212.8 1547.5,1211.5 1548.2,1208.9 1549.0,1222.7 1549.7,1227.9 1550.4,1229.7 1551.1,1213.2 1551.9,1216.0 1552.6,1224.7 1553.3,1232.6 1554.0,1216.9 1554.8,1232.9 1555.5,1214.9 1556.2,1223.1 1556.9,1236.8 1557.7,1213.8 1558.4,1204.9 1559.1,1214.1 1559.8,1226.5 1560.6,1216.7 1561.3,1228.0 1562.0,1248.0 1562.7,1227.1 1563.5,1249.0 1564.2,1243.9 1564.9,1220.0 1565.6,1245.0 1566.4,1242.6 1567.1,1242.4 1567.8,1231.2 1568.5,1231.0 1569.3,1220.4 1570.0,1209.6 1570.7,1227.6 1571.4,1237.3 1572.2,1220.8 1572.9,1248.1 1573.6,1222.2 1574.3,1232.1 1575.1,1212.2 1575.8,1249.0 1576.5,1239.5 1577.2,1247.0 1578.0,1216.1 1578.7,1248.9 1579.4,1236.9 1580.1,1223.6 1580.9,1226.3 1581.6,1212.7 1582.3,1228.7 1583.0,1241.2 1583.8,1218.1 1584.5,1231.4 1585.2,1200.5 1585.9,1190.6 1586.7,1221.0 1587.4,1242.4 1588.1,1240.5 1588.8,1218.9 1589.6,1243.6 1590.3,1240.9 1591.0,1232.0 1591.7,1221.9 1592.5,1246.5 1593.2,1223.2 1593.9,1219.2 1594.6,1236.8 1595.4,1215.3 1596.1,1232.2 1596.8,1242.3 1597.5,1216.1 1598.3,1229.2 1599.0,1231.8 1599.7,1203.4 1600.4,1218.2 1601.2,1216.6 1601.9,1211.9 1602.6,1212.1 1603.3,1238.8 1604.1,1212.1 1604.8,1221.8 1605.5,1230.3 1606.2,1242.3 1607.0,1204.3 1607.7,1208.7 1608.4,1212.0 1609.1,1220.9 1609.9,1235.5 1610.6,1222.1 1611.3,1225.5 1612.0,1242.5 1612.8,1219.8 1613.5,1226.5 1614.2,1262.4 1614.9,1228.9 1615.7,1210.1 1616.4,1208.5 1617.1,1229.8 1617.8,1202.7 1618.6,1206.7 1619.3,1228.4 1620.0,1236.2 1620.7,1241.7 1621.5,1211.1 1622.2,1231.0 1622.9,1185.4 1623.6,1215.7 1624.4,1261.1 1625.1,1243.0 1625.8,1231.0 1626.5,1209.5 1627.3,1204.5 1628.0,1233.0 1628.7,1217.7 1629.4,1210.2 1630.2,1229.5 1630.9,1229.5 1631.6,1212.9 1632.3,1216.4 1633.1,1249.1 1633.8,1210.2 1634.5,1235.0 1635.2,1214.1 1636.0,1212.1 1636.7,1209.2 1637.4,1219.4 1638.1,1219.2 1638.9,1227.4 1639.6,1208.6 1640.3,1222.8 1641.0,1211.4 1641.8,1210.2 1642.5,1227.9 1643.2,1226.3 1643.9,1202.1 1644.7,1221.9 1645.4,1195.9 1646.1,1203.1 1646.8,1234.1 1647.6,1228.9 1648.3,1209.8 1649.0,1220.3 1649.7,1230.3 1650.5,1238.3 1651.2,1240.6 1651.9,1211.6 1652.6,1221.2 1653.4,1222.9 1654.1,1169.9 1654.8,1210.3 1655.5,1223.8 1656.3,1216.1 1657.0,1211.6 1657.7,1205.2 1658.4,1213.3 1659.2,1220.8 1659.9,1217.8 1660.6,1236.3 1661.3,1232.7 1662.1,1207.1 1662.8,1235.2 1663.5,1224.6 1664.2,1234.4 1665.0,1217.1 1665.7,1236.4 1666.4,1215.7 1667.1,1236.5 1667.9,1222.9 1668.6,1220.1 1669.3,1207.7 1670.0,1205.1 1670.8,1236.8 1671.5,1212.7 1672.2,1201.7 1672.9,1234.5 1673.7,1225.7 1674.4,1232.2 1675.1,1208.6 1675.8,1199.0 1676.6,1214.8 1677.3,1239.1 1678.0,1226.4 1678.7,1232.1 1679.5,1232.7 1680.2,1228.1 1680.9,1228.0 1681.6,1223.4 1682.4,1228.8 1683.1,1229.9 1683.8,1217.3 1684.5,1232.3 1685.3,1224.3 1686.0,1222.2 1686.7,1222.0 1687.4,1235.3 1688.2,1223.2 1688.9,1240.9 1689.6,1214.7 1690.3,1235.4 1691.1,1209.5 1691.8,1229.6 1692.5,1222.5 1693.2,1222.7 1694.0,1214.8 1694.7,1226.5 1695.4,1232.4 1696.1,1201.5 1696.9,1222.0 1697.6,1225.7 1698.3,1231.5 1699.0,1229.5 1699.8,1213.0 1700.5,1240.5 1701.2,1218.5 1701.9,1236.2 1702.7,1232.4 1703.4,1222.0 1704.1,1217.0 1704.8,1225.0 1705.6,1245.5 1706.3,1236.4 1707.0,1222.5 1707.7,1240.3 1708.5,1253.4 1709.2,1260.7 1709.9,1213.1 1710.6,1243.8 1711.4,1245.0 1712.1,1223.9 1712.8,1209.6 1713.5,1247.0 1714.3,1219.5 1715.0,1207.3 1715.7,1212.5 1716.4,1233.9 1717.2,1251.5 1717.9,1236.0 1718.6,1214.1 1719.3,1241.0 1720.1,1201.5 1720.8,1236.4 1721.5,1233.9 1722.2,1242.6 1723.0,1230.2 1723.7,1230.5 1724.4,1217.1 1725.1,1212.3 1725.9,1218.5 1726.6,1244.1 1727.3,1214.4 1728.0,1221.1 1728.8,1216.2 1729.5,1229.6 1730.2,1230.4 1730.9,1244.2 1731.7,1264.2 1732.4,1231.5 1733.1,1228.7 1733.8,1215.3 1734.6,1199.5 1735.3,1220.2 1736.0,1218.4 1736.7,1203.6 1737.5,1220.9 1738.2,1231.6 1738.9,1210.0 1739.6,1234.2 1740.4,1230.0 1741.1,1219.0 1741.8,1227.6 1742.5,1235.5 1743.3,1223.3 1744.0,1224.0 1744.7,1240.3 1745.4,1229.6 1746.2,1228.2 1746.9,1214.0 1747.6,1228.2 1748.3,1237.5 1749.1,1206.0 1749.8,1196.4 1750.5,1206.5 1751.2,1214.7 1752.0,1203.8 1752.7,1195.5 1753.4,1238.1 1754.1,1212.2 1754.9,1207.2 1755.6,1181.0 1756.3,1228.6 1757.0,1197.1 1757.8,1232.8 1758.5,1222.5 1759.2,1217.4 1759.9,1211.7 1760.7,1227.2 1761.4,1209.3 1762.1,1223.2 1762.8,1214.0 1763.6,1217.6 1764.3,1242.0 1765.0,1235.8 1765.7,1208.7 1766.5,1208.6 1767.2,1219.4 1767.9,1217.4 1768.6,1226.1 1769.4,1215.9 1770.1,1207.7 1770.8,1230.8 1771.5,1213.8 1772.3,1224.8 1773.0,1201.9 1773.7,1230.8 1774.4,1213.8 1775.2,1213.2 1775.9,1215.1 1776.6,1190.5 1777.3,1220.2 1778.1,1204.2 1778.8,1195.2 1779.5,1213.0 1780.2,1244.1 1781.0,1189.4 1781.7,1224.4 1782.4,1156.4 1783.1,1210.5 1783.9,1200.7 1784.6,1213.8 1785.3,1240.5 1786.0,1223.5 1786.8,1197.0 1787.5,1236.9 1788.2,1204.5 1788.9,1210.9 1789.7,1205.8 1790.4,1218.2 1791.1,1213.5 1791.8,1234.8 1792.6,1216.4 1793.3,1220.0 1794.0,1208.4 1794.7,1235.8 1795.5,1196.7 1796.2,1191.2 1796.9,1221.8 1797.6,1227.0 1798.4,1210.5 1799.1,1239.7 1799.8,1190.1 1800.5,1229.0 1801.3,1230.6 1802.0,1193.9 1802.7,1217.8 1803.4,1220.5 1804.2,1207.6 1804.9,1206.2 1805.6,1207.3 1806.3,1195.8 1807.1,1188.2 1807.8,1216.7 1808.5,1208.3 1809.2,1204.9 1810.0,1210.9 1810.7,1192.5 1811.4,1194.6 1812.1,1214.5 1812.9,1203.9 1813.6,1216.3 1814.3,1220.3 1815.0,1230.4 1815.8,1195.1 1816.5,1200.5 1817.2,1188.9 1817.9,1198.8 1818.7,1219.8 1819.4,1199.1 1820.1,1235.7 1820.8,1199.0 1821.6,1179.9 1822.3,1192.0 1823.0,1233.2 1823.7,1191.8 1824.5,1203.2 1825.2,1185.2 1825.9,1188.8 1826.6,1219.9 1827.4,1185.9 1828.1,1175.9 1828.8,1188.6 1829.5,1187.5 1830.3,1205.8 1831.0,1195.5 1831.7,1210.8 1832.4,1190.5 1833.2,1199.6 1833.9,1200.5 1834.6,1207.4 1835.3,1175.2 1836.1,1186.5 1836.8,1152.3 1837.5,1178.8 1838.2,1173.1 1839.0,1178.4 1839.7,1212.6 1840.4,1206.0 1841.1,1171.6 1841.9,1217.8 1842.6,1211.1 1843.3,1198.2 1844.0,1191.1 1844.8,1190.3 1845.5,1190.0 1846.2,1197.6 1846.9,1181.2 1847.7,1200.3 1848.4,1182.5 1849.1,1178.9 1849.8,1188.3 1850.6,1197.0 1851.3,1200.5 1852.0,1196.5 1852.7,1177.7 1853.5,1168.1 1854.2,1176.4 1854.9,1196.1 1855.6,1209.0 1856.4,1200.6 1857.1,1200.4 1857.8,1195.7 1858.5,1198.8 1859.3,1195.5 1860.0,1219.7 1860.7,1189.4 1861.4,1194.4 1862.2,1212.8 1862.9,1201.1 1863.6,1214.9 1864.3,1200.1 1865.1,1212.4 1865.8,1209.8 1866.5,1189.0 1867.2,1213.0 1868.0,1221.7 1868.7,1195.6 1869.4,1203.6 1870.1,1215.5 1870.9,1229.2 1871.6,1214.3 1872.3,1241.1 1873.0,1203.8 1873.8,1234.6 1874.5,1197.9 1875.2,1207.1 1875.9,1194.7 1876.7,1220.0 1877.4,1214.8 1878.1,1182.0 1878.8,1168.8 1879.6,1252.2 1880.3,1195.9 1881.0,1174.5 1881.7,1182.8 1882.5,1187.6 1883.2,1215.1 1883.9,1199.6 1884.6,1194.2 1885.4,1180.6 1886.1,1203.1 1886.8,1170.6 1887.5,1211.6 1888.3,1211.5 1889.0,1193.6 1889.7,1180.9 1890.4,1194.1 1891.2,1200.9 1891.9,1229.2 1892.6,1222.5 1893.3,1186.6 1894.1,1181.7 1894.8,1170.4 1895.5,1192.5 1896.2,1172.5 1897.0,1193.9 1897.7,1184.1 1898.4,1175.1 1899.1,1168.5 1899.9,1160.2 1900.6,1191.1 1901.3,1163.9 1902.0,1192.6 1902.8,1159.0 1903.5,1146.8 1904.2,1184.4 1904.9,1177.1 1905.7,1200.0 1906.4,1187.6 1907.1,1187.0 1907.8,1200.9 1908.6,1179.3 1909.3,1198.6 1910.0,1225.3 1910.7,1192.8 1911.5,1175.1 1912.2,1186.4 1912.9,1165.0 1913.6,1174.2 1914.4,1204.6 1915.1,1163.8 1915.8,1159.3 1916.5,1185.1 1917.3,1171.9 1918.0,1175.7 1918.7,1168.3 1919.4,1182.3 1920.2,1195.1 1920.9,1179.8 1921.6,1161.6 1922.3,1161.1 1923.1,1152.5 1923.8,1144.8 1924.5,1182.3 1925.2,1177.4 1926.0,1177.2 1926.7,1178.7 1927.4,1162.8 1928.1,1173.4 1928.9,1182.4 1929.6,1199.3 1930.3,1178.2 1931.0,1173.7 1931.8,1158.4 1932.5,1184.0 1933.2,1159.3 1933.9,1166.3 1934.7,1165.5 1935.4,1144.8 1936.1,1159.9 1936.8,1172.3 1937.6,1140.1 1938.3,1145.4 1939.0,1139.9 1939.7,1155.0 1940.5,1183.3 1941.2,1152.8 1941.9,1165.1 1942.6,1146.5 1943.4,1133.6 1944.1,1139.2 1944.8,1142.1 1945.5,1134.4 1946.3,1135.7 1947.0,1137.0 1947.7,1123.3 1948.4,1156.5 1949.2,1135.1 1949.9,1121.8 1950.6,1109.8 1951.3,1121.4 1952.1,1097.7 1952.8,1086.0 1953.5,1098.3 1954.2,1124.2 1955.0,1097.7 1955.7,1097.9 1956.4,1070.4 1957.1,1088.5 1957.9,1060.5 1958.6,1051.1 1959.3,1039.0 1960.0,1043.2 1960.8,1012.8 1961.5,1012.9 1962.2,1002.6 1962.9,976.4 1963.7,947.6 1964.4,989.6 1965.1,946.2 1965.8,922.7 1966.6,956.3 1967.3,947.0 1968.0,965.1 1968.7,964.1 1969.5,882.6 1970.2,916.2 1970.9,932.2 1971.6,891.0 1972.4,942.2 1973.1,916.3 1973.8,883.6 1974.5,877.7 1975.3,889.4 1976.0,926.0 1976.7,916.7 1977.4,831.6 1978.2,876.7 1978.9,821.2 1979.6,846.1 1980.3,819.3 1981.1,827.5 1981.8,805.4 1982.5,807.7 1983.2,748.3 1984.0,781.5 1984.7,743.1 1985.4,702.4 1986.1,747.3 1986.9,698.5 1987.6,666.4 1988.3,659.2 1989.0,661.4 1989.8,620.1 1990.5,588.6 1991.2,584.9 1991.9,557.0 1992.7,533.7 1993.4,574.3 1994.1,523.2 1994.8,512.3 1995.6,427.5 1996.3,355.0 1997.0,355.6 1997.7,342.6 1998.5,273.1 1999.2,257.2 1999.9,188.1 2000.6,205.2 2001.4,150.2 2002.1,134.9 2002.8,124.3 2003.5,49.3 2004.3,6.2 2005.0,-18.8 2005.7,-57.1 2006.4,-165.0 2007.2,-203.5 2007.9,-301.2 2008.6,-273.4 2009.3,-323.1 2010.1,-297.0 2010.8,-309.5 2011.5,-387.4 2012.2,-283.7 2013.0,-300.3 2013.7,-340.8 2014.4,-367.8 2015.1,-389.6 2015.9,-329.1 2016.6,-357.4 2017.3,-363.2 2018.0,-354.0 2018.8,-370.0 2019.5,-288.7 2020.2,-340.9 2020.9,-312.7 2021.7,-305.8 2022.4,-298.6 2023.1,-314.6 2023.8,-284.8 2024.6,-328.0 2025.3,-244.7 2026.0,-356.8 2026.7,-286.3 2027.5,-239.6 2028.2,-334.3 2028.9,-261.0 2029.6,-241.2 2030.4,-315.4 2031.1,-251.6 2031.8,-310.7 2032.5,-278.4 2033.3,-289.0 2034.0,-307.8 2034.7,-309.3 2035.4,-292.3 2036.2,-319.6 2036.9,-267.1 2037.6,-266.9 2038.3,-236.3 2039.1,-258.4 2039.8,-279.9 2040.5,-290.7 2041.2,-212.4 2042.0,-340.3 2042.7,-337.4 2043.4,-230.4 2044.1,-266.7 2044.9,-293.5 2045.6,-282.0 2046.3,-267.2 2047.0,-341.8 2047.8,-306.5 2048.5,-275.2 2049.2,-276.9 2049.9,-263.8 2050.7,-291.6 2051.4,-312.9 2052.1,-324.9 2052.8,-292.5 2053.6,-316.0 2054.3,-303.4 2055.0,-275.7 2055.7,-280.0 2056.5,-354.3 2057.2,-278.0 2057.9,-359.6 2058.6,-359.7 2059.4,-244.0 2060.1,-298.4 2060.8,-322.1 2061.5,-311.3 2062.3,-264.1 2063.0,-224.3 2063.7,-241.9 2064.4,-289.3 2065.2,-321.7 2065.9,-295.7 2066.6,-267.0 2067.3,-248.6 2068.1,-226.9 2068.8,-103.1 2069.5,-6.4 2070.2,-0.3 2071.0,119.2 2071.7,182.3 2072.4,208.8 2073.1,196.4 2073.9,255.6 2074.6,304.5 2075.3,334.1 2076.0,418.3 2076.8,415.6 2077.5,435.2 2078.2,467.8 2078.9,466.7 2079.7,460.9 2080.4,526.4 2081.1,535.2 2081.8,593.4 2082.6,608.6 2083.3,622.7 2084.0,691.8 2084.7,687.9 2085.5,669.3 2086.2,793.3 2086.9,783.8 2087.6,736.0 2088.4,704.3 2089.1,731.9 2089.8,797.5 2090.5,783.2 2091.3,790.3 2092.0,827.8 2092.7,817.6 2093.4,835.3 2094.2,892.7 2094.9,889.3 2095.6,908.2 2096.3,920.6 2097.1,951.6 2097.8,968.6 2098.5,956.1 2099.2,992.6 2100.0,1052.7 2100.7,1027.5 2101.4,1061.2 2102.1,1021.7 2102.9,1000.9 2103.6,1030.7 2104.3,1020.5 2105.0,1019.9 2105.8,1023.3 2106.5,1004.7 2107.2,1068.8 2107.9,1053.3 2108.7,1044.9 2109.4,1037.5 2110.1,1084.0 2110.8,1074.7 2111.6,1098.4 2112.3,1084.4 2113.0,1092.6 2113.7,1080.9 2114.5,1056.4 2115.2,1091.5 2115.9,1104.6 2116.6,1068.3 2117.4,1090.8 2118.1,1129.2 2118.8,1087.2 2119.5,1134.9 2120.3,1086.9 2121.0,1085.6 2121.7,1100.0 2122.4,1105.0 2123.2,1133.6 2123.9,1086.0 2124.6,1109.0 2125.3,1113.0 2126.1,1114.3 2126.8,1136.7 2127.5,1129.0 2128.2,1140.3 2129.0,1138.5 2129.7,1161.9 2130.4,1136.2 2131.1,1148.6 2131.9,1163.3 2132.6,1159.6 2133.3,1152.8 2134.0,1166.0 2134.8,1160.3 2135.5,1161.1 2136.2,1155.9 2136.9,1170.2 2137.7,1171.8 2138.4,1147.2 2139.1,1165.5 2139.8,1165.1 2140.6,1169.9 2141.3,1150.2 2142.0,1144.5 2142.7,1160.8 2143.5,1181.7 2144.2,1152.0 2144.9,1182.7 2145.6,1168.8 2146.4,1170.5 2147.1,1169.5 2147.8,1160.5 2148.5,1161.7 2149.3,1174.9 2150.0,1189.4 2150.7,1171.4 2151.4,1177.2 2152.2,1160.6 2152.9,1172.6 2153.6,1191.2 2154.3,1192.5 2155.1,1172.4 2155.8,1175.2 2156.5,1165.4 2157.2,1161.2 2158.0,1179.5 2158.7,1164.7 2159.4,1207.8 2160.1,1137.9 2160.9,1143.6 2161.6,1151.9 2162.3,1172.4 2163.0,1171.2 2163.8,1164.5 2164.5,1132.2 2165.2,1182.3 2165.9,1157.9 2166.7,1202.7 2167.4,1186.2 2168.1,1175.4 2168.8,1184.0 2169.6,1212.3 2170.3,1185.7 2171.0,1175.0 2171.7,1128.8 2172.5,1187.5 2173.2,1169.6 2173.9,1202.4 2174.6,1186.1 2175.4,1197.5 2176.1,1171.0 2176.8,1160.9 2177.5,1195.6 2178.3,1181.4 2179.0,1174.8 2179.7,1183.7 2180.4,1200.4 2181.2,1176.8 2181.9,1212.0 2182.6,1190.6 2183.3,1165.6 2184.1,1165.8 2184.8,1178.9 2185.5,1173.8 2186.2,1172.8 2187.0,1176.6 2187.7,1183.5 2188.4,1178.3 2189.1,1176.2 2189.9,1140.8 2190.6,1209.3 2191.3,1190.0 2192.0,1197.5 2192.8,1193.2 2193.5,1208.4 2194.2,1190.5 2194.9,1205.4 2195.7,1178.6 2196.4,1181.1 2197.1,1195.4 2197.8,1190.2 2198.6,1198.2 2199.3,1168.6 2200.0,1188.0 2200.7,1175.1 2201.5,1163.9 2202.2,1197.5 2202.9,1184.6 2203.6,1173.5 2204.4,1170.3 2205.1,1194.9 2205.8,1188.6 2206.5,1188.2 2207.3,1199.8 2208.0,1192.4 2208.7,1171.1 2209.4,1207.8 2210.2,1192.4 2210.9,1191.9 2211.6,1169.5 2212.3,1158.3 2213.1,1200.5 2213.8,1192.6 2214.5,1198.2 2215.2,1202.5 2216.0,1212.3 2216.7,1232.8 2217.4,1223.4 2218.1,1198.9 2218.9,1204.4 2219.6,1217.4 2220.3,1234.1 2221.0,1229.8 2221.8,1208.5 2222.5,1199.7 2223.2,1218.5 2223.9,1212.6 2224.7,1223.6 2225.4,1225.2 2226.1,1219.2 2226.8,1203.9 2227.6,1199.7 2228.3,1211.4 2229.0,1220.5 2229.7,1212.4 2230.5,1220.5 2231.2,1204.4 2231.9,1221.7 2232.6,1211.3 2233.4,1203.4 2234.1,1200.0 2234.8,1210.6 2235.5,1217.9 2236.3,1239.1 2237.0,1222.2 2237.7,1229.9 2238.4,1194.0 2239.2,1230.9 2239.9,1215.4 2240.6,1203.3 2241.3,1185.3 2242.1,1203.0 2242.8,1248.5 2243.5,1221.7 2244.2,1218.9 2245.0,1195.9 2245.7,1212.2 2246.4,1211.4 2247.1,1208.2 2247.9,1193.3 2248.6,1199.1 2249.3,1204.3 2250.0,1275.3 2250.8,1182.6 2251.5,1228.1 2252.2,1223.4 2252.9,1207.2 2253.7,1214.4 2254.4,1208.3 2255.1,1210.2 2255.8,1194.5 2256.6,1175.7 2257.3,1235.4 2258.0,1223.2 2258.7,1182.8 2259.5,1216.5 2260.2,1197.3 2260.9,1209.1 2261.6,1189.9 2262.4,1189.5 2263.1,1227.6 2263.8,1197.7 2264.5,1203.6 2265.3,1215.4 2266.0,1226.9 2266.7,1201.8 2267.4,1215.1 2268.2,1214.8 2268.9,1194.4 2269.6,1192.2 2270.3,1206.2 2271.1,1196.1 2271.8,1218.1 2272.5,1174.1 2273.2,1204.1 2274.0,1195.0 2274.7,1178.5 2275.4,1195.0 2276.1,1177.6 2276.9,1191.5 2277.6,1209.4 2278.3,1185.0 2279.0,1206.7 2279.8,1195.9 2280.5,1185.1 2281.2,1185.4 2281.9,1194.4 2282.7,1196.5 2283.4,1187.0 2284.1,1192.1 2284.8,1207.9 2285.6,1187.9 2286.3,1188.3 2287.0,1209.8 2287.7,1217.7 2288.5,1179.0 2289.2,1210.8 2289.9,1240.7 2290.6,1222.2 2291.4,1208.1 2292.1,1218.3 2292.8,1192.8 2293.5,1221.3 2294.3,1216.6 2295.0,1223.9 2295.7,1212.1 2296.4,1224.3 2297.2,1212.7 2297.9,1233.6 2298.6,1226.8 2299.3,1198.7 2300.1,1185.1 2300.8,1224.5 2301.5,1227.5 2302.2,1229.1 2303.0,1205.8 2303.7,1215.1 2304.4,1209.8 2305.1,1201.3 2305.9,1213.1 2306.6,1232.0 2307.3,1210.3 2308.0,1237.5 2308.8,1197.6 2309.5,1209.4 2310.2,1225.3 2310.9,1220.5 2311.7,1216.0 2312.4,1179.1 2313.1,1210.9 2313.8,1231.9 2314.6,1222.3 2315.3,1220.8 2316.0,1219.7 2316.7,1212.9 2317.5,1213.2 2318.2,1205.8 2318.9,1230.0 2319.6,1218.4 2320.4,1222.2 2321.1,1216.5 2321.8,1212.5 2322.5,1198.0 2323.3,1216.2 2324.0,1207.3 2324.7,1207.9 2325.4,1216.4 2326.2,1229.4 2326.9,1198.0 2327.6,1209.1 2328.3,1227.0 2329.1,1188.5 2329.8,1209.3 2330.5,1196.6 2331.2,1213.1 2332.0,1226.4 2332.7,1209.0 2333.4,1225.9 2334.1,1220.4 2334.9,1259.5 2335.6,1175.9 2336.3,1207.3 2337.0,1217.0 2337.8,1219.6 2338.5,1239.4 2339.2,1233.3 2339.9,1215.7 2340.7,1204.0 2341.4,1238.0 2342.1,1228.0 2342.8,1221.4 2343.6,1234.5 2344.3,1244.5 2345.0,1225.4 2345.7,1238.0 2346.5,1198.6 2347.2,1232.3 2347.9,1251.8 2348.6,1239.2 2349.4,1218.1 2350.1,1212.4 2350.8,1231.5 2351.5,1217.3 2352.3,1218.3 2353.0,1193.9 2353.7,1218.2 2354.4,1238.0 2355.2,1216.7 2355.9,1222.4 2356.6,1216.7 2357.3,1230.9 2358.1,1236.8 2358.8,1234.0 2359.5,1199.5 2360.2,1234.1 2361.0,1223.3 2361.7,1233.5 2362.4,1221.4 2363.1,1247.5 2363.9,1255.9 2364.6,1243.2 2365.3,1267.0 2366.0,1233.2 2366.8,1226.0 2367.5,1203.9 2368.2,1220.0 2368.9,1222.2 2369.7,1246.4 2370.4,1216.0 2371.1,1228.0 2371.8,1234.1 2372.6,1226.1 2373.3,1224.2 2374.0,1245.7 2374.7,1213.1 2375.5,1224.0 2376.2,1226.7 2376.9,1243.8 2377.6,1241.8 2378.4,1233.0 2379.1,1245.2 2379.8,1203.1 2380.5,1236.2 2381.3,1224.0 2382.0,1211.8 2382.7,1237.7 2383.4,1223.3 2384.2,1218.1 2384.9,1203.6 2385.6,1225.4 2386.3,1237.6 2387.1,1224.4 2387.8,1231.6 2388.5,1235.2 2389.2,1223.1 2390.0,1218.3 2390.7,1214.8 2391.4,1215.2 2392.1,1214.1 2392.9,1221.1 2393.6,1213.7 2394.3,1232.2 2395.0,1207.2 2395.8,1237.1 2396.5,1212.2 2397.2,1213.3 2397.9,1228.7 2398.7,1213.4 2399.4,1201.1 2400.1,1235.5 2400.8,1243.5 2401.6,1202.7 2402.3,1232.1 2403.0,1218.1 2403.7,1221.2 2404.5,1242.0 2405.2,1205.6 2405.9,1215.7 2406.6,1237.6 2407.4,1228.1 2408.1,1229.6 2408.8,1216.4 2409.5,1214.9 2410.3,1215.3 2411.0,1228.0 2411.7,1221.0 2412.4,1232.5 2413.2,1281.6 2413.9,1205.5 2414.6,1228.9 2415.3,1223.0 2416.1,1210.4 2416.8,1225.4 2417.5,1212.9 2418.2,1208.0 2419.0,1225.0 2419.7,1244.0 2420.4,1221.9 2421.1,1228.8 2421.9,1214.9 2422.6,1213.6 2423.3,1205.3 2424.0,1223.7 2424.8,1231.1 2425.5,1206.1" fill="none" stroke="#006BE3" stroke-width="3.6" stroke-linejoin="miter" stroke-miterlimit="2"/>
<polyline points="250.5,951.5 251.2,918.8 251.9,906.7 252.7,842.0 253.4,924.9 254.1,960.1 254.8,936.8 255.6,945.1 256.3,953.3 257.0,915.5 257.7,980.7 258.5,912.1 259.2,934.4 259.9,978.3 260.6,924.3 261.4,929.4 262.1,919.1 262.8,937.0 263.5,864.5 264.3,914.5 265.0,969.8 265.7,944.2 266.4,937.5 267.2,949.9 267.9,950.1 268.6,945.2 269.3,948.8 270.1,904.0 270.8,944.4 271.5,910.3 272.2,945.9 273.0,930.0 273.7,897.9 274.4,928.0 275.1,910.1 275.9,948.2 276.6,928.9 277.3,945.8 278.0,909.2 278.8,982.4 279.5,925.4 280.2,956.7 280.9,957.6 281.7,908.1 282.4,933.3 283.1,915.8 283.8,933.3 284.6,971.9 285.3,949.2 286.0,948.4 286.7,907.0 287.5,932.7 288.2,934.6 288.9,947.1 289.6,914.1 290.4,936.2 291.1,939.7 291.8,898.6 292.5,908.9 293.3,937.8 294.0,907.8 294.7,906.5 295.4,945.1 296.2,932.6 296.9,922.4 297.6,929.5 298.3,921.7 299.1,921.2 299.8,918.1 300.5,940.3 301.2,957.0 302.0,922.1 302.7,928.6 303.4,925.9 304.1,907.9 304.9,938.5 305.6,952.6 306.3,923.0 307.0,956.0 307.8,930.6 308.5,962.4 309.2,962.4 309.9,925.9 310.7,898.9 311.4,927.9 312.1,906.9 312.8,906.5 313.6,924.1 314.3,969.5 315.0,922.9 315.7,919.6 316.5,889.6 317.2,914.4 317.9,902.6 318.6,941.7 319.4,926.1 320.1,938.6 320.8,941.8 321.5,940.1 322.3,961.2 323.0,957.5 323.7,929.7 324.4,939.6 325.2,943.9 325.9,956.6 326.6,932.4 327.3,975.9 328.1,921.2 328.8,930.7 329.5,891.3 330.2,966.4 331.0,923.4 331.7,924.7 332.4,971.2 333.1,929.0 333.9,932.9 334.6,965.2 335.3,944.2 336.0,963.3 336.8,936.4 337.5,954.3 338.2,958.3 338.9,938.6 339.7,969.9 340.4,929.6 341.1,933.0 341.8,938.4 342.6,955.5 343.3,932.0 344.0,929.7 344.7,942.8 345.5,977.6 346.2,931.2 346.9,915.5 347.6,936.4 348.4,949.8 349.1,920.6 349.8,938.8 350.5,877.2 351.3,935.3 352.0,937.0 352.7,947.4 353.4,942.9 354.2,952.3 354.9,920.4 355.6,950.8 356.3,908.2 357.1,927.3 357.8,958.1 358.5,953.2 359.2,903.7 360.0,949.5 360.7,932.1 361.4,926.9 362.1,947.9 362.9,943.2 363.6,965.1 364.3,911.6 365.0,929.2 365.8,934.0 366.5,902.7 367.2,958.3 367.9,969.5 368.7,926.1 369.4,944.7 370.1,931.8 370.8,939.7 371.6,919.7 372.3,945.1 373.0,907.1 373.7,953.9 374.5,936.4 375.2,975.3 375.9,879.2 376.6,928.8 377.4,906.6 378.1,928.2 378.8,939.8 379.5,915.8 380.3,906.5 381.0,900.1 381.7,934.3 382.4,951.5 383.2,962.7 383.9,925.4 384.6,906.7 385.3,918.1 386.1,898.1 386.8,898.4 387.5,962.5 388.2,925.1 389.0,936.2 389.7,924.5 390.4,969.6 391.1,953.3 391.9,911.9 392.6,919.5 393.3,905.0 394.0,949.9 394.8,947.2 395.5,916.5 396.2,961.4 396.9,916.5 397.7,875.6 398.4,875.4 399.1,911.3 399.8,922.1 400.6,907.5 401.3,925.9 402.0,940.2 402.7,913.9 403.5,928.8 404.2,942.4 404.9,921.0 405.6,902.4 406.4,922.9 407.1,926.5 407.8,957.3 408.5,910.7 409.3,890.9 410.0,925.7 410.7,926.6 411.4,913.0 412.2,930.7 412.9,929.6 413.6,940.9 414.3,901.7 415.1,902.6 415.8,914.1 416.5,905.2 417.2,939.4 418.0,928.6 418.7,919.2 419.4,948.4 420.1,928.8 420.9,949.2 421.6,930.3 422.3,910.1 423.0,907.8 423.8,908.7 424.5,887.1 425.2,900.4 425.9,922.6 426.7,917.2 427.4,891.4 428.1,954.6 428.8,894.5 429.6,927.8 430.3,932.3 431.0,944.3 431.7,905.8 432.5,922.3 433.2,917.8 433.9,941.6 434.6,926.5 435.4,926.0 436.1,927.0 436.8,952.2 437.5,927.8 438.3,931.7 439.0,899.0 439.7,939.5 440.4,894.8 441.2,934.9 441.9,918.7 442.6,886.6 443.3,891.0 444.1,910.1 444.8,914.7 445.5,903.4 446.2,909.7 447.0,912.2 447.7,910.3 448.4,918.8 449.1,929.0 449.9,948.7 450.6,935.5 451.3,911.2 452.0,950.8 452.8,941.7 453.5,914.8 454.2,940.0 454.9,912.2 455.7,909.3 456.4,902.1 457.1,954.4 457.8,925.1 458.6,926.9 459.3,920.9 460.0,907.5 460.7,928.7 461.5,933.5 462.2,987.6 462.9,907.6 463.6,955.5 464.4,941.7 465.1,898.8 465.8,954.0 466.5,968.7 467.3,959.2 468.0,941.6 468.7,937.5 469.4,893.5 470.2,936.9 470.9,934.6 471.6,914.4 472.3,942.1 473.1,921.0 473.8,976.9 474.5,907.8 475.2,912.4 476.0,886.9 476.7,921.3 477.4,932.4 478.1,932.0 478.9,921.0 479.6,952.0 480.3,940.3 481.0,958.6 481.8,931.9 482.5,897.5 483.2,926.0 483.9,905.8 484.7,938.1 485.4,906.4 486.1,909.9 486.8,912.0 487.6,880.6 488.3,902.8 489.0,928.9 489.7,902.7 490.5,912.6 491.2,923.1 491.9,904.1 492.6,910.4 493.4,922.4 494.1,903.2 494.8,909.4 495.5,901.9 496.3,882.7 497.0,877.5 497.7,942.4 498.4,931.5 499.2,902.9 499.9,924.5 500.6,928.0 501.3,925.6 502.1,900.0 502.8,879.2 503.5,865.4 504.2,902.0 505.0,932.1 505.7,935.1 506.4,898.9 507.1,896.7 507.9,943.7 508.6,944.1 509.3,873.4 510.0,912.3 510.8,904.5 511.5,893.6 512.2,892.3 512.9,891.3 513.7,898.1 514.4,869.5 515.1,901.8 515.8,920.2 516.6,933.5 517.3,926.4 518.0,919.6 518.7,918.1 519.5,952.4 520.2,908.2 520.9,915.6 521.6,935.0 522.4,910.0 523.1,883.6 523.8,898.5 524.5,902.1 525.3,909.0 526.0,904.6 526.7,933.0 527.4,927.8 528.2,923.8 528.9,902.6 529.6,935.8 530.3,936.5 531.1,960.6 531.8,908.4 532.5,917.5 533.2,965.6 534.0,899.9 534.7,924.9 535.4,924.0 536.1,921.3 536.9,903.5 537.6,922.9 538.3,894.8 539.0,944.8 539.8,913.3 540.5,925.5 541.2,923.3 541.9,928.3 542.7,927.9 543.4,933.5 544.1,918.2 544.8,924.6 545.6,903.3 546.3,904.9 547.0,909.5 547.7,907.7 548.5,902.2 549.2,916.9 549.9,940.8 550.6,937.7 551.4,923.5 552.1,942.4 552.8,940.5 553.5,984.0 554.3,907.8 555.0,942.4 555.7,915.2 556.4,963.0 557.2,937.8 557.9,951.4 558.6,948.6 559.3,958.4 560.1,893.1 560.8,923.4 561.5,943.7 562.2,916.6 563.0,949.5 563.7,962.2 564.4,918.5 565.1,936.1 565.9,957.0 566.6,979.6 567.3,965.7 568.0,960.4 568.8,931.2 569.5,947.4 570.2,950.2 570.9,935.8 571.7,954.8 572.4,939.6 573.1,941.0 573.8,986.0 574.6,943.5 575.3,1004.0 576.0,941.4 576.7,948.1 577.5,929.4 578.2,942.9 578.9,982.0 579.6,955.4 580.4,920.3 581.1,978.8 581.8,937.0 582.5,943.3 583.3,948.2 584.0,914.6 584.7,971.7 585.4,964.5 586.2,933.7 586.9,942.7 587.6,929.7 588.3,923.9 589.1,931.3 589.8,913.4 590.5,934.7 591.2,935.5 592.0,980.2 592.7,923.4 593.4,983.9 594.1,957.2 594.9,944.7 595.6,929.3 596.3,968.4 597.0,979.6 597.8,938.8 598.5,939.4 599.2,950.0 599.9,981.4 600.7,938.3 601.4,956.9 602.1,975.5 602.8,933.6 603.6,955.0 604.3,976.6 605.0,951.0 605.7,956.8 606.5,932.7 607.2,964.8 607.9,939.0 608.6,953.1 609.4,970.8 610.1,953.7 610.8,979.5 611.5,978.6 612.3,982.1 613.0,997.9 613.7,968.9 614.4,911.6 615.2,987.7 615.9,986.4 616.6,965.5 617.3,958.8 618.1,990.8 618.8,961.8 619.5,961.1 620.2,958.1 621.0,1030.1 621.7,951.8 622.4,920.9 623.1,962.1 623.9,946.4 624.6,933.6 625.3,963.0 626.0,950.3 626.8,981.2 627.5,946.3 628.2,976.1 628.9,972.6 629.7,956.5 630.4,968.3 631.1,985.2 631.8,966.9 632.6,932.6 633.3,957.8 634.0,959.7 634.7,976.1 635.5,952.6 636.2,972.8 636.9,950.1 637.6,957.2 638.4,955.3 639.1,961.4 639.8,960.0 640.5,967.8 641.3,938.7 642.0,942.9 642.7,957.3 643.4,960.8 644.2,952.3 644.9,966.1 645.6,965.7 646.3,987.9 647.1,918.9 647.8,992.1 648.5,922.0 649.2,930.9 650.0,963.2 650.7,942.7 651.4,951.7 652.1,947.5 652.9,932.0 653.6,930.0 654.3,945.4 655.0,958.7 655.8,960.6 656.5,953.2 657.2,938.9 657.9,969.7 658.7,917.6 659.4,955.4 660.1,977.9 660.8,985.0 661.6,978.4 662.3,979.1 663.0,971.8 663.7,955.2 664.5,915.7 665.2,942.5 665.9,946.0 666.6,975.9 667.4,944.5 668.1,946.7 668.8,964.1 669.5,939.3 670.3,956.5 671.0,965.8 671.7,952.1 672.4,953.2 673.2,926.9 673.9,917.4 674.6,947.3 675.3,968.6 676.1,940.9 676.8,936.3 677.5,939.8 678.2,964.9 679.0,932.2 679.7,958.3 680.4,949.8 681.1,956.8 681.9,944.0 682.6,958.3 683.3,979.7 684.0,953.7 684.8,950.4 685.5,916.3 686.2,965.2 686.9,946.7 687.7,963.6 688.4,959.5 689.1,945.1 689.8,947.4 690.6,935.7 691.3,990.2 692.0,973.7 692.7,973.9 693.5,994.1 694.2,988.1 694.9,981.7 695.6,986.1 696.4,1011.1 697.1,943.3 697.8,974.9 698.5,961.4 699.3,972.1 700.0,929.2 700.7,951.6 701.4,980.8 702.2,944.9 702.9,972.5 703.6,948.6 704.3,956.6 705.1,939.7 705.8,957.6 706.5,946.1 707.2,981.7 708.0,944.7 708.7,978.2 709.4,963.7 710.1,970.6 710.9,998.2 711.6,972.2 712.3,966.9 713.0,977.4 713.8,988.6 714.5,967.7 715.2,1004.3 715.9,979.4 716.7,966.5 717.4,966.3 718.1,974.5 718.8,986.0 719.6,993.5 720.3,976.7 721.0,964.8 721.7,973.0 722.5,939.1 723.2,992.4 723.9,998.8 724.6,974.5 725.4,991.7 726.1,966.5 726.8,1014.1 727.5,983.1 728.3,977.2 729.0,1016.2 729.7,963.0 730.4,981.8 731.2,958.0 731.9,957.4 732.6,964.2 733.3,959.4 734.1,1013.6 734.8,988.5 735.5,961.6 736.2,1010.1 737.0,969.5 737.7,966.0 738.4,973.8 739.1,948.4 739.9,986.1 740.6,948.2 741.3,941.8 742.0,979.2 742.8,945.7 743.5,956.1 744.2,940.8 744.9,955.3 745.7,967.1 746.4,928.6 747.1,968.6 747.8,957.1 748.6,992.8 749.3,1002.0 750.0,976.1 750.7,975.7 751.5,982.4 752.2,981.8 752.9,939.8 753.6,927.3 754.4,955.2 755.1,941.0 755.8,959.9 756.5,968.1 757.3,952.8 758.0,972.8 758.7,987.3 759.4,962.0 760.2,967.2 760.9,958.9 761.6,958.3 762.3,951.5 763.1,941.7 763.8,970.7 764.5,979.4 765.2,959.1 766.0,960.4 766.7,934.0 767.4,952.8 768.1,961.9 768.9,955.1 769.6,958.0 770.3,940.0 771.0,936.1 771.8,954.9 772.5,986.2 773.2,954.5 773.9,935.6 774.7,950.6 775.4,958.0 776.1,981.5 776.8,976.4 777.6,939.5 778.3,931.5 779.0,940.5 779.7,941.5 780.5,921.9 781.2,955.6 781.9,930.8 782.6,943.6 783.4,936.4 784.1,949.7 784.8,939.0 785.5,945.8 786.3,963.2 787.0,944.4 787.7,964.6 788.4,913.8 789.2,930.6 789.9,912.5 790.6,902.8 791.3,925.3 792.1,959.4 792.8,930.0 793.5,958.2 794.2,896.0 795.0,937.3 795.7,912.6 796.4,935.7 797.1,946.5 797.9,907.4 798.6,939.7 799.3,892.6 800.0,920.1 800.8,907.5 801.5,921.5 802.2,916.5 802.9,876.6 803.7,906.9 804.4,900.4 805.1,937.8 805.8,858.3 806.6,906.0 807.3,920.6 808.0,942.2 808.7,932.6 809.5,908.5 810.2,937.2 810.9,908.1 811.6,907.6 812.4,906.1 813.1,907.7 813.8,946.8 814.5,890.4 815.3,872.7 816.0,944.1 816.7,935.2 817.4,941.7 818.2,919.0 818.9,934.7 819.6,915.4 820.3,898.6 821.1,905.6 821.8,912.8 822.5,908.0 823.2,896.7 824.0,934.1 824.7,913.3 825.4,899.8 826.1,882.8 826.9,907.6 827.6,877.8 828.3,891.7 829.0,886.2 829.8,890.6 830.5,910.7 831.2,843.6 831.9,949.8 832.7,911.9 833.4,893.2 834.1,888.2 834.8,912.9 835.6,896.0 836.3,931.8 837.0,896.1 837.7,882.0 838.5,873.6 839.2,900.2 839.9,922.9 840.6,880.1 841.4,942.4 842.1,921.5 842.8,899.8 843.5,930.9 844.3,845.2 845.0,830.6 845.7,911.3 846.4,914.4 847.2,914.2 847.9,907.0 848.6,880.5 849.3,920.3 850.1,903.7 850.8,928.5 851.5,916.3 852.2,889.7 853.0,922.9 853.7,933.1 854.4,925.2 855.1,896.3 855.9,889.5 856.6,923.5 857.3,906.1 858.0,903.6 858.8,933.3 859.5,923.7 860.2,913.5 860.9,901.1 861.7,936.1 862.4,892.5 863.1,916.2 863.8,927.0 864.6,896.6 865.3,909.5 866.0,938.8 866.7,920.7 867.5,903.1 868.2,954.8 868.9,929.5 869.6,929.7 870.4,962.0 871.1,900.5 871.8,916.5 872.5,908.2 873.3,948.2 874.0,907.9 874.7,966.1 875.4,931.4 876.2,928.4 876.9,941.0 877.6,918.6 878.3,905.2 879.1,909.8 879.8,920.6 880.5,885.7 881.2,921.0 882.0,908.9 882.7,918.4 883.4,922.6 884.1,955.0 884.9,996.3 885.6,960.7 886.3,918.9 887.0,911.5 887.8,943.5 888.5,948.6 889.2,941.7 889.9,913.9 890.7,933.3 891.4,925.5 892.1,953.2 892.8,954.7 893.6,945.0 894.3,935.8 895.0,977.1 895.7,948.5 896.5,969.9 897.2,952.8 897.9,955.9 898.6,978.0 899.4,935.9 900.1,935.4 900.8,964.2 901.5,889.2 902.3,947.5 903.0,937.0 903.7,965.9 904.4,960.9 905.2,953.1 905.9,937.4 906.6,956.2 907.3,955.1 908.1,964.6 908.8,970.4 909.5,952.3 910.2,980.8 911.0,955.6 911.7,971.9 912.4,970.1 913.1,987.6 913.9,966.5 914.6,994.4 915.3,960.4 916.0,950.7 916.8,975.5 917.5,942.2 918.2,968.5 918.9,967.3 919.7,962.1 920.4,964.2 921.1,959.8 921.8,978.2 922.6,955.0 923.3,901.7 924.0,947.7 924.7,971.8 925.5,974.0 926.2,968.7 926.9,958.4 927.6,943.5 928.4,986.9 929.1,952.3 929.8,944.8 930.5,923.2 931.3,996.6 932.0,965.0 932.7,934.9 933.4,981.2 934.2,978.1 934.9,938.8 935.6,979.6 936.3,966.7 937.1,977.8 937.8,989.7 938.5,960.1 939.2,1003.5 940.0,964.4 940.7,958.3 941.4,989.6 942.1,961.5 942.9,969.6 943.6,991.1 944.3,963.7 945.0,955.5 945.8,983.8 946.5,973.9 947.2,964.7 947.9,988.9 948.7,954.1 949.4,985.7 950.1,956.1 950.8,981.3 951.6,954.1 952.3,984.6 953.0,971.3 953.7,967.1 954.5,974.2 955.2,970.0 955.9,984.9 956.6,961.0 957.4,979.0 958.1,967.9 958.8,964.1 959.5,967.0 960.3,958.9 961.0,982.6 961.7,978.4 962.4,985.1 963.2,951.0 963.9,967.5 964.6,996.2 965.3,990.5 966.1,966.4 966.8,973.6 967.5,979.7 968.2,997.4 969.0,1022.1 969.7,993.6 970.4,995.5 971.1,992.4 971.9,997.5 972.6,1018.2 973.3,978.9 974.0,1002.2 974.8,967.7 975.5,967.8 976.2,958.8 976.9,975.7 977.7,1008.1 978.4,1011.3 979.1,999.3 979.8,987.2 980.6,1004.0 981.3,972.2 982.0,966.7 982.7,974.7 983.5,984.5 984.2,960.2 984.9,975.8 985.6,1013.2 986.4,985.5 987.1,982.8 987.8,978.8 988.5,998.2 989.3,996.1 990.0,986.5 990.7,981.7 991.4,952.3 992.2,962.6 992.9,978.9 993.6,977.2 994.3,981.4 995.1,972.6 995.8,1014.4 996.5,1006.9 997.2,976.4 998.0,1005.8 998.7,1001.5 999.4,994.7 1000.1,989.5 1000.9,997.0 1001.6,1014.6 1002.3,976.9 1003.0,981.3 1003.8,982.3 1004.5,960.4 1005.2,987.6 1005.9,977.9 1006.7,996.8 1007.4,1003.3 1008.1,1023.4 1008.8,989.4 1009.6,991.5 1010.3,1004.4 1011.0,1020.9 1011.7,992.8 1012.5,996.5 1013.2,997.0 1013.9,995.1 1014.6,979.3 1015.4,974.9 1016.1,976.7 1016.8,982.8 1017.5,997.0 1018.3,981.0 1019.0,985.0 1019.7,997.9 1020.4,995.7 1021.2,997.2 1021.9,974.3 1022.6,1017.5 1023.3,983.4 1024.1,980.9 1024.8,970.8 1025.5,990.3 1026.2,1008.3 1027.0,984.6 1027.7,982.1 1028.4,984.4 1029.1,1023.3 1029.9,998.7 1030.6,982.5 1031.3,989.3 1032.0,1000.4 1032.8,984.3 1033.5,986.6 1034.2,982.1 1034.9,976.3 1035.7,987.7 1036.4,1003.5 1037.1,984.0 1037.8,969.3 1038.6,957.9 1039.3,966.9 1040.0,957.3 1040.7,951.6 1041.5,975.2 1042.2,970.1 1042.9,982.2 1043.6,972.0 1044.4,957.2 1045.1,978.0 1045.8,970.5 1046.5,988.1 1047.3,952.3 1048.0,964.8 1048.7,973.9 1049.4,1000.3 1050.2,985.7 1050.9,962.7 1051.6,968.2 1052.3,991.7 1053.1,958.2 1053.8,970.3 1054.5,976.8 1055.2,971.5 1056.0,980.5 1056.7,988.4 1057.4,980.8 1058.1,957.8 1058.9,1012.3 1059.6,994.6 1060.3,954.8 1061.0,970.2 1061.8,936.9 1062.5,991.8 1063.2,960.5 1063.9,976.3 1064.7,973.4 1065.4,986.8 1066.1,971.7 1066.8,968.1 1067.6,992.0 1068.3,994.8 1069.0,973.5 1069.7,981.0 1070.5,958.3 1071.2,1001.9 1071.9,969.5 1072.6,994.2 1073.4,992.3 1074.1,990.3 1074.8,992.0 1075.5,964.2 1076.3,978.5 1077.0,964.3 1077.7,973.6 1078.4,965.2 1079.2,1014.0 1079.9,981.4 1080.6,993.1 1081.3,967.4 1082.1,1004.8 1082.8,975.2 1083.5,972.9 1084.2,969.5 1085.0,948.0 1085.7,938.6 1086.4,971.2 1087.1,949.9 1087.9,961.3 1088.6,994.8 1089.3,957.8 1090.0,993.2 1090.8,970.2 1091.5,933.2 1092.2,971.3 1092.9,979.5 1093.7,974.6 1094.4,945.2 1095.1,936.7 1095.8,980.9 1096.6,999.6 1097.3,1000.5 1098.0,966.3 1098.7,973.0 1099.5,980.7 1100.2,992.7 1100.9,981.9 1101.6,981.7 1102.4,975.8 1103.1,936.5 1103.8,959.1 1104.5,980.8 1105.3,955.2 1106.0,1010.0 1106.7,966.5 1107.4,988.6 1108.2,992.2 1108.9,994.8 1109.6,959.6 1110.3,974.0 1111.1,1016.5 1111.8,978.3 1112.5,990.4 1113.2,942.5 1114.0,991.0 1114.7,983.8 1115.4,980.0 1116.1,955.2 1116.9,963.0 1117.6,974.7 1118.3,975.5 1119.0,965.1 1119.8,998.0 1120.5,995.8 1121.2,976.3 1121.9,1003.2 1122.7,964.5 1123.4,987.5 1124.1,1008.2 1124.8,993.6 1125.6,983.6 1126.3,993.3 1127.0,983.9 1127.7,976.7 1128.5,971.8 1129.2,981.8 1129.9,978.3 1130.6,984.9 1131.4,969.5 1132.1,988.3 1132.8,1001.6 1133.5,982.3 1134.3,1016.4 1135.0,984.1 1135.7,984.5 1136.4,986.5 1137.2,978.0 1137.9,973.4 1138.6,979.0 1139.3,991.8 1140.1,983.1 1140.8,1015.1 1141.5,987.9 1142.2,985.8 1143.0,982.3 1143.7,995.6 1144.4,989.4 1145.1,992.0 1145.9,998.9 1146.6,1009.0 1147.3,975.7 1148.0,1005.8 1148.8,991.1 1149.5,995.1 1150.2,978.7 1150.9,1000.7 1151.7,999.5 1152.4,998.0 1153.1,977.0 1153.8,996.3 1154.6,974.4 1155.3,968.8 1156.0,1003.5 1156.7,993.6 1157.5,978.4 1158.2,993.5 1158.9,1005.5 1159.6,1019.6 1160.4,1004.2 1161.1,988.9 1161.8,992.8 1162.5,988.0 1163.3,1003.1 1164.0,992.4 1164.7,1009.2 1165.4,989.8 1166.2,1012.9 1166.9,994.0 1167.6,999.6 1168.3,997.4 1169.1,995.8 1169.8,1017.4 1170.5,984.3 1171.2,985.4 1172.0,986.2 1172.7,1000.2 1173.4,978.9 1174.1,1013.1 1174.9,983.3 1175.6,991.4 1176.3,1002.5 1177.0,1004.7 1177.8,990.5 1178.5,1014.2 1179.2,1026.3 1179.9,1000.9 1180.7,1018.4 1181.4,1011.1 1182.1,1036.1 1182.8,1004.8 1183.6,1012.3 1184.3,997.5 1185.0,1004.9 1185.7,995.7 1186.5,994.0 1187.2,995.9 1187.9,1012.2 1188.6,997.5 1189.4,1023.4 1190.1,1002.9 1190.8,1020.9 1191.5,988.7 1192.3,988.8 1193.0,1011.5 1193.7,1023.6 1194.4,998.3 1195.2,977.7 1195.9,1021.3 1196.6,1013.0 1197.3,995.9 1198.1,1022.9 1198.8,1020.7 1199.5,993.4 1200.2,995.9 1201.0,1009.9 1201.7,1016.9 1202.4,1019.5 1203.1,1007.8 1203.9,1027.3 1204.6,996.0 1205.3,989.1 1206.0,992.9 1206.8,991.0 1207.5,999.3 1208.2,989.6 1208.9,1010.4 1209.7,1014.5 1210.4,1018.9 1211.1,989.3 1211.8,978.5 1212.6,990.7 1213.3,997.8 1214.0,992.4 1214.7,1006.3 1215.5,1007.5 1216.2,1005.6 1216.9,989.3 1217.6,1011.7 1218.4,988.8 1219.1,967.7 1219.8,996.8 1220.5,1022.7 1221.3,995.2 1222.0,971.8 1222.7,981.2 1223.4,1004.8 1224.2,991.1 1224.9,987.3 1225.6,973.5 1226.3,990.0 1227.1,983.9 1227.8,1014.7 1228.5,1001.6 1229.2,1010.4 1230.0,979.6 1230.7,1000.7 1231.4,1010.6 1232.1,1020.6 1232.9,1013.7 1233.6,984.9 1234.3,1032.4 1235.0,991.5 1235.8,988.9 1236.5,987.2 1237.2,975.0 1237.9,983.5 1238.7,978.3 1239.4,981.7 1240.1,980.8 1240.8,989.8 1241.6,1006.3 1242.3,983.2 1243.0,988.5 1243.7,1012.6 1244.5,1004.8 1245.2,1013.3 1245.9,990.8 1246.6,999.4 1247.4,988.3 1248.1,980.5 1248.8,983.9 1249.5,996.3 1250.3,1003.3 1251.0,985.9 1251.7,1013.0 1252.4,1018.8 1253.2,1010.7 1253.9,1002.3 1254.6,998.2 1255.3,1022.9 1256.1,1000.2 1256.8,1027.6 1257.5,986.7 1258.2,984.9 1259.0,1014.7 1259.7,991.6 1260.4,1019.4 1261.1,999.1 1261.9,996.5 1262.6,1005.8 1263.3,1015.0 1264.0,1011.8 1264.8,999.3 1265.5,998.7 1266.2,1015.2 1266.9,996.2 1267.7,995.2 1268.4,996.5 1269.1,1050.8 1269.8,1027.7 1270.6,1014.5 1271.3,1002.6 1272.0,1012.4 1272.7,982.6 1273.5,998.4 1274.2,1011.9 1274.9,1001.4 1275.6,982.9 1276.4,996.3 1277.1,993.8 1277.8,1024.9 1278.5,1011.7 1279.3,995.0 1280.0,1020.9 1280.7,986.7 1281.4,1009.7 1282.2,1002.7 1282.9,997.7 1283.6,994.5 1284.3,1009.1 1285.1,1022.8 1285.8,982.6 1286.5,1005.7 1287.2,1017.1 1288.0,995.6 1288.7,990.8 1289.4,1025.3 1290.1,1004.3 1290.9,1002.8 1291.6,1013.3 1292.3,1010.8 1293.0,1012.7 1293.8,1010.5 1294.5,1019.6 1295.2,1008.3 1295.9,1010.0 1296.7,987.8 1297.4,1001.5 1298.1,992.7 1298.8,1019.7 1299.6,1006.5 1300.3,1019.5 1301.0,1002.0 1301.7,993.2 1302.5,1015.2 1303.2,1003.3 1303.9,986.6 1304.6,1002.2 1305.4,995.9 1306.1,1023.2 1306.8,1002.8 1307.5,1012.0 1308.3,1015.3 1309.0,1019.6 1309.7,1016.4 1310.4,1018.9 1311.2,1012.8 1311.9,990.5 1312.6,1007.8 1313.3,991.7 1314.1,991.5 1314.8,1007.1 1315.5,983.1 1316.2,1002.7 1317.0,1018.0 1317.7,1003.5 1318.4,1012.4 1319.1,987.5 1319.9,998.3 1320.6,941.9 1321.3,987.6 1322.0,995.3 1322.8,1029.1 1323.5,1033.6 1324.2,983.3 1324.9,1002.4 1325.7,989.0 1326.4,1040.0 1327.1,1017.8 1327.8,1002.7 1328.6,1024.3 1329.3,1024.1 1330.0,1000.7 1330.7,1030.1 1331.5,1017.8 1332.2,1021.0 1332.9,989.6 1333.6,1010.1 1334.4,979.3 1335.1,1012.5 1335.8,996.6 1336.5,1022.7 1337.3,1022.8 1338.0,981.4 1338.7,1022.7 1339.4,996.4 1340.2,1014.4 1340.9,1003.1 1341.6,996.3 1342.3,997.6 1343.1,994.7 1343.8,1019.8 1344.5,1002.7 1345.2,989.0 1346.0,1011.4 1346.7,997.4 1347.4,1011.0 1348.1,994.3 1348.9,1011.3 1349.6,982.7 1350.3,993.3 1351.0,1008.1 1351.8,1016.0 1352.5,1007.3 1353.2,1004.4 1353.9,1039.3 1354.7,1003.3 1355.4,970.9 1356.1,1012.0 1356.8,997.4 1357.6,986.1 1358.3,1020.0 1359.0,1017.9 1359.7,1001.9 1360.5,1000.0 1361.2,1005.9 1361.9,1019.3 1362.6,993.2 1363.4,1022.5 1364.1,1007.8 1364.8,1009.6 1365.5,1024.7 1366.3,1001.4 1367.0,1014.4 1367.7,1007.9 1368.4,969.5 1369.2,1007.5 1369.9,1010.6 1370.6,1007.6 1371.3,1024.9 1372.1,1000.8 1372.8,1012.7 1373.5,1009.4 1374.2,1010.0 1375.0,964.7 1375.7,997.7 1376.4,998.2 1377.1,1026.8 1377.9,1002.2 1378.6,1015.2 1379.3,1009.3 1380.0,985.7 1380.8,987.3 1381.5,1004.6 1382.2,1016.6 1382.9,1023.1 1383.7,1000.0 1384.4,987.2 1385.1,1003.1 1385.8,971.2 1386.6,1019.9 1387.3,996.1 1388.0,998.6 1388.7,1023.0 1389.5,1003.5 1390.2,980.9 1390.9,1004.1 1391.6,989.6 1392.4,981.9 1393.1,987.2 1393.8,978.9 1394.5,1003.8 1395.3,983.9 1396.0,988.2 1396.7,1005.3 1397.4,986.0 1398.2,979.5 1398.9,985.6 1399.6,974.5 1400.3,982.5 1401.1,978.8 1401.8,994.1 1402.5,978.1 1403.2,971.7 1404.0,979.0 1404.7,954.8 1405.4,981.9 1406.1,994.5 1406.9,1009.9 1407.6,988.1 1408.3,1000.9 1409.0,959.0 1409.8,1004.9 1410.5,993.5 1411.2,1004.8 1411.9,980.6 1412.7,991.8 1413.4,986.1 1414.1,974.7 1414.8,976.4 1415.6,1009.9 1416.3,952.1 1417.0,967.7 1417.7,978.7 1418.5,992.0 1419.2,956.7 1419.9,953.2 1420.6,943.2 1421.4,976.3 1422.1,970.6 1422.8,974.6 1423.5,975.7 1424.3,952.9 1425.0,994.2 1425.7,991.6 1426.4,958.4 1427.2,967.1 1427.9,963.6 1428.6,965.8 1429.3,1002.8 1430.1,988.2 1430.8,956.5 1431.5,1000.3 1432.2,977.5 1433.0,974.3 1433.7,952.0 1434.4,963.5 1435.1,972.6 1435.9,1017.6 1436.6,958.2 1437.3,962.8 1438.0,987.2 1438.8,978.9 1439.5,964.1 1440.2,1046.2 1440.9,973.4 1441.7,966.7 1442.4,970.4 1443.1,979.3 1443.8,978.4 1444.6,981.3 1445.3,970.3 1446.0,959.1 1446.7,987.4 1447.5,963.0 1448.2,956.8 1448.9,976.9 1449.6,997.5 1450.4,960.2 1451.1,961.1 1451.8,966.5 1452.5,958.0 1453.3,963.9 1454.0,981.0 1454.7,978.7 1455.4,930.6 1456.2,990.8 1456.9,989.1 1457.6,950.4 1458.3,989.7 1459.1,931.8 1459.8,989.2 1460.5,958.9 1461.2,976.3 1462.0,973.6 1462.7,982.2 1463.4,954.7 1464.1,1000.9 1464.9,989.8 1465.6,980.6 1466.3,996.0 1467.0,974.4 1467.8,1006.7 1468.5,997.4 1469.2,1009.1 1469.9,968.4 1470.7,985.4 1471.4,954.6 1472.1,986.7 1472.8,971.2 1473.6,969.4 1474.3,994.8 1475.0,978.7 1475.7,996.6 1476.5,962.4 1477.2,966.9 1477.9,982.1 1478.6,941.7 1479.4,958.1 1480.1,973.8 1480.8,945.7 1481.5,983.4 1482.3,963.1 1483.0,992.2 1483.7,969.7 1484.4,1002.7 1485.2,952.4 1485.9,996.8 1486.6,955.8 1487.3,1001.2 1488.1,981.3 1488.8,955.4 1489.5,996.6 1490.2,981.0 1491.0,988.3 1491.7,990.7 1492.4,1003.0 1493.1,982.2 1493.9,994.5 1494.6,966.8 1495.3,971.2 1496.0,984.7 1496.8,995.0 1497.5,975.3 1498.2,971.6 1498.9,982.6 1499.7,984.9 1500.4,963.8 1501.1,1023.0 1501.8,973.4 1502.6,961.5 1503.3,980.7 1504.0,987.6 1504.7,980.6 1505.5,971.9 1506.2,980.0 1506.9,988.7 1507.6,972.0 1508.4,969.9 1509.1,987.1 1509.8,989.6 1510.5,973.3 1511.3,1027.1 1512.0,1007.2 1512.7,1017.6 1513.4,1008.4 1514.2,971.6 1514.9,1022.7 1515.6,969.9 1516.3,980.4 1517.1,999.4 1517.8,987.9 1518.5,1008.9 1519.2,1022.8 1520.0,1000.2 1520.7,1026.4 1521.4,979.7 1522.1,1014.1 1522.9,1011.2 1523.6,1027.8 1524.3,1012.8 1525.0,977.2 1525.8,1008.1 1526.5,994.2 1527.2,1001.1 1527.9,1005.9 1528.7,1015.6 1529.4,992.4 1530.1,1005.5 1530.8,1013.3 1531.6,1009.6 1532.3,1008.6 1533.0,973.2 1533.7,1000.0 1534.5,1020.9 1535.2,990.9 1535.9,1006.6 1536.6,1000.1 1537.4,1019.4 1538.1,1017.8 1538.8,1003.4 1539.5,1023.4 1540.3,1021.6 1541.0,996.0 1541.7,1009.8 1542.4,1005.6 1543.2,995.9 1543.9,1027.8 1544.6,1002.8 1545.3,1012.0 1546.1,979.6 1546.8,1004.0 1547.5,987.0 1548.2,1014.3 1549.0,1003.5 1549.7,1022.2 1550.4,1033.5 1551.1,987.5 1551.9,1012.8 1552.6,1009.5 1553.3,1004.2 1554.0,1001.4 1554.8,1011.9 1555.5,1021.5 1556.2,1022.9 1556.9,1029.1 1557.7,1014.0 1558.4,1028.1 1559.1,1023.5 1559.8,1028.7 1560.6,1038.4 1561.3,1024.8 1562.0,1029.4 1562.7,1008.6 1563.5,990.6 1564.2,1001.4 1564.9,1024.4 1565.6,1018.4 1566.4,1011.2 1567.1,1035.5 1567.8,1027.5 1568.5,1039.0 1569.3,1001.5 1570.0,1008.8 1570.7,1019.8 1571.4,1025.3 1572.2,1032.3 1572.9,1022.7 1573.6,1034.8 1574.3,1044.6 1575.1,1017.2 1575.8,1032.8 1576.5,1018.8 1577.2,1019.0 1578.0,997.9 1578.7,1000.8 1579.4,1001.5 1580.1,1014.3 1580.9,994.7 1581.6,985.7 1582.3,1007.3 1583.0,1043.7 1583.8,1011.4 1584.5,988.5 1585.2,1006.2 1585.9,1018.4 1586.7,1025.5 1587.4,1016.7 1588.1,1034.9 1588.8,1022.9 1589.6,999.9 1590.3,1038.9 1591.0,1004.4 1591.7,1027.1 1592.5,1016.0 1593.2,983.3 1593.9,983.3 1594.6,1004.9 1595.4,1008.4 1596.1,1031.5 1596.8,1014.7 1597.5,1042.5 1598.3,1021.6 1599.0,1015.3 1599.7,1003.0 1600.4,1035.7 1601.2,1031.8 1601.9,1030.8 1602.6,1007.4 1603.3,1030.7 1604.1,974.9 1604.8,1022.2 1605.5,1014.2 1606.2,1012.5 1607.0,972.4 1607.7,1034.3 1608.4,991.8 1609.1,993.7 1609.9,997.4 1610.6,994.3 1611.3,978.0 1612.0,1012.6 1612.8,1001.9 1613.5,1007.8 1614.2,984.3 1614.9,1008.2 1615.7,1002.6 1616.4,1032.8 1617.1,992.7 1617.8,976.1 1618.6,1004.2 1619.3,1012.0 1620.0,1019.5 1620.7,1021.7 1621.5,994.7 1622.2,1007.7 1622.9,992.5 1623.6,1014.3 1624.4,1042.2 1625.1,991.5 1625.8,985.5 1626.5,985.3 1627.3,999.3 1628.0,1009.4 1628.7,1000.2 1629.4,979.6 1630.2,1006.7 1630.9,1011.3 1631.6,1032.3 1632.3,1008.3 1633.1,979.9 1633.8,1014.3 1634.5,998.1 1635.2,985.0 1636.0,1002.8 1636.7,1005.5 1637.4,1007.0 1638.1,980.4 1638.9,994.1 1639.6,999.4 1640.3,1004.2 1641.0,1005.2 1641.8,983.5 1642.5,1016.0 1643.2,986.3 1643.9,1010.8 1644.7,1006.9 1645.4,970.5 1646.1,996.5 1646.8,1005.4 1647.6,1009.7 1648.3,1002.7 1649.0,1011.5 1649.7,1005.2 1650.5,999.4 1651.2,1021.2 1651.9,1095.8 1652.6,1006.6 1653.4,1009.2 1654.1,1021.2 1654.8,997.1 1655.5,1028.9 1656.3,1018.0 1657.0,1043.5 1657.7,1004.2 1658.4,1019.3 1659.2,994.1 1659.9,1021.1 1660.6,1005.5 1661.3,997.1 1662.1,1001.4 1662.8,1004.0 1663.5,1014.4 1664.2,1000.0 1665.0,1021.1 1665.7,1008.7 1666.4,1007.6 1667.1,999.6 1667.9,1006.9 1668.6,1041.8 1669.3,990.2 1670.0,1001.0 1670.8,1003.1 1671.5,1006.7 1672.2,994.2 1672.9,971.5 1673.7,1010.6 1674.4,1009.4 1675.1,1012.1 1675.8,1006.2 1676.6,983.6 1677.3,1015.3 1678.0,993.0 1678.7,1003.3 1679.5,1026.1 1680.2,1016.3 1680.9,990.6 1681.6,1004.5 1682.4,1023.1 1683.1,1016.4 1683.8,1001.6 1684.5,983.9 1685.3,989.3 1686.0,996.0 1686.7,1002.6 1687.4,1016.3 1688.2,1013.1 1688.9,972.4 1689.6,988.7 1690.3,982.7 1691.1,979.0 1691.8,1003.8 1692.5,996.1 1693.2,982.9 1694.0,1033.9 1694.7,990.6 1695.4,986.7 1696.1,996.3 1696.9,1030.1 1697.6,1023.2 1698.3,997.0 1699.0,1009.7 1699.8,981.4 1700.5,1015.3 1701.2,1007.7 1701.9,964.0 1702.7,996.0 1703.4,1007.4 1704.1,969.6 1704.8,990.1 1705.6,985.6 1706.3,1005.3 1707.0,975.7 1707.7,1010.3 1708.5,993.7 1709.2,1017.2 1709.9,1008.1 1710.6,991.4 1711.4,978.6 1712.1,985.0 1712.8,1012.9 1713.5,1017.7 1714.3,1000.7 1715.0,1004.1 1715.7,998.5 1716.4,986.2 1717.2,998.5 1717.9,997.0 1718.6,989.8 1719.3,1002.4 1720.1,1027.8 1720.8,969.3 1721.5,1003.3 1722.2,994.5 1723.0,976.1 1723.7,997.2 1724.4,1023.3 1725.1,954.9 1725.9,991.1 1726.6,970.7 1727.3,1004.0 1728.0,995.7 1728.8,989.0 1729.5,983.7 1730.2,999.1 1730.9,1010.8 1731.7,969.8 1732.4,961.4 1733.1,981.7 1733.8,998.1 1734.6,981.4 1735.3,1011.5 1736.0,987.5 1736.7,981.6 1737.5,993.1 1738.2,967.6 1738.9,972.6 1739.6,979.1 1740.4,974.6 1741.1,1007.8 1741.8,996.4 1742.5,985.2 1743.3,971.7 1744.0,997.6 1744.7,1000.4 1745.4,977.9 1746.2,961.1 1746.9,987.4 1747.6,977.3 1748.3,973.1 1749.1,979.0 1749.8,994.2 1750.5,976.3 1751.2,978.5 1752.0,972.4 1752.7,969.1 1753.4,965.7 1754.1,991.6 1754.9,983.1 1755.6,975.5 1756.3,977.7 1757.0,988.6 1757.8,993.3 1758.5,987.6 1759.2,990.8 1759.9,997.5 1760.7,979.5 1761.4,968.9 1762.1,1041.9 1762.8,1004.2 1763.6,1009.4 1764.3,973.6 1765.0,990.2 1765.7,1007.9 1766.5,1010.4 1767.2,992.8 1767.9,1003.6 1768.6,992.4 1769.4,977.3 1770.1,976.4 1770.8,973.0 1771.5,986.1 1772.3,1011.1 1773.0,990.2 1773.7,1021.9 1774.4,1008.8 1775.2,1003.7 1775.9,976.8 1776.6,985.7 1777.3,1000.4 1778.1,976.8 1778.8,1003.0 1779.5,1008.4 1780.2,1000.6 1781.0,971.9 1781.7,996.8 1782.4,959.7 1783.1,1009.2 1783.9,974.4 1784.6,972.6 1785.3,980.8 1786.0,971.0 1786.8,992.7 1787.5,984.3 1788.2,1007.9 1788.9,956.1 1789.7,979.7 1790.4,989.2 1791.1,978.5 1791.8,962.7 1792.6,962.6 1793.3,986.9 1794.0,968.3 1794.7,950.1 1795.5,958.7 1796.2,983.2 1796.9,995.5 1797.6,983.8 1798.4,998.4 1799.1,990.7 1799.8,993.7 1800.5,967.7 1801.3,973.9 1802.0,995.7 1802.7,987.0 1803.4,986.3 1804.2,990.5 1804.9,931.6 1805.6,979.0 1806.3,977.7 1807.1,966.9 1807.8,965.2 1808.5,938.1 1809.2,965.5 1810.0,962.8 1810.7,958.0 1811.4,967.4 1812.1,980.6 1812.9,959.6 1813.6,949.7 1814.3,958.9 1815.0,980.6 1815.8,971.7 1816.5,956.7 1817.2,957.7 1817.9,964.8 1818.7,938.5 1819.4,943.6 1820.1,967.2 1820.8,969.5 1821.6,948.8 1822.3,952.0 1823.0,946.1 1823.7,986.7 1824.5,941.4 1825.2,945.3 1825.9,936.4 1826.6,920.2 1827.4,901.0 1828.1,928.3 1828.8,988.0 1829.5,934.7 1830.3,956.9 1831.0,951.7 1831.7,975.0 1832.4,939.6 1833.2,926.6 1833.9,886.1 1834.6,976.9 1835.3,967.7 1836.1,915.6 1836.8,960.2 1837.5,941.2 1838.2,953.7 1839.0,931.6 1839.7,958.9 1840.4,984.0 1841.1,961.6 1841.9,965.0 1842.6,965.0 1843.3,957.5 1844.0,958.3 1844.8,981.8 1845.5,992.7 1846.2,979.4 1846.9,968.2 1847.7,977.8 1848.4,979.5 1849.1,965.3 1849.8,948.1 1850.6,972.5 1851.3,937.7 1852.0,969.4 1852.7,944.2 1853.5,943.5 1854.2,957.2 1854.9,947.4 1855.6,962.9 1856.4,969.5 1857.1,962.7 1857.8,971.8 1858.5,984.8 1859.3,962.1 1860.0,953.3 1860.7,963.0 1861.4,962.5 1862.2,934.7 1862.9,957.6 1863.6,944.4 1864.3,984.7 1865.1,945.1 1865.8,952.5 1866.5,964.0 1867.2,925.0 1868.0,934.0 1868.7,956.7 1869.4,963.1 1870.1,942.9 1870.9,964.0 1871.6,968.6 1872.3,965.9 1873.0,980.6 1873.8,965.1 1874.5,950.1 1875.2,976.2 1875.9,973.3 1876.7,950.0 1877.4,942.4 1878.1,962.4 1878.8,961.8 1879.6,979.7 1880.3,961.0 1881.0,975.6 1881.7,979.7 1882.5,964.9 1883.2,971.9 1883.9,934.6 1884.6,940.0 1885.4,954.5 1886.1,948.4 1886.8,951.7 1887.5,958.1 1888.3,934.8 1889.0,977.4 1889.7,965.8 1890.4,973.0 1891.2,929.0 1891.9,943.4 1892.6,930.8 1893.3,939.0 1894.1,957.5 1894.8,957.1 1895.5,966.3 1896.2,924.1 1897.0,960.8 1897.7,930.9 1898.4,955.0 1899.1,964.8 1899.9,930.9 1900.6,943.9 1901.3,959.3 1902.0,967.0 1902.8,913.2 1903.5,919.0 1904.2,906.9 1904.9,952.5 1905.7,952.9 1906.4,943.0 1907.1,948.6 1907.8,945.4 1908.6,935.0 1909.3,954.1 1910.0,897.7 1910.7,910.1 1911.5,916.7 1912.2,944.9 1912.9,906.1 1913.6,974.4 1914.4,971.5 1915.1,972.3 1915.8,912.2 1916.5,952.4 1917.3,944.6 1918.0,981.8 1918.7,937.2 1919.4,945.3 1920.2,913.7 1920.9,954.8 1921.6,967.2 1922.3,941.6 1923.1,901.9 1923.8,930.6 1924.5,920.8 1925.2,948.9 1926.0,936.7 1926.7,954.3 1927.4,952.5 1928.1,952.4 1928.9,967.2 1929.6,927.6 1930.3,984.2 1931.0,939.8 1931.8,914.9 1932.5,957.2 1933.2,953.8 1933.9,950.9 1934.7,968.7 1935.4,919.5 1936.1,941.2 1936.8,902.0 1937.6,929.3 1938.3,921.7 1939.0,909.8 1939.7,895.0 1940.5,928.8 1941.2,884.2 1941.9,903.0 1942.6,942.9 1943.4,963.5 1944.1,919.6 1944.8,903.8 1945.5,943.1 1946.3,909.3 1947.0,917.2 1947.7,926.2 1948.4,892.3 1949.2,880.1 1949.9,874.3 1950.6,883.4 1951.3,887.0 1952.1,900.4 1952.8,920.5 1953.5,897.2 1954.2,886.6 1955.0,914.1 1955.7,880.5 1956.4,926.3 1957.1,913.0 1957.9,933.5 1958.6,913.6 1959.3,907.0 1960.0,920.9 1960.8,917.1 1961.5,910.2 1962.2,899.2 1962.9,910.1 1963.7,872.1 1964.4,913.7 1965.1,874.7 1965.8,927.3 1966.6,858.8 1967.3,870.9 1968.0,950.2 1968.7,904.5 1969.5,839.2 1970.2,880.3 1970.9,852.7 1971.6,827.3 1972.4,886.7 1973.1,851.3 1973.8,894.8 1974.5,838.9 1975.3,850.4 1976.0,865.2 1976.7,815.4 1977.4,826.0 1978.2,769.8 1978.9,835.3 1979.6,839.2 1980.3,824.6 1981.1,792.6 1981.8,752.2 1982.5,851.6 1983.2,756.7 1984.0,764.4 1984.7,805.9 1985.4,776.1 1986.1,773.1 1986.9,810.6 1987.6,735.0 1988.3,765.9 1989.0,701.3 1989.8,722.9 1990.5,707.3 1991.2,694.3 1991.9,672.2 1992.7,596.0 1993.4,601.0 1994.1,628.5 1994.8,535.8 1995.6,589.3 1996.3,571.2 1997.0,444.0 1997.7,420.5 1998.5,500.7 1999.2,442.7 1999.9,357.3 2000.6,330.7 2001.4,317.2 2002.1,329.3 2002.8,266.9 2003.5,346.6 2004.3,258.3 2005.0,251.4 2005.7,263.3 2006.4,289.6 2007.2,171.6 2007.9,111.5 2008.6,91.1 2009.3,-30.0 2010.1,-109.9 2010.8,-149.3 2011.5,-234.4 2012.2,-302.5 2013.0,-315.6 2013.7,-274.5 2014.4,-275.2 2015.1,-270.3 2015.9,-316.7 2016.6,-351.8 2017.3,-342.9 2018.0,-224.1 2018.8,-317.5 2019.5,-323.6 2020.2,-316.3 2020.9,-376.7 2021.7,-354.8 2022.4,-274.6 2023.1,-265.4 2023.8,-331.5 2024.6,-310.3 2025.3,-315.2 2026.0,-297.4 2026.7,-321.7 2027.5,-320.7 2028.2,-325.1 2028.9,-324.9 2029.6,-340.4 2030.4,-293.8 2031.1,-280.3 2031.8,-352.4 2032.5,-280.3 2033.3,-328.4 2034.0,-275.4 2034.7,-290.5 2035.4,-393.1 2036.2,-377.2 2036.9,-323.4 2037.6,-321.0 2038.3,-335.3 2039.1,-368.8 2039.8,-328.2 2040.5,-411.4 2041.2,-297.7 2042.0,-309.1 2042.7,-332.7 2043.4,-287.0 2044.1,-352.7 2044.9,-289.5 2045.6,-281.5 2046.3,-305.3 2047.0,-280.2 2047.8,-314.3 2048.5,-198.4 2049.2,-379.3 2049.9,-310.4 2050.7,-294.2 2051.4,-261.5 2052.1,-263.1 2052.8,-325.3 2053.6,-352.5 2054.3,-330.6 2055.0,-353.5 2055.7,-332.9 2056.5,-349.8 2057.2,-381.9 2057.9,-273.3 2058.6,-339.2 2059.4,-270.6 2060.1,-254.8 2060.8,-290.2 2061.5,-241.1 2062.3,-293.8 2063.0,-202.0 2063.7,-99.5 2064.4,6.9 2065.2,15.4 2065.9,47.1 2066.6,135.3 2067.3,183.7 2068.1,162.6 2068.8,275.9 2069.5,319.3 2070.2,295.7 2071.0,313.3 2071.7,373.0 2072.4,280.8 2073.1,337.8 2073.9,307.7 2074.6,349.7 2075.3,354.6 2076.0,340.4 2076.8,322.8 2077.5,333.9 2078.2,274.2 2078.9,348.1 2079.7,367.5 2080.4,437.8 2081.1,436.2 2081.8,449.3 2082.6,420.1 2083.3,439.7 2084.0,474.5 2084.7,529.4 2085.5,459.2 2086.2,495.3 2086.9,564.1 2087.6,551.3 2088.4,605.2 2089.1,591.8 2089.8,558.9 2090.5,567.4 2091.3,571.0 2092.0,585.1 2092.7,631.9 2093.4,594.1 2094.2,582.1 2094.9,643.1 2095.6,622.7 2096.3,676.0 2097.1,644.2 2097.8,618.9 2098.5,671.1 2099.2,638.7 2100.0,664.4 2100.7,666.1 2101.4,733.9 2102.1,735.2 2102.9,671.0 2103.6,682.0 2104.3,656.0 2105.0,663.3 2105.8,697.2 2106.5,706.0 2107.2,676.3 2107.9,726.9 2108.7,716.8 2109.4,763.4 2110.1,712.5 2110.8,772.2 2111.6,751.4 2112.3,729.6 2113.0,758.6 2113.7,740.2 2114.5,728.5 2115.2,733.0 2115.9,798.2 2116.6,774.4 2117.4,800.9 2118.1,820.9 2118.8,774.7 2119.5,774.0 2120.3,748.5 2121.0,798.3 2121.7,774.0 2122.4,770.8 2123.2,808.2 2123.9,839.0 2124.6,831.9 2125.3,792.5 2126.1,884.7 2126.8,866.2 2127.5,851.5 2128.2,871.9 2129.0,840.1 2129.7,859.4 2130.4,873.3 2131.1,860.2 2131.9,893.2 2132.6,855.7 2133.3,881.9 2134.0,886.1 2134.8,861.9 2135.5,873.2 2136.2,872.0 2136.9,932.7 2137.7,910.3 2138.4,880.8 2139.1,902.8 2139.8,881.6 2140.6,945.1 2141.3,887.6 2142.0,941.3 2142.7,902.0 2143.5,918.9 2144.2,897.2 2144.9,869.7 2145.6,936.3 2146.4,933.1 2147.1,933.6 2147.8,937.4 2148.5,966.3 2149.3,906.3 2150.0,915.7 2150.7,935.2 2151.4,908.0 2152.2,917.3 2152.9,908.2 2153.6,949.0 2154.3,914.9 2155.1,949.6 2155.8,943.0 2156.5,941.1 2157.2,927.1 2158.0,949.8 2158.7,910.4 2159.4,954.5 2160.1,910.2 2160.9,957.4 2161.6,942.1 2162.3,936.5 2163.0,957.8 2163.8,942.4 2164.5,930.7 2165.2,935.8 2165.9,871.8 2166.7,947.8 2167.4,924.6 2168.1,952.5 2168.8,934.9 2169.6,957.2 2170.3,925.9 2171.0,924.2 2171.7,944.1 2172.5,934.7 2173.2,925.2 2173.9,950.7 2174.6,929.2 2175.4,935.6 2176.1,954.2 2176.8,949.6 2177.5,949.1 2178.3,954.2 2179.0,933.0 2179.7,954.2 2180.4,950.6 2181.2,952.6 2181.9,948.0 2182.6,922.6 2183.3,969.6 2184.1,922.1 2184.8,943.9 2185.5,955.6 2186.2,980.8 2187.0,931.0 2187.7,958.8 2188.4,956.5 2189.1,961.4 2189.9,942.7 2190.6,972.4 2191.3,948.1 2192.0,951.5 2192.8,955.3 2193.5,967.7 2194.2,948.1 2194.9,962.4 2195.7,961.5 2196.4,958.1 2197.1,941.1 2197.8,963.0 2198.6,972.0 2199.3,968.3 2200.0,984.4 2200.7,964.8 2201.5,982.9 2202.2,970.5 2202.9,970.8 2203.6,988.7 2204.4,968.9 2205.1,958.0 2205.8,983.2 2206.5,974.9 2207.3,952.1 2208.0,956.0 2208.7,976.0 2209.4,983.4 2210.2,964.4 2210.9,981.2 2211.6,958.7 2212.3,982.8 2213.1,925.6 2213.8,971.5 2214.5,970.6 2215.2,963.0 2216.0,942.6 2216.7,963.5 2217.4,946.2 2218.1,987.4 2218.9,946.1 2219.6,977.4 2220.3,951.6 2221.0,942.6 2221.8,976.0 2222.5,1004.0 2223.2,1008.9 2223.9,958.8 2224.7,978.7 2225.4,985.8 2226.1,1002.4 2226.8,983.1 2227.6,1006.9 2228.3,980.8 2229.0,992.8 2229.7,984.5 2230.5,984.5 2231.2,994.4 2231.9,986.3 2232.6,1023.3 2233.4,961.6 2234.1,1018.1 2234.8,1007.1 2235.5,999.9 2236.3,1016.7 2237.0,1018.0 2237.7,987.5 2238.4,977.4 2239.2,1038.8 2239.9,1011.7 2240.6,1004.4 2241.3,1037.7 2242.1,993.9 2242.8,990.0 2243.5,1016.8 2244.2,1005.0 2245.0,999.9 2245.7,993.7 2246.4,1012.7 2247.1,989.2 2247.9,1028.4 2248.6,990.2 2249.3,996.7 2250.0,1002.3 2250.8,989.1 2251.5,1034.7 2252.2,998.2 2252.9,1022.0 2253.7,993.4 2254.4,1052.4 2255.1,1017.6 2255.8,1021.5 2256.6,1003.9 2257.3,1011.3 2258.0,988.1 2258.7,996.6 2259.5,1006.9 2260.2,978.9 2260.9,989.3 2261.6,1021.9 2262.4,1016.3 2263.1,1003.6 2263.8,1018.9 2264.5,1006.0 2265.3,1023.3 2266.0,994.1 2266.7,979.7 2267.4,992.1 2268.2,1027.9 2268.9,985.0 2269.6,1003.9 2270.3,1010.3 2271.1,992.5 2271.8,1009.6 2272.5,993.7 2273.2,1010.8 2274.0,989.8 2274.7,1007.1 2275.4,983.3 2276.1,964.4 2276.9,1026.2 2277.6,1018.0 2278.3,997.2 2279.0,999.9 2279.8,991.3 2280.5,1030.8 2281.2,990.8 2281.9,1029.7 2282.7,1024.3 2283.4,993.1 2284.1,1030.9 2284.8,989.6 2285.6,1014.3 2286.3,1004.5 2287.0,1010.2 2287.7,960.8 2288.5,1002.1 2289.2,1015.1 2289.9,987.1 2290.6,1013.1 2291.4,1024.8 2292.1,1022.6 2292.8,990.7 2293.5,1022.8 2294.3,989.3 2295.0,1015.9 2295.7,977.9 2296.4,996.6 2297.2,966.2 2297.9,1032.2 2298.6,1019.2 2299.3,990.2 2300.1,993.4 2300.8,1020.1 2301.5,1014.6 2302.2,1005.6 2303.0,1011.2 2303.7,1016.6 2304.4,1005.6 2305.1,985.4 2305.9,996.1 2306.6,1014.6 2307.3,1015.7 2308.0,1019.5 2308.8,1017.6 2309.5,1004.3 2310.2,1002.0 2310.9,1039.8 2311.7,987.7 2312.4,993.3 2313.1,1021.6 2313.8,1012.8 2314.6,989.9 2315.3,977.5 2316.0,982.4 2316.7,1010.3 2317.5,994.1 2318.2,1008.7 2318.9,973.6 2319.6,1007.2 2320.4,984.7 2321.1,996.0 2321.8,1020.4 2322.5,998.8 2323.3,1005.2 2324.0,977.2 2324.7,973.3 2325.4,974.7 2326.2,1020.3 2326.9,984.9 2327.6,1003.6 2328.3,1022.9 2329.1,984.5 2329.8,999.7 2330.5,979.1 2331.2,1007.5 2332.0,998.6 2332.7,1014.4 2333.4,1007.1 2334.1,1017.8 2334.9,982.0 2335.6,988.5 2336.3,1023.0 2337.0,1010.5 2337.8,998.9 2338.5,995.0 2339.2,999.3 2339.9,993.1 2340.7,1015.1 2341.4,999.0 2342.1,1013.9 2342.8,997.7 2343.6,1047.5 2344.3,1020.7 2345.0,1010.1 2345.7,1010.2 2346.5,998.4 2347.2,1021.1 2347.9,1026.1 2348.6,1037.0 2349.4,1014.6 2350.1,1001.0 2350.8,1008.3 2351.5,1024.0 2352.3,1012.2 2353.0,1002.4 2353.7,1050.1 2354.4,1011.2 2355.2,1012.8 2355.9,1042.3 2356.6,1003.5 2357.3,1024.6 2358.1,1030.0 2358.8,1021.6 2359.5,1018.3 2360.2,1019.7 2361.0,1028.1 2361.7,1017.4 2362.4,1043.8 2363.1,1050.6 2363.9,998.7 2364.6,1034.9 2365.3,1023.9 2366.0,1025.2 2366.8,1027.9 2367.5,1021.4 2368.2,1026.8 2368.9,1011.5 2369.7,1034.1 2370.4,1037.0 2371.1,1031.5 2371.8,1039.9 2372.6,1017.2 2373.3,1041.2 2374.0,1038.4 2374.7,1015.3 2375.5,1024.4 2376.2,1015.5 2376.9,1012.9 2377.6,1059.0 2378.4,1019.4 2379.1,1010.9 2379.8,1018.0 2380.5,1020.6 2381.3,1053.9 2382.0,1042.4 2382.7,1007.0 2383.4,1015.6 2384.2,1013.2 2384.9,1005.9 2385.6,1007.9 2386.3,1006.4 2387.1,1014.1 2387.8,1022.3 2388.5,992.4 2389.2,996.7 2390.0,998.7 2390.7,1020.0 2391.4,1003.2 2392.1,1011.6 2392.9,1039.1 2393.6,1020.0 2394.3,1014.8 2395.0,1048.9 2395.8,1038.3 2396.5,1050.2 2397.2,1035.5 2397.9,1027.8 2398.7,1027.9 2399.4,1069.3 2400.1,1070.7 2400.8,1077.2 2401.6,1086.9 2402.3,1049.9 2403.0,1055.5 2403.7,1029.2 2404.5,1047.8 2405.2,1059.2 2405.9,1050.3 2406.6,1078.0 2407.4,1044.2 2408.1,1058.4 2408.8,1049.6 2409.5,1053.4 2410.3,1050.7 2411.0,1058.3 2411.7,1040.0 2412.4,1067.6 2413.2,1056.5 2413.9,1048.4 2414.6,1042.1 2415.3,1057.9 2416.1,1050.8 2416.8,1054.5 2417.5,1049.1 2418.2,1066.1 2419.0,1068.5 2419.7,1047.1 2420.4,1072.6 2421.1,1062.3 2421.9,1055.9 2422.6,1063.4 2423.3,1049.8 2424.0,1060.4 2424.8,1054.7 2425.5,1068.1" fill="none" stroke="#C673E0" stroke-width="3.6" stroke-linejoin="miter" stroke-miterlimit="2"/>
</g>
<text x="250.5" y="1894" font-size="97" text-anchor="middle" fill="#000">20</text>
<text x="613.1" y="1894" font-size="97" text-anchor="middle" fill="#000">30</text>
<text x="975.7" y="1894" font-size="97" text-anchor="middle" fill="#000">40</text>
<text x="1338.3" y="1894" font-size="97" text-anchor="middle" fill="#000">50</text>
<text x="1700.9" y="1894" font-size="97" text-anchor="middle" fill="#000">60</text>
<text x="2063.5" y="1894" font-size="97" text-anchor="middle" fill="#000">70</text>
<text x="2426.1" y="1894" font-size="97" text-anchor="middle" fill="#000">80</text>
<text x="1338" y="2096" font-size="109" text-anchor="middle" fill="#000">2θ(degree)</text>
<text transform="translate(100.8,872.7) rotate(-90)" font-size="108" text-anchor="middle" fill="#000">Intensity (a.u.)</text>
<text transform="translate(552.5,516.3) rotate(-90)" font-size="74.4" fill="#FF66FF" style="font-family:'DejaVu Sans',sans-serif">♣</text>
<text transform="translate(551.6,446.7) rotate(-90)" font-size="83.5" fill="#FF66FF">(110)</text>
<text transform="translate(814.1,529.8) rotate(-90)" font-size="74.9" fill="#FF66FF" style="font-family:'DejaVu Sans',sans-serif">♣</text>
<text transform="translate(812.7,460.3) rotate(-90)" font-size="81.9" fill="#FF66FF">(101)</text>
<text transform="translate(873.3,665.8) rotate(-90)" font-size="77.3" fill="#FF6100">●</text>
<text transform="translate(880.1,618.0) rotate(-90)" font-size="85.6" fill="#FF6100">(111)</text>
<text transform="translate(1067.5,512.0) rotate(-90)" font-size="77.6" fill="#FF6100">●</text>
<text transform="translate(1072.9,466.6) rotate(-90)" font-size="83.5" fill="#FF6100">(200)</text>
<g transform="translate(1094.0,755.9) scale(1,1.13) translate(-1094.0,-755.9)"><text transform="translate(1120.7,778.8) rotate(-90)" font-size="91.8" fill="#00FFFF">♦</text></g>
<text transform="translate(1121.6,717.4) rotate(-90)" font-size="84.4" fill="#00FFFF">(111)</text>
<text transform="translate(1523.9,535.3) rotate(-90)" font-size="76.0" fill="#FF66FF" style="font-family:'DejaVu Sans',sans-serif">♣</text>
<text transform="translate(1523.1,465.5) rotate(-90)" font-size="82.6" fill="#FF66FF">(211)</text>
<text x="1627.5" y="180.7" font-size="76.9" fill="#FF66FF" style="font-family:'DejaVu Sans',sans-serif">♣</text>
<text x="1699.3" y="179.2" font-size="83.0" fill="#FF66FF">TiO</text>
<text x="1838.8" y="203.4" font-size="85.5" fill="#FF66FF">2</text>
<g transform="translate(1662.8,301.1) scale(1.11,1) translate(-1662.8,-301.1)"><text x="1640.6" y="326.8" font-size="88.7" fill="#00FFFF">♦</text></g>
<text x="1694.1" y="327.0" font-size="86.0" fill="#00FFFF">Cu</text>
<text x="1647.7" y="446.5" font-size="76.6" fill="#FF6100">●</text>
<text x="1691.5" y="450.1" font-size="84.6" fill="#FF6100">CuO</text>
<text x="1175.6" y="945.3" font-size="82.5" fill="#C673E0">Cu20</text>
<text x="1158.2" y="1154.8" font-size="83.4" fill="#006BE3">Cu15</text>
<text x="1165.6" y="1367.6" font-size="81.4" fill="#FF3D40">Cu10</text>
<text x="1186.3" y="1574.6" font-size="83.4" fill="#2B2B2B">TiO</text>
<text x="1327.9" y="1596.3" font-size="54.2" fill="#2B2B2B">2</text>
<text x="1559.7" y="595.4" font-size="82.6" fill="#2B2B2B">Substrate</text>
<line x1="1950" y1="575" x2="2030" y2="573.5" stroke="#2B2B2B" stroke-width="6"/>
<polygon points="1905,575.5 1964,562.7 1964,589" fill="#2B2B2B"/>
</svg></body></html>
